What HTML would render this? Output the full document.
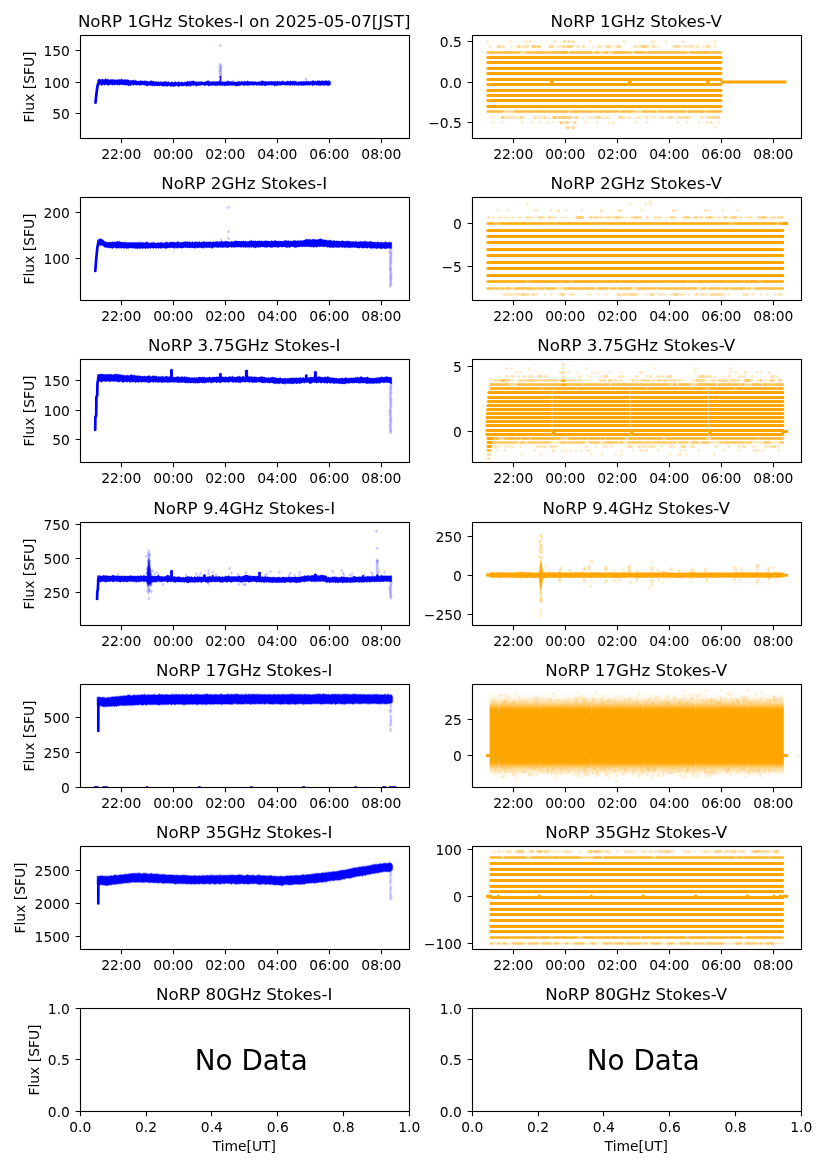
<!DOCTYPE html>
<html lang="en"><head><meta charset="utf-8"><title>NoRP daily plot 2025-05-07</title>
<style>html,body{margin:0;padding:0;background:#fff}svg{display:block}</style></head>
<body>
<svg width="827" height="1169" viewBox="0 0 827 1169" font-family="'DejaVu Sans', 'Liberation Sans', sans-serif" fill="#000">
<rect width="827" height="1169" fill="#fff"/>
<g id="ax00">
<clipPath id="cp00"><rect x="80.5" y="35.5" width="329.0" height="103"/></clipPath>
<g clip-path="url(#cp00)"><path d="M95.5 102.6 96.1 97 96.9 90 97.6 85.5 98.5 82.6" fill="none" stroke="#0000ff" stroke-width="2.7" stroke-linejoin="round" stroke-linecap="round"/><path d="M97.6 79.8 98.6 79.2 99.6 78.9 100.6 79.6 101.6 79.4 102.6 78.8 103.6 79.9 104.6 79.5 105.6 78.6 106.6 79.6 107.6 79 108.6 79.4 109.6 79.8 110.6 79.7 111.6 79.3 112.6 79.6 113.6 79.5 114.6 79.8 115.6 79.9 116.6 79.4 117.6 79.7 118.6 79.7 119.6 79.3 120.6 79.8 121.6 78.6 122.6 80 123.6 79.4 124.6 79.8 125.6 79.6 126.6 79.7 127.6 79.6 128.6 79.9 129.6 80.3 130.6 80.4 131.6 80.6 132.6 80.3 133.6 79.9 134.6 80.7 135.6 79.9 136.6 80.9 137.6 80.9 138.6 81 139.6 81.2 140.6 80.2 141.6 80.9 142.6 80.9 143.6 81.1 144.6 80.8 145.6 80.8 146.6 81.3 147.6 80.9 148.6 81.7 149.6 81.2 150.6 81 151.6 80.4 152.6 81.2 153.6 81.2 154.6 81.8 155.6 81.5 156.6 81.7 157.6 81.7 158.6 81.7 159.6 82 160.6 81.5 161.6 82.1 162.6 81.7 163.6 82 164.6 81.4 165.6 81.2 166.6 81.8 167.6 82 168.6 81.4 169.6 82.3 170.6 82.4 171.6 81.7 172.6 81.9 173.6 82.5 174.6 82.1 175.6 81.6 176.6 82.3 177.6 82.5 178.6 81.6 179.6 81.9 180.6 82.4 181.6 81.7 182.6 82.3 183.6 82.4 184.6 82 185.6 82.1 186.6 81.8 187.6 81 188.6 81.6 189.6 81.7 190.6 81 191.6 81.2 192.6 80.9 193.6 80.8 194.6 81.4 195.6 81.7 196.6 81.8 197.6 82.1 198.6 81.4 199.6 81.9 200.6 81.8 201.6 81.3 202.6 82 203.6 81.9 204.6 81.9 205.6 81.3 206.6 81.5 207.6 80.8 208.6 80.7 209.6 81.3 210.6 81.9 211.6 81.6 212.6 81.4 213.6 81.5 214.6 81.4 215.6 81.9 216.6 81.5 217.6 81.5 218.6 81.4 219.6 80.8 220.6 81.7 221.6 81.9 222.6 81.6 223.6 82 224.6 81.7 225.6 81.7 226.6 81.7 227.6 80.6 228.6 81.4 229.6 81.6 230.6 81.4 231.6 81.4 232.6 81.9 233.6 81.4 234.6 81.9 235.6 82 236.6 82 237.6 81.7 238.6 81.3 239.6 81.4 240.6 81.9 241.6 81 242.6 81.5 243.6 81.7 244.6 81 245.6 81.5 246.6 81.7 247.6 80.6 248.6 81.6 249.6 81.6 250.6 81.6 251.6 81.4 252.6 81.5 253.6 81.9 254.6 81.5 255.6 81.6 256.6 81.9 257.6 81.8 258.6 81.9 259.6 81.3 260.6 81.7 261.6 80.8 262.6 80.7 263.6 81.2 264.6 81.6 265.6 81.3 266.6 81.4 267.6 81.8 268.6 81.3 269.6 81.8 270.6 81.2 271.6 81.2 272.6 81.6 273.6 81.6 274.6 81.3 275.6 81.3 276.6 81.7 277.6 81.1 278.6 81.6 279.6 81.3 280.6 81.5 281.6 81.7 282.6 80.6 283.6 81.6 284.6 81.8 285.6 81.7 286.6 81.6 287.6 81 288.6 81.3 289.6 81.5 290.6 80.7 291.6 81.5 292.6 81.3 293.6 80.9 294.6 81.2 295.6 81.1 296.6 81.8 297.6 82 298.6 81.8 299.6 81.7 300.6 81.3 301.6 81.6 302.6 81.6 303.6 81.3 304.6 81.5 305.6 81.2 306.6 81.1 307.6 81.8 308.6 81.1 309.6 81.7 310.6 81.2 311.6 81.2 312.6 81.7 313.6 80.6 314.6 81.7 315.6 80.7 316.6 81.4 317.6 81.3 318.6 81.5 319.6 80.4 320.6 81.3 321.6 81.1 322.6 81.3 323.6 81 324.6 80.9 325.6 81.1 326.6 81.1 327.6 81.1 328.6 81 329.6 81.5 330.6 81.9 L330.6 84.9 329.6 85 328.6 85.8 327.6 85.4 326.6 85.6 325.6 84.9 324.6 85.4 323.6 85.5 322.6 85.1 321.6 85.4 320.6 85.4 319.6 85.4 318.6 85.5 317.6 85.1 316.6 85.5 315.6 85.1 314.6 85.1 313.6 85.2 312.6 85.9 311.6 85 310.6 84.8 309.6 85.4 308.6 85.1 307.6 85.2 306.6 85.3 305.6 85 304.6 85.4 303.6 85.6 302.6 85.5 301.6 85.4 300.6 85.3 299.6 85.1 298.6 85.8 297.6 84.9 296.6 85.5 295.6 84.9 294.6 85.5 293.6 84.9 292.6 85.5 291.6 84.9 290.6 85.6 289.6 85.4 288.6 85.1 287.6 85 286.6 85.2 285.6 85.3 284.6 85.1 283.6 85 282.6 84.9 281.6 84.9 280.6 85.5 279.6 85.3 278.6 85.3 277.6 85.4 276.6 85.8 275.6 85.2 274.6 86.1 273.6 85.5 272.6 85 271.6 85.3 270.6 85.1 269.6 84.9 268.6 85.3 267.6 85.2 266.6 85.3 265.6 85.7 264.6 86.1 263.6 85 262.6 85.5 261.6 85.4 260.6 85.4 259.6 85.3 258.6 85.2 257.6 85.3 256.6 85.6 255.6 85 254.6 84.9 253.6 85.4 252.6 85.2 251.6 84.9 250.6 85.3 249.6 85.1 248.6 85.8 247.6 85.4 246.6 85.2 245.6 85.3 244.6 85.3 243.6 86 242.6 85 241.6 84.9 240.6 85.5 239.6 85.7 238.6 85.7 237.6 86 236.6 85.7 235.6 86.4 234.6 85.2 233.6 85.3 232.6 85.6 231.6 85.6 230.6 85.2 229.6 85.4 228.6 85.7 227.6 85.7 226.6 85.6 225.6 85.6 224.6 86 223.6 85.2 222.6 85.7 221.6 85.8 220.6 85.1 219.6 86.1 218.6 85.1 217.6 85.4 216.6 85.7 215.6 85.7 214.6 85.5 213.6 85.3 212.6 85.7 211.6 85.2 210.6 85.8 209.6 85.5 208.6 86.2 207.6 85.2 206.6 85.1 205.6 85.6 204.6 85.8 203.6 85.3 202.6 85.1 201.6 85.1 200.6 85.5 199.6 85.5 198.6 85.5 197.6 85.7 196.6 86.3 195.6 85.7 194.6 85.3 193.6 85.5 192.6 85.5 191.6 85.5 190.6 86.5 189.6 85.8 188.6 85.9 187.6 86.1 186.6 86.5 185.6 85.6 184.6 85.7 183.6 86 182.6 85.9 181.6 86.1 180.6 85.8 179.6 86.1 178.6 86.9 177.6 85.9 176.6 85.8 175.6 86.2 174.6 86 173.6 87.1 172.6 86 171.6 86.4 170.6 86.5 169.6 85.8 168.6 85.8 167.6 86.2 166.6 86.4 165.6 86 164.6 86 163.6 86.3 162.6 86.2 161.6 85.9 160.6 85.6 159.6 86.1 158.6 85.7 157.6 85.9 156.6 85.9 155.6 85.5 154.6 86.3 153.6 85.3 152.6 86.2 151.6 85.5 150.6 85.7 149.6 85.1 148.6 85.3 147.6 86.3 146.6 85.7 145.6 85.5 144.6 85.2 143.6 85.1 142.6 84.8 141.6 85.1 140.6 85.2 139.6 85.4 138.6 85.1 137.6 84.9 136.6 85.3 135.6 85.1 134.6 84.7 133.6 85.6 132.6 84.8 131.6 84.7 130.6 85.9 129.6 85.3 128.6 85.9 127.6 85.2 126.6 85.3 125.6 85 124.6 85.2 123.6 84.8 122.6 84.7 121.6 85 120.6 84.6 119.6 85.3 118.6 84.5 117.6 85.2 116.6 85 115.6 84.4 114.6 85 113.6 84.7 112.6 85.4 111.6 84.6 110.6 84.7 109.6 84.8 108.6 85.6 107.6 85.2 106.6 84.7 105.6 84.5 104.6 85.2 103.6 84.5 102.6 85 101.6 85.7 100.6 84.4 99.6 84.9 98.6 85 97.6 84.7z" fill="#0000ff" stroke="#0000ff" stroke-width="0.3" stroke-linejoin="round"/><path d="M311.4 82.5L312.1 81Q313 79.6 313.9 81L314.6 82.5z" fill="#0000ff"/><path d="M316.4 82.5L317.1 81Q318 79.6 318.9 81L319.6 82.5z" fill="#0000ff"/><path d="M320.4 82.5L321.1 81Q322 79.6 322.9 81L323.6 82.5z" fill="#0000ff"/><path d="M324.4 82.5L325.1 81Q326 79.6 326.9 81L327.6 82.5z" fill="#0000ff"/><path d="M327.4 82.5L328.1 81Q329 79.6 329.9 81L330.6 82.5z" fill="#0000ff"/><rect x="219.6" y="76" width="1.8" height="7" fill="#0000ff" fill-opacity="0.9"/><path d="M220.3 63l1.4 1.9l-1.4 1.9l-1.4-1.9zM220.8 64.8l1.4 1.9l-1.4 1.9l-1.4-1.9zM220.3 65.7l1.4 1.9l-1.4 1.9l-1.4-1.9zM220.4 67.6l1.4 1.9l-1.4 1.9l-1.4-1.9zM220.5 68.2l1.4 1.9l-1.4 1.9l-1.4-1.9zM220.1 69.7l1.4 1.9l-1.4 1.9l-1.4-1.9zM220.5 71.5l1.4 1.9l-1.4 1.9l-1.4-1.9zM220.6 73l1.4 1.9l-1.4 1.9l-1.4-1.9zM220.1 74.1l1.4 1.9l-1.4 1.9l-1.4-1.9z" fill="#0000ff" fill-opacity="0.18" stroke="#0000ff" stroke-opacity="0.30" stroke-width="0.5"/><path d="M220.4 43.9l1.1 1.4l-1.1 1.4l-1.1-1.4z" fill="#0000ff" fill-opacity="0.18" stroke="#0000ff" stroke-opacity="0.30" stroke-width="0.5"/><path d="M306 77.8l1.1 1.4l-1.1 1.4l-1.1-1.4zM233 79.6l1.1 1.4l-1.1 1.4l-1.1-1.4z" fill="#0000ff" fill-opacity="0.18" stroke="#0000ff" stroke-opacity="0.30" stroke-width="0.5"/></g>
<path d="M121.5 138.5v4.86M173.5 138.5v4.86M225.5 138.5v4.86M277.5 138.5v4.86M329.5 138.5v4.86M381.5 138.5v4.86M80.5 50.5h-4.86M80.5 82.5h-4.86M80.5 113.5h-4.86" stroke="#000" stroke-width="1.11" fill="none"/>
<rect x="80.5" y="35.5" width="329.0" height="103" fill="none" stroke="#000" stroke-width="1.11"/>
<g font-size="13.889">
<text x="121.26" y="158.78" text-anchor="middle">22:00</text>
<text x="173.28" y="158.78" text-anchor="middle">00:00</text>
<text x="225.29" y="158.78" text-anchor="middle">02:00</text>
<text x="277.31" y="158.78" text-anchor="middle">04:00</text>
<text x="329.33" y="158.78" text-anchor="middle">06:00</text>
<text x="381.34" y="158.78" text-anchor="middle">08:00</text>
<text x="69.90" y="55.78" text-anchor="end">150</text>
<text x="69.90" y="87.78" text-anchor="end">100</text>
<text x="69.90" y="118.78" text-anchor="end">50</text>
<text x="33.8" y="87.0" text-anchor="middle" transform="rotate(-90 33.8 87.0)">Flux [SFU]</text>
</g>
<text x="244.20" y="27.17" font-size="16.667" text-anchor="middle">NoRP 1GHz Stokes-I on 2025-05-07[JST]</text>
</g>
<g id="ax01">
<clipPath id="cp01"><rect x="472.5" y="35.5" width="329.0" height="103"/></clipPath>
<g clip-path="url(#cp01)"><path d="M487.8 57.5H720.9M487.8 62.5H720.9M487.8 68.5H720.9M487.8 73.5H720.9M487.8 79.5H720.9M487.8 84.5H720.9M487.8 90.5H720.9M487.8 95.5H720.9M487.8 100.5H720.9M487.8 106.5H720.9" stroke="#ffa500" stroke-width="3.2" stroke-linecap="round" fill="none"/><path d="M487.8 40.1l1.1 1.4l-1.1 1.4l-1.1-1.4zM564.5 40.1l1.1 1.4l-1.1 1.4l-1.1-1.4zM527 40.1l1.1 1.4l-1.1 1.4l-1.1-1.4zM510.7 40.1l1.1 1.4l-1.1 1.4l-1.1-1.4zM683.4 40.1l1.1 1.4l-1.1 1.4l-1.1-1.4zM569.5 40.1l1.1 1.4l-1.1 1.4l-1.1-1.4zM651.9 40.1l1.1 1.4l-1.1 1.4l-1.1-1.4zM654.1 40.1l1.1 1.4l-1.1 1.4l-1.1-1.4zM590.3 40.1l1.1 1.4l-1.1 1.4l-1.1-1.4zM666.5 40.1l1.1 1.4l-1.1 1.4l-1.1-1.4zM624 40.1l1.1 1.4l-1.1 1.4l-1.1-1.4z" fill="#ffa500" fill-opacity="0.16" stroke="#ffa500" stroke-opacity="0.34" stroke-width="0.5"/><path d="M644.3 45.1l1.1 1.4l-1.1 1.4l-1.1-1.4zM578.8 45.1l1.1 1.4l-1.1 1.4l-1.1-1.4zM539.6 45.1l1.1 1.4l-1.1 1.4l-1.1-1.4zM608.5 45.1l1.1 1.4l-1.1 1.4l-1.1-1.4zM610.6 45.1l1.1 1.4l-1.1 1.4l-1.1-1.4zM619.3 45.1l1.1 1.4l-1.1 1.4l-1.1-1.4zM538.4 45.1l1.1 1.4l-1.1 1.4l-1.1-1.4zM540.4 45.1l1.1 1.4l-1.1 1.4l-1.1-1.4zM584.4 45.1l1.1 1.4l-1.1 1.4l-1.1-1.4zM582.9 45.1l1.1 1.4l-1.1 1.4l-1.1-1.4zM609.2 45.1l1.1 1.4l-1.1 1.4l-1.1-1.4zM497.7 45.1l1.1 1.4l-1.1 1.4l-1.1-1.4zM500.1 45.1l1.1 1.4l-1.1 1.4l-1.1-1.4zM689.4 45.1l1.1 1.4l-1.1 1.4l-1.1-1.4zM649.3 45.1l1.1 1.4l-1.1 1.4l-1.1-1.4zM675.6 45.1l1.1 1.4l-1.1 1.4l-1.1-1.4zM535.1 45.1l1.1 1.4l-1.1 1.4l-1.1-1.4zM537.2 45.1l1.1 1.4l-1.1 1.4l-1.1-1.4zM642.5 45.1l1.1 1.4l-1.1 1.4l-1.1-1.4zM644.3 45.1l1.1 1.4l-1.1 1.4l-1.1-1.4zM647.1 45.1l1.1 1.4l-1.1 1.4l-1.1-1.4zM708.2 45.1l1.1 1.4l-1.1 1.4l-1.1-1.4zM634.5 45.1l1.1 1.4l-1.1 1.4l-1.1-1.4zM613.8 45.1l1.1 1.4l-1.1 1.4l-1.1-1.4zM675.6 45.1l1.1 1.4l-1.1 1.4l-1.1-1.4zM677.7 45.1l1.1 1.4l-1.1 1.4l-1.1-1.4zM598.4 45.1l1.1 1.4l-1.1 1.4l-1.1-1.4zM600 45.1l1.1 1.4l-1.1 1.4l-1.1-1.4zM532.6 45.1l1.1 1.4l-1.1 1.4l-1.1-1.4zM534.5 45.1l1.1 1.4l-1.1 1.4l-1.1-1.4zM607.9 45.1l1.1 1.4l-1.1 1.4l-1.1-1.4zM653.1 45.1l1.1 1.4l-1.1 1.4l-1.1-1.4zM498.9 45.1l1.1 1.4l-1.1 1.4l-1.1-1.4zM549.9 45.1l1.1 1.4l-1.1 1.4l-1.1-1.4zM551.7 45.1l1.1 1.4l-1.1 1.4l-1.1-1.4zM517.4 45.1l1.1 1.4l-1.1 1.4l-1.1-1.4zM519.4 45.1l1.1 1.4l-1.1 1.4l-1.1-1.4zM549.6 45.1l1.1 1.4l-1.1 1.4l-1.1-1.4zM652.7 45.1l1.1 1.4l-1.1 1.4l-1.1-1.4zM710.4 45.1l1.1 1.4l-1.1 1.4l-1.1-1.4zM538.4 45.1l1.1 1.4l-1.1 1.4l-1.1-1.4zM687.5 45.1l1.1 1.4l-1.1 1.4l-1.1-1.4zM641.6 45.1l1.1 1.4l-1.1 1.4l-1.1-1.4zM526.9 45.1l1.1 1.4l-1.1 1.4l-1.1-1.4zM683.5 45.1l1.1 1.4l-1.1 1.4l-1.1-1.4zM685.5 45.1l1.1 1.4l-1.1 1.4l-1.1-1.4zM558.1 45.1l1.1 1.4l-1.1 1.4l-1.1-1.4zM560 45.1l1.1 1.4l-1.1 1.4l-1.1-1.4zM637.8 45.1l1.1 1.4l-1.1 1.4l-1.1-1.4zM640 45.1l1.1 1.4l-1.1 1.4l-1.1-1.4zM518.2 45.1l1.1 1.4l-1.1 1.4l-1.1-1.4zM519.8 45.1l1.1 1.4l-1.1 1.4l-1.1-1.4zM522.2 45.1l1.1 1.4l-1.1 1.4l-1.1-1.4zM524.2 45.1l1.1 1.4l-1.1 1.4l-1.1-1.4zM526.5 45.1l1.1 1.4l-1.1 1.4l-1.1-1.4zM528.4 45.1l1.1 1.4l-1.1 1.4l-1.1-1.4zM679.6 45.1l1.1 1.4l-1.1 1.4l-1.1-1.4zM499.9 45.1l1.1 1.4l-1.1 1.4l-1.1-1.4zM502.3 45.1l1.1 1.4l-1.1 1.4l-1.1-1.4zM504 45.1l1.1 1.4l-1.1 1.4l-1.1-1.4zM643 45.1l1.1 1.4l-1.1 1.4l-1.1-1.4zM645 45.1l1.1 1.4l-1.1 1.4l-1.1-1.4zM553.3 45.1l1.1 1.4l-1.1 1.4l-1.1-1.4zM567.5 45.1l1.1 1.4l-1.1 1.4l-1.1-1.4zM635.5 45.1l1.1 1.4l-1.1 1.4l-1.1-1.4zM675.8 45.1l1.1 1.4l-1.1 1.4l-1.1-1.4zM677.5 45.1l1.1 1.4l-1.1 1.4l-1.1-1.4zM679.5 45.1l1.1 1.4l-1.1 1.4l-1.1-1.4zM511.5 45.1l1.1 1.4l-1.1 1.4l-1.1-1.4zM617.1 45.1l1.1 1.4l-1.1 1.4l-1.1-1.4zM593.5 45.1l1.1 1.4l-1.1 1.4l-1.1-1.4zM533 45.1l1.1 1.4l-1.1 1.4l-1.1-1.4zM550.6 45.1l1.1 1.4l-1.1 1.4l-1.1-1.4zM600.9 45.1l1.1 1.4l-1.1 1.4l-1.1-1.4zM539.4 45.1l1.1 1.4l-1.1 1.4l-1.1-1.4zM490 45.1l1.1 1.4l-1.1 1.4l-1.1-1.4zM643 45.1l1.1 1.4l-1.1 1.4l-1.1-1.4zM645.1 45.1l1.1 1.4l-1.1 1.4l-1.1-1.4zM647.1 45.1l1.1 1.4l-1.1 1.4l-1.1-1.4zM653.5 45.1l1.1 1.4l-1.1 1.4l-1.1-1.4zM655.3 45.1l1.1 1.4l-1.1 1.4l-1.1-1.4zM658.2 45.1l1.1 1.4l-1.1 1.4l-1.1-1.4zM617 45.1l1.1 1.4l-1.1 1.4l-1.1-1.4zM618.7 45.1l1.1 1.4l-1.1 1.4l-1.1-1.4zM620.3 45.1l1.1 1.4l-1.1 1.4l-1.1-1.4zM605.2 45.1l1.1 1.4l-1.1 1.4l-1.1-1.4zM607.2 45.1l1.1 1.4l-1.1 1.4l-1.1-1.4zM696.6 45.1l1.1 1.4l-1.1 1.4l-1.1-1.4zM698.3 45.1l1.1 1.4l-1.1 1.4l-1.1-1.4zM691.5 45.1l1.1 1.4l-1.1 1.4l-1.1-1.4zM693.1 45.1l1.1 1.4l-1.1 1.4l-1.1-1.4zM672.9 45.1l1.1 1.4l-1.1 1.4l-1.1-1.4zM553.5 45.1l1.1 1.4l-1.1 1.4l-1.1-1.4z" fill="#ffa500" fill-opacity="0.16" stroke="#ffa500" stroke-opacity="0.34" stroke-width="0.5"/><path d="M487.8 52.5H720.9" stroke="#ffa500" stroke-width="2.5" stroke-linecap="round" stroke-opacity="0.41" fill="none"/><path d="M487.8 52.5H494M497.6 52.5H506.8M508.3 52.5H514.2M516.1 52.5H518.5M527.4 52.5H531.8M535.3 52.5H544.7M547.9 52.5H552.6M554.2 52.5H559.2M561 52.5H567.4M572.4 52.5H577.1M578.9 52.5H585.8M586.8 52.5H589.2M590.1 52.5H591.3M596.1 52.5H597.9M605.5 52.5H606.8M614.1 52.5H630.6M635.6 52.5H644.1M648 52.5H652M653 52.5H676.5M678.3 52.5H686.1M691 52.5H701.7M702.7 52.5H706.1M708.2 52.5H710.5M711.6 52.5H720.9" stroke="#ffa500" stroke-width="2.7" stroke-linecap="round" stroke-opacity="0.54" fill="none"/><path d="M487.8 111.5H720.9" stroke="#ffa500" stroke-width="2.5" stroke-linecap="round" stroke-opacity="0.41" fill="none"/><path d="M487.8 111.5H502.1M515.6 111.5H529.3M531 111.5H534.4M537.5 111.5H551.1M553.4 111.5H563.8M572.2 111.5H576.6M578.1 111.5H583.5M586.6 111.5H591.3M594.6 111.5H595.9M598.8 111.5H603M605.9 111.5H617.7M622.1 111.5H624.6M626.1 111.5H632.1M643.5 111.5H648.2M651.4 111.5H654.6M659.3 111.5H661.9M664.2 111.5H677.1M678.4 111.5H682.3M683.6 111.5H685.2M689.2 111.5H703.7M707.3 111.5H716.7M718.9 111.5H720.9" stroke="#ffa500" stroke-width="2.7" stroke-linecap="round" stroke-opacity="0.54" fill="none"/><path d="M540 116.1l1.1 1.4l-1.1 1.4l-1.1-1.4zM542.3 116.1l1.1 1.4l-1.1 1.4l-1.1-1.4zM670.1 116.1l1.1 1.4l-1.1 1.4l-1.1-1.4zM604.5 116.1l1.1 1.4l-1.1 1.4l-1.1-1.4zM606.6 116.1l1.1 1.4l-1.1 1.4l-1.1-1.4zM608.4 116.1l1.1 1.4l-1.1 1.4l-1.1-1.4zM576 116.1l1.1 1.4l-1.1 1.4l-1.1-1.4zM715.1 116.1l1.1 1.4l-1.1 1.4l-1.1-1.4zM513.5 116.1l1.1 1.4l-1.1 1.4l-1.1-1.4zM515.7 116.1l1.1 1.4l-1.1 1.4l-1.1-1.4zM517.9 116.1l1.1 1.4l-1.1 1.4l-1.1-1.4zM520.5 116.1l1.1 1.4l-1.1 1.4l-1.1-1.4zM522.8 116.1l1.1 1.4l-1.1 1.4l-1.1-1.4zM715.3 116.1l1.1 1.4l-1.1 1.4l-1.1-1.4zM552.5 116.1l1.1 1.4l-1.1 1.4l-1.1-1.4zM636.3 116.1l1.1 1.4l-1.1 1.4l-1.1-1.4zM638.3 116.1l1.1 1.4l-1.1 1.4l-1.1-1.4zM640.2 116.1l1.1 1.4l-1.1 1.4l-1.1-1.4zM717.6 116.1l1.1 1.4l-1.1 1.4l-1.1-1.4zM719.3 116.1l1.1 1.4l-1.1 1.4l-1.1-1.4zM663.2 116.1l1.1 1.4l-1.1 1.4l-1.1-1.4zM678.4 116.1l1.1 1.4l-1.1 1.4l-1.1-1.4zM622.7 116.1l1.1 1.4l-1.1 1.4l-1.1-1.4zM596.7 116.1l1.1 1.4l-1.1 1.4l-1.1-1.4zM598.5 116.1l1.1 1.4l-1.1 1.4l-1.1-1.4zM707.2 116.1l1.1 1.4l-1.1 1.4l-1.1-1.4zM709.5 116.1l1.1 1.4l-1.1 1.4l-1.1-1.4zM682.8 116.1l1.1 1.4l-1.1 1.4l-1.1-1.4zM684.8 116.1l1.1 1.4l-1.1 1.4l-1.1-1.4zM686.5 116.1l1.1 1.4l-1.1 1.4l-1.1-1.4zM502.8 116.1l1.1 1.4l-1.1 1.4l-1.1-1.4zM644.8 116.1l1.1 1.4l-1.1 1.4l-1.1-1.4zM647.1 116.1l1.1 1.4l-1.1 1.4l-1.1-1.4zM492.8 116.1l1.1 1.4l-1.1 1.4l-1.1-1.4zM502 116.1l1.1 1.4l-1.1 1.4l-1.1-1.4zM504.3 116.1l1.1 1.4l-1.1 1.4l-1.1-1.4zM678.8 116.1l1.1 1.4l-1.1 1.4l-1.1-1.4zM619.9 116.1l1.1 1.4l-1.1 1.4l-1.1-1.4zM569.1 116.1l1.1 1.4l-1.1 1.4l-1.1-1.4zM619.1 116.1l1.1 1.4l-1.1 1.4l-1.1-1.4zM620.9 116.1l1.1 1.4l-1.1 1.4l-1.1-1.4zM623.9 116.1l1.1 1.4l-1.1 1.4l-1.1-1.4zM659.9 116.1l1.1 1.4l-1.1 1.4l-1.1-1.4zM521.2 116.1l1.1 1.4l-1.1 1.4l-1.1-1.4zM655.1 116.1l1.1 1.4l-1.1 1.4l-1.1-1.4zM589 116.1l1.1 1.4l-1.1 1.4l-1.1-1.4zM593.7 116.1l1.1 1.4l-1.1 1.4l-1.1-1.4zM582.6 116.1l1.1 1.4l-1.1 1.4l-1.1-1.4zM544.5 116.1l1.1 1.4l-1.1 1.4l-1.1-1.4zM502.7 116.1l1.1 1.4l-1.1 1.4l-1.1-1.4zM681.8 116.1l1.1 1.4l-1.1 1.4l-1.1-1.4zM596.6 116.1l1.1 1.4l-1.1 1.4l-1.1-1.4zM598.8 116.1l1.1 1.4l-1.1 1.4l-1.1-1.4zM600.4 116.1l1.1 1.4l-1.1 1.4l-1.1-1.4zM508.5 116.1l1.1 1.4l-1.1 1.4l-1.1-1.4zM510.2 116.1l1.1 1.4l-1.1 1.4l-1.1-1.4zM512.5 116.1l1.1 1.4l-1.1 1.4l-1.1-1.4zM554.5 116.1l1.1 1.4l-1.1 1.4l-1.1-1.4zM556.3 116.1l1.1 1.4l-1.1 1.4l-1.1-1.4zM558.8 116.1l1.1 1.4l-1.1 1.4l-1.1-1.4zM599.3 116.1l1.1 1.4l-1.1 1.4l-1.1-1.4zM671.6 116.1l1.1 1.4l-1.1 1.4l-1.1-1.4zM673.4 116.1l1.1 1.4l-1.1 1.4l-1.1-1.4zM667.4 116.1l1.1 1.4l-1.1 1.4l-1.1-1.4zM669.3 116.1l1.1 1.4l-1.1 1.4l-1.1-1.4zM663 116.1l1.1 1.4l-1.1 1.4l-1.1-1.4zM629.3 116.1l1.1 1.4l-1.1 1.4l-1.1-1.4zM563.5 116.1l1.1 1.4l-1.1 1.4l-1.1-1.4zM573.9 116.1l1.1 1.4l-1.1 1.4l-1.1-1.4zM576.2 116.1l1.1 1.4l-1.1 1.4l-1.1-1.4zM578.4 116.1l1.1 1.4l-1.1 1.4l-1.1-1.4zM555.9 116.1l1.1 1.4l-1.1 1.4l-1.1-1.4zM557.8 116.1l1.1 1.4l-1.1 1.4l-1.1-1.4zM560 116.1l1.1 1.4l-1.1 1.4l-1.1-1.4zM521.2 116.1l1.1 1.4l-1.1 1.4l-1.1-1.4zM523 116.1l1.1 1.4l-1.1 1.4l-1.1-1.4zM501.9 116.1l1.1 1.4l-1.1 1.4l-1.1-1.4zM503.7 116.1l1.1 1.4l-1.1 1.4l-1.1-1.4zM506.5 116.1l1.1 1.4l-1.1 1.4l-1.1-1.4zM710.5 116.1l1.1 1.4l-1.1 1.4l-1.1-1.4zM712.2 116.1l1.1 1.4l-1.1 1.4l-1.1-1.4zM714.6 116.1l1.1 1.4l-1.1 1.4l-1.1-1.4zM553.2 116.1l1.1 1.4l-1.1 1.4l-1.1-1.4zM534.9 116.1l1.1 1.4l-1.1 1.4l-1.1-1.4zM536.6 116.1l1.1 1.4l-1.1 1.4l-1.1-1.4zM626 116.1l1.1 1.4l-1.1 1.4l-1.1-1.4zM718.2 116.1l1.1 1.4l-1.1 1.4l-1.1-1.4zM555.3 116.1l1.1 1.4l-1.1 1.4l-1.1-1.4zM685.6 116.1l1.1 1.4l-1.1 1.4l-1.1-1.4zM687.9 116.1l1.1 1.4l-1.1 1.4l-1.1-1.4zM690.1 116.1l1.1 1.4l-1.1 1.4l-1.1-1.4zM680.7 116.1l1.1 1.4l-1.1 1.4l-1.1-1.4zM718.4 116.1l1.1 1.4l-1.1 1.4l-1.1-1.4zM647.7 116.1l1.1 1.4l-1.1 1.4l-1.1-1.4zM629.5 116.1l1.1 1.4l-1.1 1.4l-1.1-1.4zM554.1 116.1l1.1 1.4l-1.1 1.4l-1.1-1.4zM671.2 116.1l1.1 1.4l-1.1 1.4l-1.1-1.4zM619.7 116.1l1.1 1.4l-1.1 1.4l-1.1-1.4zM591 116.1l1.1 1.4l-1.1 1.4l-1.1-1.4zM652.5 116.1l1.1 1.4l-1.1 1.4l-1.1-1.4zM687.7 116.1l1.1 1.4l-1.1 1.4l-1.1-1.4z" fill="#ffa500" fill-opacity="0.16" stroke="#ffa500" stroke-opacity="0.34" stroke-width="0.5"/><path d="M699 121.1l1.1 1.4l-1.1 1.4l-1.1-1.4zM539.8 121.1l1.1 1.4l-1.1 1.4l-1.1-1.4zM493.2 121.1l1.1 1.4l-1.1 1.4l-1.1-1.4zM585.9 121.1l1.1 1.4l-1.1 1.4l-1.1-1.4zM613.8 121.1l1.1 1.4l-1.1 1.4l-1.1-1.4zM647 121.1l1.1 1.4l-1.1 1.4l-1.1-1.4zM567.3 121.1l1.1 1.4l-1.1 1.4l-1.1-1.4zM719.1 121.1l1.1 1.4l-1.1 1.4l-1.1-1.4zM635.4 121.1l1.1 1.4l-1.1 1.4l-1.1-1.4zM502 121.1l1.1 1.4l-1.1 1.4l-1.1-1.4zM597 121.1l1.1 1.4l-1.1 1.4l-1.1-1.4zM687.3 121.1l1.1 1.4l-1.1 1.4l-1.1-1.4zM553.3 121.1l1.1 1.4l-1.1 1.4l-1.1-1.4zM522.3 121.1l1.1 1.4l-1.1 1.4l-1.1-1.4zM677.6 121.1l1.1 1.4l-1.1 1.4l-1.1-1.4zM608.2 121.1l1.1 1.4l-1.1 1.4l-1.1-1.4z" fill="#ffa500" fill-opacity="0.16" stroke="#ffa500" stroke-opacity="0.34" stroke-width="0.5"/><rect x="720.5" y="80.5" width="66" height="3" fill="#ffa500"/><rect x="550.1" y="80.5" width="3.2" height="3" fill="#ffa500"/><rect x="628.1" y="80.5" width="3.2" height="3" fill="#ffa500"/><rect x="706.4" y="80.5" width="3.2" height="3" fill="#ffa500"/><path d="M568 116.1l1.1 1.4l-1.1 1.4l-1.1-1.4zM563 116.1l1.1 1.4l-1.1 1.4l-1.1-1.4zM569.4 121.1l1.1 1.4l-1.1 1.4l-1.1-1.4zM561.4 121.1l1.1 1.4l-1.1 1.4l-1.1-1.4zM573.5 45.1l1.1 1.4l-1.1 1.4l-1.1-1.4zM569.4 45.1l1.1 1.4l-1.1 1.4l-1.1-1.4zM571.7 51.1l1.1 1.4l-1.1 1.4l-1.1-1.4zM560.1 116.1l1.1 1.4l-1.1 1.4l-1.1-1.4zM565.1 110.1l1.1 1.4l-1.1 1.4l-1.1-1.4zM571.4 51.1l1.1 1.4l-1.1 1.4l-1.1-1.4zM568.6 45.1l1.1 1.4l-1.1 1.4l-1.1-1.4zM555 116.1l1.1 1.4l-1.1 1.4l-1.1-1.4zM554.3 40.1l1.1 1.4l-1.1 1.4l-1.1-1.4zM571 116.1l1.1 1.4l-1.1 1.4l-1.1-1.4zM567.8 126.1l1.1 1.4l-1.1 1.4l-1.1-1.4zM560.9 116.1l1.1 1.4l-1.1 1.4l-1.1-1.4zM572.6 126.1l1.1 1.4l-1.1 1.4l-1.1-1.4zM564.8 116.1l1.1 1.4l-1.1 1.4l-1.1-1.4zM571.5 45.1l1.1 1.4l-1.1 1.4l-1.1-1.4zM577.2 45.1l1.1 1.4l-1.1 1.4l-1.1-1.4zM571 45.1l1.1 1.4l-1.1 1.4l-1.1-1.4zM565.4 116.1l1.1 1.4l-1.1 1.4l-1.1-1.4zM562.5 116.1l1.1 1.4l-1.1 1.4l-1.1-1.4zM567.1 45.1l1.1 1.4l-1.1 1.4l-1.1-1.4zM560.3 121.1l1.1 1.4l-1.1 1.4l-1.1-1.4zM576.6 116.1l1.1 1.4l-1.1 1.4l-1.1-1.4zM575.6 121.1l1.1 1.4l-1.1 1.4l-1.1-1.4zM560.8 121.1l1.1 1.4l-1.1 1.4l-1.1-1.4zM568.7 40.1l1.1 1.4l-1.1 1.4l-1.1-1.4zM567.9 126.1l1.1 1.4l-1.1 1.4l-1.1-1.4zM567.3 110.1l1.1 1.4l-1.1 1.4l-1.1-1.4zM572.5 126.1l1.1 1.4l-1.1 1.4l-1.1-1.4zM573.9 126.1l1.1 1.4l-1.1 1.4l-1.1-1.4zM573.6 121.1l1.1 1.4l-1.1 1.4l-1.1-1.4zM562.8 45.1l1.1 1.4l-1.1 1.4l-1.1-1.4zM566.3 116.1l1.1 1.4l-1.1 1.4l-1.1-1.4zM575.1 121.1l1.1 1.4l-1.1 1.4l-1.1-1.4zM566.6 121.1l1.1 1.4l-1.1 1.4l-1.1-1.4zM574 40.1l1.1 1.4l-1.1 1.4l-1.1-1.4zM571.8 40.1l1.1 1.4l-1.1 1.4l-1.1-1.4zM564 121.1l1.1 1.4l-1.1 1.4l-1.1-1.4zM566.4 116.1l1.1 1.4l-1.1 1.4l-1.1-1.4zM564.6 51.1l1.1 1.4l-1.1 1.4l-1.1-1.4zM562.5 121.1l1.1 1.4l-1.1 1.4l-1.1-1.4zM564.8 45.1l1.1 1.4l-1.1 1.4l-1.1-1.4zM570.6 110.1l1.1 1.4l-1.1 1.4l-1.1-1.4zM563.5 45.1l1.1 1.4l-1.1 1.4l-1.1-1.4zM569.2 126.1l1.1 1.4l-1.1 1.4l-1.1-1.4zM562.5 51.1l1.1 1.4l-1.1 1.4l-1.1-1.4zM569.6 116.1l1.1 1.4l-1.1 1.4l-1.1-1.4zM564.3 40.1l1.1 1.4l-1.1 1.4l-1.1-1.4zM570.8 116.1l1.1 1.4l-1.1 1.4l-1.1-1.4zM566.3 121.1l1.1 1.4l-1.1 1.4l-1.1-1.4zM566.3 110.1l1.1 1.4l-1.1 1.4l-1.1-1.4zM570.6 45.1l1.1 1.4l-1.1 1.4l-1.1-1.4zM566.8 126.1l1.1 1.4l-1.1 1.4l-1.1-1.4zM707 121.1l1.1 1.4l-1.1 1.4l-1.1-1.4zM702.1 116.1l1.1 1.4l-1.1 1.4l-1.1-1.4zM715.5 126.1l1.1 1.4l-1.1 1.4l-1.1-1.4zM700.6 110.1l1.1 1.4l-1.1 1.4l-1.1-1.4zM704.3 51.1l1.1 1.4l-1.1 1.4l-1.1-1.4zM711.3 121.1l1.1 1.4l-1.1 1.4l-1.1-1.4zM701.8 116.1l1.1 1.4l-1.1 1.4l-1.1-1.4zM714.1 110.1l1.1 1.4l-1.1 1.4l-1.1-1.4zM703.7 45.1l1.1 1.4l-1.1 1.4l-1.1-1.4zM715.6 45.1l1.1 1.4l-1.1 1.4l-1.1-1.4zM714.8 110.1l1.1 1.4l-1.1 1.4l-1.1-1.4zM707 45.1l1.1 1.4l-1.1 1.4l-1.1-1.4zM706.3 51.1l1.1 1.4l-1.1 1.4l-1.1-1.4zM717.3 110.1l1.1 1.4l-1.1 1.4l-1.1-1.4zM707.5 116.1l1.1 1.4l-1.1 1.4l-1.1-1.4zM707.7 45.1l1.1 1.4l-1.1 1.4l-1.1-1.4zM714.6 40.1l1.1 1.4l-1.1 1.4l-1.1-1.4zM712.1 116.1l1.1 1.4l-1.1 1.4l-1.1-1.4zM711.5 121.1l1.1 1.4l-1.1 1.4l-1.1-1.4zM533.2 45.1l1.1 1.4l-1.1 1.4l-1.1-1.4zM548.3 116.1l1.1 1.4l-1.1 1.4l-1.1-1.4zM548.1 121.1l1.1 1.4l-1.1 1.4l-1.1-1.4zM530.1 40.1l1.1 1.4l-1.1 1.4l-1.1-1.4zM544.8 116.1l1.1 1.4l-1.1 1.4l-1.1-1.4zM534.2 116.1l1.1 1.4l-1.1 1.4l-1.1-1.4zM540.5 51.1l1.1 1.4l-1.1 1.4l-1.1-1.4zM536.9 110.1l1.1 1.4l-1.1 1.4l-1.1-1.4zM535.8 45.1l1.1 1.4l-1.1 1.4l-1.1-1.4zM532.6 121.1l1.1 1.4l-1.1 1.4l-1.1-1.4z" fill="#ffa500" fill-opacity="0.20" stroke="#ffa500" stroke-opacity="0.40" stroke-width="0.5"/></g>
<path d="M513.5 138.5v4.86M565.5 138.5v4.86M617.5 138.5v4.86M669.5 138.5v4.86M721.5 138.5v4.86M773.5 138.5v4.86M472.5 41.5h-4.86M472.5 82.5h-4.86M472.5 122.5h-4.86" stroke="#000" stroke-width="1.11" fill="none"/>
<rect x="472.5" y="35.5" width="329.0" height="103" fill="none" stroke="#000" stroke-width="1.11"/>
<g font-size="13.889">
<text x="513.26" y="158.78" text-anchor="middle">22:00</text>
<text x="565.28" y="158.78" text-anchor="middle">00:00</text>
<text x="617.29" y="158.78" text-anchor="middle">02:00</text>
<text x="669.31" y="158.78" text-anchor="middle">04:00</text>
<text x="721.33" y="158.78" text-anchor="middle">06:00</text>
<text x="773.34" y="158.78" text-anchor="middle">08:00</text>
<text x="461.90" y="46.78" text-anchor="end">0.5</text>
<text x="461.90" y="87.78" text-anchor="end">0.0</text>
<text x="461.90" y="127.78" text-anchor="end">−0.5</text>
</g>
<text x="636.20" y="27.17" font-size="16.667" text-anchor="middle">NoRP 1GHz Stokes-V</text>
</g>
<g id="ax10">
<clipPath id="cp10"><rect x="80.5" y="197.5" width="329.0" height="103"/></clipPath>
<g clip-path="url(#cp10)"><path d="M95.3 270.8 95.9 263 96.6 255 97.4 247 98.4 242.6" fill="none" stroke="#0000ff" stroke-width="2.7" stroke-linejoin="round" stroke-linecap="round"/><path d="M97.4 239.9 98.4 239.8 99.4 238.8 100.4 238.7 101.4 239 102.4 239.4 103.4 240.1 104.4 241.3 105.4 241.4 106.4 242.2 107.4 242.3 108.4 242.2 109.4 242 110.4 242.2 111.4 242.2 112.4 241.8 113.4 242.1 114.4 242.1 115.4 242.1 116.4 241.7 117.4 240.9 118.4 241.9 119.4 241 120.4 242 121.4 241.9 122.4 242.2 123.4 242.4 124.4 241.8 125.4 242.7 126.4 242.3 127.4 242.6 128.4 242.6 129.4 242.3 130.4 242.4 131.4 242.5 132.4 242.6 133.4 242.6 134.4 242.2 135.4 242.5 136.4 242.7 137.4 242.1 138.4 242.4 139.4 242.4 140.4 241.9 141.4 242.7 142.4 242.2 143.4 242.6 144.4 242.9 145.4 242.3 146.4 241.7 147.4 242.3 148.4 242.4 149.4 242.9 150.4 243 151.4 242.6 152.4 242.5 153.4 242.7 154.4 242.3 155.4 243.1 156.4 243 157.4 242.9 158.4 242.4 159.4 242.9 160.4 242.6 161.4 242.3 162.4 242.8 163.4 242.9 164.4 242.8 165.4 242.4 166.4 241.7 167.4 242.3 168.4 242.9 169.4 242 170.4 242.3 171.4 242 172.4 242.1 173.4 242.3 174.4 242.1 175.4 242.6 176.4 242.4 177.4 241.6 178.4 241.6 179.4 242.7 180.4 242.4 181.4 241.9 182.4 242.3 183.4 242 184.4 241.8 185.4 241.4 186.4 242 187.4 241.6 188.4 242.2 189.4 241.5 190.4 242 191.4 242.5 192.4 241.4 193.4 242.3 194.4 242 195.4 241.8 196.4 242 197.4 241.8 198.4 242.3 199.4 241.3 200.4 242.4 201.4 241.7 202.4 242.3 203.4 241.2 204.4 241.7 205.4 241.7 206.4 242.2 207.4 241.7 208.4 241.9 209.4 241.5 210.4 241.9 211.4 242 212.4 242.1 213.4 241.5 214.4 242.2 215.4 241.6 216.4 241.5 217.4 241.3 218.4 241.9 219.4 241.4 220.4 241.9 221.4 241.1 222.4 241.6 223.4 241.7 224.4 241.6 225.4 241.1 226.4 241.3 227.4 241.5 228.4 241.5 229.4 241.8 230.4 241.9 231.4 241.2 232.4 241.7 233.4 241.6 234.4 241.2 235.4 240.7 236.4 241.1 237.4 241.1 238.4 241.1 239.4 241.1 240.4 241.5 241.4 241.1 242.4 241.2 243.4 241.1 244.4 241.2 245.4 241 246.4 241.6 247.4 241.4 248.4 241.5 249.4 241.1 250.4 240.8 251.4 240.3 252.4 240.9 253.4 240.9 254.4 241 255.4 240.8 256.4 241.3 257.4 241.1 258.4 240.8 259.4 240.9 260.4 241.1 261.4 240.8 262.4 241.2 263.4 241.2 264.4 240.8 265.4 241 266.4 240.8 267.4 240.9 268.4 241.1 269.4 241.1 270.4 241.4 271.4 240.6 272.4 241.1 273.4 241.3 274.4 240.6 275.4 240.6 276.4 241 277.4 240.9 278.4 241.3 279.4 240.9 280.4 241.1 281.4 241.1 282.4 241.3 283.4 241.2 284.4 240.5 285.4 240.4 286.4 240.5 287.4 241.1 288.4 240.5 289.4 241.1 290.4 241.2 291.4 240.7 292.4 241.3 293.4 240.6 294.4 240.6 295.4 240.6 296.4 240.9 297.4 240.6 298.4 240.9 299.4 240.6 300.4 240.8 301.4 240.4 302.4 240.6 303.4 240.4 304.4 240 305.4 239.7 306.4 239.3 307.4 239.1 308.4 239.7 309.4 239.3 310.4 239.3 311.4 239.9 312.4 239.2 313.4 239.3 314.4 239.3 315.4 239.7 316.4 239.6 317.4 240 318.4 239 319.4 239.3 320.4 238.6 321.4 239.2 322.4 239.5 323.4 239.5 324.4 240 325.4 239.9 326.4 239.7 327.4 240.7 328.4 240.3 329.4 240.4 330.4 240 331.4 240.6 332.4 241.2 333.4 240.6 334.4 240.4 335.4 241.3 336.4 240.7 337.4 241.1 338.4 241 339.4 240.9 340.4 241.5 341.4 241.1 342.4 240.8 343.4 241 344.4 241.2 345.4 241.4 346.4 241 347.4 241 348.4 241.1 349.4 241.3 350.4 241.6 351.4 241.4 352.4 241.5 353.4 241.4 354.4 241.9 355.4 241.1 356.4 241.7 357.4 242.1 358.4 241.4 359.4 241.8 360.4 241.3 361.4 241.4 362.4 241.7 363.4 241.5 364.4 241.2 365.4 241 366.4 241.7 367.4 241.8 368.4 242 369.4 241.6 370.4 241.3 371.4 241.6 372.4 242 373.4 242.1 374.4 242.3 375.4 242 376.4 242.4 377.4 241.8 378.4 242.1 379.4 242.4 380.4 241.9 381.4 242.6 382.4 242.2 383.4 242.6 384.4 242.4 385.4 241.3 386.4 242.4 387.4 242.5 388.4 242.4 389.4 242 390.4 242.4 391.4 242.2 391.8 242.3 L391.8 249 391.4 247.9 390.4 248.2 389.4 248.6 388.4 248.2 387.4 248 386.4 248.8 385.4 248.7 384.4 248.7 383.4 248.3 382.4 248.2 381.4 249.2 380.4 248.3 379.4 248.4 378.4 248.1 377.4 248.2 376.4 249 375.4 248.2 374.4 248.1 373.4 248 372.4 248.8 371.4 248.1 370.4 248.4 369.4 247.7 368.4 247.6 367.4 248.2 366.4 248.2 365.4 247.8 364.4 247.7 363.4 248.1 362.4 248.2 361.4 247.8 360.4 247.5 359.4 248.2 358.4 247.9 357.4 247.9 356.4 247.4 355.4 247.4 354.4 247.6 353.4 247.3 352.4 247.5 351.4 247.6 350.4 247.7 349.4 247.4 348.4 247.9 347.4 247.2 346.4 247.5 345.4 247.2 344.4 248 343.4 247.2 342.4 247.6 341.4 247.3 340.4 247.1 339.4 247.5 338.4 247.5 337.4 247.5 336.4 247.4 335.4 247.3 334.4 247.3 333.4 247.8 332.4 247.6 331.4 247.5 330.4 247.6 329.4 247.4 328.4 247.1 327.4 247.4 326.4 246.6 325.4 247 324.4 246.6 323.4 247.1 322.4 246.5 321.4 246.4 320.4 246.7 319.4 246.8 318.4 246.4 317.4 246.8 316.4 247.5 315.4 246.7 314.4 247.1 313.4 247.4 312.4 246.7 311.4 247.1 310.4 246.8 309.4 246.9 308.4 246.8 307.4 246.5 306.4 246.4 305.4 247.1 304.4 246.5 303.4 246.6 302.4 247 301.4 246.8 300.4 246.6 299.4 247.1 298.4 247 297.4 246.7 296.4 247.5 295.4 247.4 294.4 247.6 293.4 246.8 292.4 246.7 291.4 246.7 290.4 246.9 289.4 248 288.4 247.1 287.4 247.4 286.4 247.8 285.4 247 284.4 247 283.4 246.8 282.4 247.2 281.4 247.1 280.4 246.7 279.4 246.9 278.4 247.4 277.4 247.4 276.4 247 275.4 247.2 274.4 247 273.4 247 272.4 247.4 271.4 247.5 270.4 247.4 269.4 247 268.4 246.9 267.4 247.3 266.4 247.5 265.4 247.2 264.4 247.2 263.4 246.9 262.4 247 261.4 246.8 260.4 247.4 259.4 246.9 258.4 247.5 257.4 247.1 256.4 247.6 255.4 248 254.4 247.6 253.4 247.4 252.4 247 251.4 247.5 250.4 247 249.4 247.9 248.4 247 247.4 247.2 246.4 247.4 245.4 247.6 244.4 247.1 243.4 247.4 242.4 246.9 241.4 247.4 240.4 247.3 239.4 246.9 238.4 247.3 237.4 247 236.4 247.2 235.4 247.2 234.4 247.3 233.4 247.4 232.4 247.1 231.4 247.4 230.4 247 229.4 247.1 228.4 247.5 227.4 247.8 226.4 247.5 225.4 247.2 224.4 247.2 223.4 247.4 222.4 247.8 221.4 247.3 220.4 247.5 219.4 247.2 218.4 247.5 217.4 247.7 216.4 247.2 215.4 247.2 214.4 247.3 213.4 247.4 212.4 248.2 211.4 248.3 210.4 247.3 209.4 247.9 208.4 247.6 207.4 247.4 206.4 248.1 205.4 247.6 204.4 247.6 203.4 248.5 202.4 247.6 201.4 248.2 200.4 247.6 199.4 247.5 198.4 248.1 197.4 248 196.4 247.3 195.4 248.6 194.4 248.1 193.4 247.7 192.4 248 191.4 247.6 190.4 248.1 189.4 248 188.4 247.7 187.4 247.9 186.4 247.5 185.4 247.8 184.4 247.5 183.4 247.9 182.4 248.1 181.4 248.3 180.4 248.1 179.4 247.7 178.4 247.7 177.4 248.4 176.4 247.8 175.4 247.6 174.4 248.7 173.4 247.7 172.4 247.8 171.4 247.7 170.4 247.8 169.4 247.7 168.4 248 167.4 248.2 166.4 248 165.4 248.9 164.4 248.1 163.4 247.8 162.4 248 161.4 248.4 160.4 248.3 159.4 247.9 158.4 248.5 157.4 247.9 156.4 248.4 155.4 248 154.4 247.9 153.4 248.4 152.4 248 151.4 247.7 150.4 248.5 149.4 248.2 148.4 248.2 147.4 248.5 146.4 248 145.4 248.9 144.4 247.9 143.4 248.5 142.4 248.5 141.4 248 140.4 248.7 139.4 248.4 138.4 248.2 137.4 249.1 136.4 248.3 135.4 248.4 134.4 248.5 133.4 248.1 132.4 248.2 131.4 247.9 130.4 248 129.4 247.8 128.4 248.5 127.4 248.6 126.4 248.4 125.4 247.8 124.4 248.7 123.4 248 122.4 247.8 121.4 248.4 120.4 248 119.4 248.3 118.4 247.9 117.4 248.3 116.4 248.3 115.4 248.1 114.4 247.6 113.4 247.8 112.4 248.7 111.4 248.1 110.4 248.1 109.4 248.1 108.4 247.8 107.4 247.5 106.4 247.7 105.4 247.3 104.4 247.2 103.4 246.3 102.4 245.5 101.4 245.2 100.4 245.8 99.4 245.3 98.4 245.6 97.4 245.4z" fill="#0000ff" stroke="#0000ff" stroke-width="0.3" stroke-linejoin="round"/><path d="M390.6 247.1l1.4 1.9l-1.4 1.9l-1.4-1.9zM390.5 249.8l1.4 1.9l-1.4 1.9l-1.4-1.9zM390.2 251.1l1.4 1.9l-1.4 1.9l-1.4-1.9zM391 252.6l1.4 1.9l-1.4 1.9l-1.4-1.9zM390.7 254.3l1.4 1.9l-1.4 1.9l-1.4-1.9zM390.4 256.2l1.4 1.9l-1.4 1.9l-1.4-1.9zM390.7 257.6l1.4 1.9l-1.4 1.9l-1.4-1.9zM390.6 259.6l1.4 1.9l-1.4 1.9l-1.4-1.9zM390.8 260.8l1.4 1.9l-1.4 1.9l-1.4-1.9zM390.3 262.7l1.4 1.9l-1.4 1.9l-1.4-1.9zM390.4 265l1.4 1.9l-1.4 1.9l-1.4-1.9zM390.5 266.7l1.4 1.9l-1.4 1.9l-1.4-1.9zM390.5 267.8l1.4 1.9l-1.4 1.9l-1.4-1.9zM390.7 269.3l1.4 1.9l-1.4 1.9l-1.4-1.9zM391 271.8l1.4 1.9l-1.4 1.9l-1.4-1.9zM390.5 273l1.4 1.9l-1.4 1.9l-1.4-1.9zM390.9 275.2l1.4 1.9l-1.4 1.9l-1.4-1.9zM390.7 276.1l1.4 1.9l-1.4 1.9l-1.4-1.9zM390.8 277.8l1.4 1.9l-1.4 1.9l-1.4-1.9zM390.7 280.1l1.4 1.9l-1.4 1.9l-1.4-1.9zM390.9 281.8l1.4 1.9l-1.4 1.9l-1.4-1.9zM390.2 283.9l1.4 1.9l-1.4 1.9l-1.4-1.9z" fill="#0000ff" fill-opacity="0.18" stroke="#0000ff" stroke-opacity="0.30" stroke-width="0.5"/><path d="M228.4 205.9l1.1 1.4l-1.1 1.4l-1.1-1.4zM228.4 230.1l1.1 1.4l-1.1 1.4l-1.1-1.4zM228.4 237.1l1.1 1.4l-1.1 1.4l-1.1-1.4zM221 238.6l1.1 1.4l-1.1 1.4l-1.1-1.4z" fill="#0000ff" fill-opacity="0.18" stroke="#0000ff" stroke-opacity="0.30" stroke-width="0.5"/></g>
<path d="M121.5 300.5v4.86M173.5 300.5v4.86M225.5 300.5v4.86M277.5 300.5v4.86M329.5 300.5v4.86M381.5 300.5v4.86M80.5 212.5h-4.86M80.5 258.5h-4.86" stroke="#000" stroke-width="1.11" fill="none"/>
<rect x="80.5" y="197.5" width="329.0" height="103" fill="none" stroke="#000" stroke-width="1.11"/>
<g font-size="13.889">
<text x="121.26" y="320.78" text-anchor="middle">22:00</text>
<text x="173.28" y="320.78" text-anchor="middle">00:00</text>
<text x="225.29" y="320.78" text-anchor="middle">02:00</text>
<text x="277.31" y="320.78" text-anchor="middle">04:00</text>
<text x="329.33" y="320.78" text-anchor="middle">06:00</text>
<text x="381.34" y="320.78" text-anchor="middle">08:00</text>
<text x="69.90" y="217.78" text-anchor="end">200</text>
<text x="69.90" y="263.78" text-anchor="end">100</text>
<text x="33.8" y="249.0" text-anchor="middle" transform="rotate(-90 33.8 249.0)">Flux [SFU]</text>
</g>
<text x="244.20" y="189.17" font-size="16.667" text-anchor="middle">NoRP 2GHz Stokes-I</text>
</g>
<g id="ax11">
<clipPath id="cp11"><rect x="472.5" y="197.5" width="329.0" height="103"/></clipPath>
<g clip-path="url(#cp11)"><path d="M487.8 230.5H782.7M487.8 236.5H782.7M487.8 242.5H782.7M487.8 249.5H782.7M487.8 255.5H782.7M487.8 262.5H782.7M487.8 268.5H782.7M487.8 275.5H782.7" stroke="#ffa500" stroke-width="3.2" stroke-linecap="round" fill="none"/><path d="M645.9 203.1l1.1 1.4l-1.1 1.4l-1.1-1.4zM527.5 203.1l1.1 1.4l-1.1 1.4l-1.1-1.4zM650.6 203.1l1.1 1.4l-1.1 1.4l-1.1-1.4zM630.4 203.1l1.1 1.4l-1.1 1.4l-1.1-1.4z" fill="#ffa500" fill-opacity="0.16" stroke="#ffa500" stroke-opacity="0.34" stroke-width="0.5"/><path d="M673.9 209.1l1.1 1.4l-1.1 1.4l-1.1-1.4zM534.8 209.1l1.1 1.4l-1.1 1.4l-1.1-1.4zM601.7 209.1l1.1 1.4l-1.1 1.4l-1.1-1.4zM704.7 209.1l1.1 1.4l-1.1 1.4l-1.1-1.4zM558.8 209.1l1.1 1.4l-1.1 1.4l-1.1-1.4zM537.3 209.1l1.1 1.4l-1.1 1.4l-1.1-1.4zM642.1 209.1l1.1 1.4l-1.1 1.4l-1.1-1.4zM620.2 209.1l1.1 1.4l-1.1 1.4l-1.1-1.4zM557.8 209.1l1.1 1.4l-1.1 1.4l-1.1-1.4zM581.9 209.1l1.1 1.4l-1.1 1.4l-1.1-1.4zM600.8 209.1l1.1 1.4l-1.1 1.4l-1.1-1.4zM672.9 209.1l1.1 1.4l-1.1 1.4l-1.1-1.4zM619.1 209.1l1.1 1.4l-1.1 1.4l-1.1-1.4zM737.5 209.1l1.1 1.4l-1.1 1.4l-1.1-1.4zM722.7 209.1l1.1 1.4l-1.1 1.4l-1.1-1.4zM551.3 209.1l1.1 1.4l-1.1 1.4l-1.1-1.4zM709.4 209.1l1.1 1.4l-1.1 1.4l-1.1-1.4zM676.6 209.1l1.1 1.4l-1.1 1.4l-1.1-1.4zM498.3 209.1l1.1 1.4l-1.1 1.4l-1.1-1.4zM566.3 209.1l1.1 1.4l-1.1 1.4l-1.1-1.4zM620.3 209.1l1.1 1.4l-1.1 1.4l-1.1-1.4zM507.9 209.1l1.1 1.4l-1.1 1.4l-1.1-1.4zM706.6 209.1l1.1 1.4l-1.1 1.4l-1.1-1.4z" fill="#ffa500" fill-opacity="0.16" stroke="#ffa500" stroke-opacity="0.34" stroke-width="0.5"/><path d="M675.5 216.1l1.1 1.4l-1.1 1.4l-1.1-1.4zM706.8 216.1l1.1 1.4l-1.1 1.4l-1.1-1.4zM709 216.1l1.1 1.4l-1.1 1.4l-1.1-1.4zM710.2 216.1l1.1 1.4l-1.1 1.4l-1.1-1.4zM635.6 216.1l1.1 1.4l-1.1 1.4l-1.1-1.4zM637.6 216.1l1.1 1.4l-1.1 1.4l-1.1-1.4zM488.7 216.1l1.1 1.4l-1.1 1.4l-1.1-1.4zM602.2 216.1l1.1 1.4l-1.1 1.4l-1.1-1.4zM583.1 216.1l1.1 1.4l-1.1 1.4l-1.1-1.4zM735.4 216.1l1.1 1.4l-1.1 1.4l-1.1-1.4zM647.2 216.1l1.1 1.4l-1.1 1.4l-1.1-1.4zM488.6 216.1l1.1 1.4l-1.1 1.4l-1.1-1.4zM685.2 216.1l1.1 1.4l-1.1 1.4l-1.1-1.4zM687.6 216.1l1.1 1.4l-1.1 1.4l-1.1-1.4zM689.9 216.1l1.1 1.4l-1.1 1.4l-1.1-1.4zM505.3 216.1l1.1 1.4l-1.1 1.4l-1.1-1.4zM498.9 216.1l1.1 1.4l-1.1 1.4l-1.1-1.4zM660.1 216.1l1.1 1.4l-1.1 1.4l-1.1-1.4zM725.1 216.1l1.1 1.4l-1.1 1.4l-1.1-1.4zM526.8 216.1l1.1 1.4l-1.1 1.4l-1.1-1.4zM723.7 216.1l1.1 1.4l-1.1 1.4l-1.1-1.4zM725.9 216.1l1.1 1.4l-1.1 1.4l-1.1-1.4zM727.2 216.1l1.1 1.4l-1.1 1.4l-1.1-1.4zM604.8 216.1l1.1 1.4l-1.1 1.4l-1.1-1.4zM607 216.1l1.1 1.4l-1.1 1.4l-1.1-1.4zM608.2 216.1l1.1 1.4l-1.1 1.4l-1.1-1.4zM566.2 216.1l1.1 1.4l-1.1 1.4l-1.1-1.4zM775.2 216.1l1.1 1.4l-1.1 1.4l-1.1-1.4zM615.7 216.1l1.1 1.4l-1.1 1.4l-1.1-1.4zM617.7 216.1l1.1 1.4l-1.1 1.4l-1.1-1.4zM619 216.1l1.1 1.4l-1.1 1.4l-1.1-1.4zM712.7 216.1l1.1 1.4l-1.1 1.4l-1.1-1.4zM714.7 216.1l1.1 1.4l-1.1 1.4l-1.1-1.4zM717.4 216.1l1.1 1.4l-1.1 1.4l-1.1-1.4zM577.5 216.1l1.1 1.4l-1.1 1.4l-1.1-1.4zM579.4 216.1l1.1 1.4l-1.1 1.4l-1.1-1.4zM581.9 216.1l1.1 1.4l-1.1 1.4l-1.1-1.4zM561.7 216.1l1.1 1.4l-1.1 1.4l-1.1-1.4zM778.6 216.1l1.1 1.4l-1.1 1.4l-1.1-1.4zM780.8 216.1l1.1 1.4l-1.1 1.4l-1.1-1.4zM782.3 216.1l1.1 1.4l-1.1 1.4l-1.1-1.4zM694.8 216.1l1.1 1.4l-1.1 1.4l-1.1-1.4zM581.6 216.1l1.1 1.4l-1.1 1.4l-1.1-1.4zM550.5 216.1l1.1 1.4l-1.1 1.4l-1.1-1.4zM552.4 216.1l1.1 1.4l-1.1 1.4l-1.1-1.4zM590 216.1l1.1 1.4l-1.1 1.4l-1.1-1.4zM591.7 216.1l1.1 1.4l-1.1 1.4l-1.1-1.4zM640.7 216.1l1.1 1.4l-1.1 1.4l-1.1-1.4zM730.9 216.1l1.1 1.4l-1.1 1.4l-1.1-1.4zM732.9 216.1l1.1 1.4l-1.1 1.4l-1.1-1.4zM658.3 216.1l1.1 1.4l-1.1 1.4l-1.1-1.4zM501.4 216.1l1.1 1.4l-1.1 1.4l-1.1-1.4zM533.6 216.1l1.1 1.4l-1.1 1.4l-1.1-1.4zM739.9 216.1l1.1 1.4l-1.1 1.4l-1.1-1.4zM741.5 216.1l1.1 1.4l-1.1 1.4l-1.1-1.4zM636.9 216.1l1.1 1.4l-1.1 1.4l-1.1-1.4zM778 216.1l1.1 1.4l-1.1 1.4l-1.1-1.4zM780.4 216.1l1.1 1.4l-1.1 1.4l-1.1-1.4zM782.1 216.1l1.1 1.4l-1.1 1.4l-1.1-1.4zM594.2 216.1l1.1 1.4l-1.1 1.4l-1.1-1.4zM596.4 216.1l1.1 1.4l-1.1 1.4l-1.1-1.4zM590.1 216.1l1.1 1.4l-1.1 1.4l-1.1-1.4zM576.3 216.1l1.1 1.4l-1.1 1.4l-1.1-1.4zM578.1 216.1l1.1 1.4l-1.1 1.4l-1.1-1.4zM580.8 216.1l1.1 1.4l-1.1 1.4l-1.1-1.4zM577 216.1l1.1 1.4l-1.1 1.4l-1.1-1.4zM578.7 216.1l1.1 1.4l-1.1 1.4l-1.1-1.4zM580.2 216.1l1.1 1.4l-1.1 1.4l-1.1-1.4zM626.2 216.1l1.1 1.4l-1.1 1.4l-1.1-1.4zM761.1 216.1l1.1 1.4l-1.1 1.4l-1.1-1.4zM530.7 216.1l1.1 1.4l-1.1 1.4l-1.1-1.4zM600.9 216.1l1.1 1.4l-1.1 1.4l-1.1-1.4zM594.9 216.1l1.1 1.4l-1.1 1.4l-1.1-1.4zM597.3 216.1l1.1 1.4l-1.1 1.4l-1.1-1.4zM599.3 216.1l1.1 1.4l-1.1 1.4l-1.1-1.4zM730.9 216.1l1.1 1.4l-1.1 1.4l-1.1-1.4zM733.3 216.1l1.1 1.4l-1.1 1.4l-1.1-1.4zM734.5 216.1l1.1 1.4l-1.1 1.4l-1.1-1.4zM695.5 216.1l1.1 1.4l-1.1 1.4l-1.1-1.4zM710.8 216.1l1.1 1.4l-1.1 1.4l-1.1-1.4zM758.1 216.1l1.1 1.4l-1.1 1.4l-1.1-1.4zM594.3 216.1l1.1 1.4l-1.1 1.4l-1.1-1.4zM746.1 216.1l1.1 1.4l-1.1 1.4l-1.1-1.4zM748.1 216.1l1.1 1.4l-1.1 1.4l-1.1-1.4zM655.9 216.1l1.1 1.4l-1.1 1.4l-1.1-1.4zM699.7 216.1l1.1 1.4l-1.1 1.4l-1.1-1.4zM774.5 216.1l1.1 1.4l-1.1 1.4l-1.1-1.4zM540.3 216.1l1.1 1.4l-1.1 1.4l-1.1-1.4zM542.7 216.1l1.1 1.4l-1.1 1.4l-1.1-1.4zM544.1 216.1l1.1 1.4l-1.1 1.4l-1.1-1.4zM578.7 216.1l1.1 1.4l-1.1 1.4l-1.1-1.4zM580.6 216.1l1.1 1.4l-1.1 1.4l-1.1-1.4zM582.8 216.1l1.1 1.4l-1.1 1.4l-1.1-1.4zM719.8 216.1l1.1 1.4l-1.1 1.4l-1.1-1.4zM682.2 216.1l1.1 1.4l-1.1 1.4l-1.1-1.4zM684.4 216.1l1.1 1.4l-1.1 1.4l-1.1-1.4zM685.8 216.1l1.1 1.4l-1.1 1.4l-1.1-1.4zM637 216.1l1.1 1.4l-1.1 1.4l-1.1-1.4zM639.2 216.1l1.1 1.4l-1.1 1.4l-1.1-1.4zM640.5 216.1l1.1 1.4l-1.1 1.4l-1.1-1.4zM672.4 216.1l1.1 1.4l-1.1 1.4l-1.1-1.4zM669.6 216.1l1.1 1.4l-1.1 1.4l-1.1-1.4zM671.2 216.1l1.1 1.4l-1.1 1.4l-1.1-1.4zM674 216.1l1.1 1.4l-1.1 1.4l-1.1-1.4zM697.3 216.1l1.1 1.4l-1.1 1.4l-1.1-1.4zM591.2 216.1l1.1 1.4l-1.1 1.4l-1.1-1.4zM538 216.1l1.1 1.4l-1.1 1.4l-1.1-1.4zM540.1 216.1l1.1 1.4l-1.1 1.4l-1.1-1.4zM539.5 216.1l1.1 1.4l-1.1 1.4l-1.1-1.4zM517.9 216.1l1.1 1.4l-1.1 1.4l-1.1-1.4zM519.8 216.1l1.1 1.4l-1.1 1.4l-1.1-1.4zM633.5 216.1l1.1 1.4l-1.1 1.4l-1.1-1.4zM508.7 216.1l1.1 1.4l-1.1 1.4l-1.1-1.4zM612.6 216.1l1.1 1.4l-1.1 1.4l-1.1-1.4zM526.5 216.1l1.1 1.4l-1.1 1.4l-1.1-1.4zM528.7 216.1l1.1 1.4l-1.1 1.4l-1.1-1.4zM513 216.1l1.1 1.4l-1.1 1.4l-1.1-1.4zM493.4 216.1l1.1 1.4l-1.1 1.4l-1.1-1.4zM688.5 216.1l1.1 1.4l-1.1 1.4l-1.1-1.4zM611 216.1l1.1 1.4l-1.1 1.4l-1.1-1.4zM762.6 216.1l1.1 1.4l-1.1 1.4l-1.1-1.4zM764.7 216.1l1.1 1.4l-1.1 1.4l-1.1-1.4zM770.4 216.1l1.1 1.4l-1.1 1.4l-1.1-1.4zM772.4 216.1l1.1 1.4l-1.1 1.4l-1.1-1.4zM616.1 216.1l1.1 1.4l-1.1 1.4l-1.1-1.4zM614.4 216.1l1.1 1.4l-1.1 1.4l-1.1-1.4zM616.1 216.1l1.1 1.4l-1.1 1.4l-1.1-1.4zM618.9 216.1l1.1 1.4l-1.1 1.4l-1.1-1.4zM686.6 216.1l1.1 1.4l-1.1 1.4l-1.1-1.4zM555.1 216.1l1.1 1.4l-1.1 1.4l-1.1-1.4zM707.7 216.1l1.1 1.4l-1.1 1.4l-1.1-1.4zM709.8 216.1l1.1 1.4l-1.1 1.4l-1.1-1.4zM619.2 216.1l1.1 1.4l-1.1 1.4l-1.1-1.4zM621 216.1l1.1 1.4l-1.1 1.4l-1.1-1.4zM623.2 216.1l1.1 1.4l-1.1 1.4l-1.1-1.4zM541.2 216.1l1.1 1.4l-1.1 1.4l-1.1-1.4zM666.2 216.1l1.1 1.4l-1.1 1.4l-1.1-1.4zM733.4 216.1l1.1 1.4l-1.1 1.4l-1.1-1.4zM735.3 216.1l1.1 1.4l-1.1 1.4l-1.1-1.4zM737.1 216.1l1.1 1.4l-1.1 1.4l-1.1-1.4zM750.1 216.1l1.1 1.4l-1.1 1.4l-1.1-1.4zM751.7 216.1l1.1 1.4l-1.1 1.4l-1.1-1.4zM694.7 216.1l1.1 1.4l-1.1 1.4l-1.1-1.4zM697 216.1l1.1 1.4l-1.1 1.4l-1.1-1.4zM549.7 216.1l1.1 1.4l-1.1 1.4l-1.1-1.4zM764.8 216.1l1.1 1.4l-1.1 1.4l-1.1-1.4zM766.7 216.1l1.1 1.4l-1.1 1.4l-1.1-1.4zM762.1 216.1l1.1 1.4l-1.1 1.4l-1.1-1.4zM764.2 216.1l1.1 1.4l-1.1 1.4l-1.1-1.4zM765.5 216.1l1.1 1.4l-1.1 1.4l-1.1-1.4zM654.9 216.1l1.1 1.4l-1.1 1.4l-1.1-1.4zM757.7 216.1l1.1 1.4l-1.1 1.4l-1.1-1.4zM759.9 216.1l1.1 1.4l-1.1 1.4l-1.1-1.4zM762 216.1l1.1 1.4l-1.1 1.4l-1.1-1.4zM548.9 216.1l1.1 1.4l-1.1 1.4l-1.1-1.4zM647.4 216.1l1.1 1.4l-1.1 1.4l-1.1-1.4zM672.4 216.1l1.1 1.4l-1.1 1.4l-1.1-1.4zM701 216.1l1.1 1.4l-1.1 1.4l-1.1-1.4zM703 216.1l1.1 1.4l-1.1 1.4l-1.1-1.4zM705.8 216.1l1.1 1.4l-1.1 1.4l-1.1-1.4zM709.3 216.1l1.1 1.4l-1.1 1.4l-1.1-1.4zM725.4 216.1l1.1 1.4l-1.1 1.4l-1.1-1.4zM608.9 216.1l1.1 1.4l-1.1 1.4l-1.1-1.4zM630.2 216.1l1.1 1.4l-1.1 1.4l-1.1-1.4zM632 216.1l1.1 1.4l-1.1 1.4l-1.1-1.4zM634.6 216.1l1.1 1.4l-1.1 1.4l-1.1-1.4z" fill="#ffa500" fill-opacity="0.16" stroke="#ffa500" stroke-opacity="0.34" stroke-width="0.5"/><path d="M487.8 223.5H782.7" stroke="#ffa500" stroke-width="2.5" stroke-linecap="round" stroke-opacity="0.71" fill="none"/><path d="M487.8 223.5H492.2M500.9 223.5H510.3M511.1 223.5H529.1M530.8 223.5H534.6M537.6 223.5H544.3M547.8 223.5H552.9M557.3 223.5H582.5M584 223.5H588.6M589.6 223.5H591M591.9 223.5H596.7M599.5 223.5H601.3M603.9 223.5H605.9M609.3 223.5H615.6M616.4 223.5H651.6M653.8 223.5H655.6M656.4 223.5H661.5M663.9 223.5H678.4M679.3 223.5H698.2M699.6 223.5H705.1M706.7 223.5H717.4M719.6 223.5H727.7M734.6 223.5H742.2M743.6 223.5H749.2M750.5 223.5H756.6M757.7 223.5H766.1M769 223.5H774.9M780.7 223.5H782.7" stroke="#ffa500" stroke-width="2.7" stroke-linecap="round" stroke-opacity="0.64" fill="none"/><path d="M487.8 281.5H782.7" stroke="#ffa500" stroke-width="2.5" stroke-linecap="round" stroke-opacity="0.79" fill="none"/><path d="M487.8 281.5H489.9M491.6 281.5H494.8M495.8 281.5H500.9M502 281.5H509.4M510.3 281.5H512.2M513.7 281.5H519.9M521.8 281.5H524.1M530.3 281.5H534.2M536.3 281.5H545.5M547.1 281.5H556M557.1 281.5H560.3M563.8 281.5H568M574.4 281.5H580M581.9 281.5H588.6M591.4 281.5H598.2M599.1 281.5H604.3M607.4 281.5H616M616.9 281.5H618.4M621.4 281.5H624.9M627.3 281.5H639.6M640.7 281.5H642.3M643.6 281.5H670.2M671.8 281.5H675M676 281.5H685.6M689.9 281.5H691.1M693.3 281.5H694.6M697.9 281.5H699.9M701.8 281.5H704.3M706 281.5H714.1M715.3 281.5H725.3M727.3 281.5H729.3M731.4 281.5H741.9M746.1 281.5H747.6M750.4 281.5H756.5M762 281.5H769.4M772 281.5H780.6M782 281.5H782.7" stroke="#ffa500" stroke-width="2.7" stroke-linecap="round" stroke-opacity="0.66" fill="none"/><path d="M487.8 288.5H782.7" stroke="#ffa500" stroke-width="2.5" stroke-linecap="round" stroke-opacity="0.36" fill="none"/><path d="M487.8 288.5H489M491 288.5H492.4M495.7 288.5H497.7M501.4 288.5H503.5M507.2 288.5H509.6M515.5 288.5H522.2M523.9 288.5H526.3M527.1 288.5H531.9M533.8 288.5H536.3M539.6 288.5H542.9M546 288.5H554.5M565 288.5H593.1M598.1 288.5H602.2M603.4 288.5H607.2M611.5 288.5H615.1M619.3 288.5H630.6M638.1 288.5H639.5M642 288.5H652.9M653.7 288.5H654.8M658.1 288.5H662.2M663.9 288.5H668M669.9 288.5H677M678.8 288.5H687.6M689.1 288.5H690.7M693.2 288.5H695.3M702.4 288.5H704.9M709.8 288.5H713.7M715.1 288.5H720.2M724.3 288.5H728M731.8 288.5H737.6M739.7 288.5H744.7M747.9 288.5H749.2M756 288.5H759.1M759.9 288.5H762.9M765.4 288.5H771.2M772.4 288.5H774.6M776.1 288.5H782.7" stroke="#ffa500" stroke-width="2.7" stroke-linecap="round" stroke-opacity="0.52" fill="none"/><path d="M697.3 293.1l1.1 1.4l-1.1 1.4l-1.1-1.4zM688.2 293.1l1.1 1.4l-1.1 1.4l-1.1-1.4zM673.9 293.1l1.1 1.4l-1.1 1.4l-1.1-1.4zM676 293.1l1.1 1.4l-1.1 1.4l-1.1-1.4zM744.8 293.1l1.1 1.4l-1.1 1.4l-1.1-1.4zM746.7 293.1l1.1 1.4l-1.1 1.4l-1.1-1.4zM651.7 293.1l1.1 1.4l-1.1 1.4l-1.1-1.4zM531.3 293.1l1.1 1.4l-1.1 1.4l-1.1-1.4zM618.9 293.1l1.1 1.4l-1.1 1.4l-1.1-1.4zM620.5 293.1l1.1 1.4l-1.1 1.4l-1.1-1.4zM618.5 293.1l1.1 1.4l-1.1 1.4l-1.1-1.4zM551.3 293.1l1.1 1.4l-1.1 1.4l-1.1-1.4zM670.9 293.1l1.1 1.4l-1.1 1.4l-1.1-1.4zM523.2 293.1l1.1 1.4l-1.1 1.4l-1.1-1.4zM524.9 293.1l1.1 1.4l-1.1 1.4l-1.1-1.4zM506.3 293.1l1.1 1.4l-1.1 1.4l-1.1-1.4zM665.6 293.1l1.1 1.4l-1.1 1.4l-1.1-1.4zM598.9 293.1l1.1 1.4l-1.1 1.4l-1.1-1.4zM624.2 293.1l1.1 1.4l-1.1 1.4l-1.1-1.4zM626.2 293.1l1.1 1.4l-1.1 1.4l-1.1-1.4zM627.8 293.1l1.1 1.4l-1.1 1.4l-1.1-1.4zM605.9 293.1l1.1 1.4l-1.1 1.4l-1.1-1.4zM767 293.1l1.1 1.4l-1.1 1.4l-1.1-1.4zM508.7 293.1l1.1 1.4l-1.1 1.4l-1.1-1.4zM510.4 293.1l1.1 1.4l-1.1 1.4l-1.1-1.4zM512.2 293.1l1.1 1.4l-1.1 1.4l-1.1-1.4zM587.5 293.1l1.1 1.4l-1.1 1.4l-1.1-1.4zM721.1 293.1l1.1 1.4l-1.1 1.4l-1.1-1.4zM723 293.1l1.1 1.4l-1.1 1.4l-1.1-1.4zM590.6 293.1l1.1 1.4l-1.1 1.4l-1.1-1.4zM630.1 293.1l1.1 1.4l-1.1 1.4l-1.1-1.4zM632.2 293.1l1.1 1.4l-1.1 1.4l-1.1-1.4zM781 293.1l1.1 1.4l-1.1 1.4l-1.1-1.4zM653.1 293.1l1.1 1.4l-1.1 1.4l-1.1-1.4zM655.5 293.1l1.1 1.4l-1.1 1.4l-1.1-1.4zM724.2 293.1l1.1 1.4l-1.1 1.4l-1.1-1.4zM679.8 293.1l1.1 1.4l-1.1 1.4l-1.1-1.4zM681.5 293.1l1.1 1.4l-1.1 1.4l-1.1-1.4zM683.9 293.1l1.1 1.4l-1.1 1.4l-1.1-1.4zM520 293.1l1.1 1.4l-1.1 1.4l-1.1-1.4zM522 293.1l1.1 1.4l-1.1 1.4l-1.1-1.4zM523.9 293.1l1.1 1.4l-1.1 1.4l-1.1-1.4zM526.2 293.1l1.1 1.4l-1.1 1.4l-1.1-1.4zM528.4 293.1l1.1 1.4l-1.1 1.4l-1.1-1.4zM628.9 293.1l1.1 1.4l-1.1 1.4l-1.1-1.4zM630.9 293.1l1.1 1.4l-1.1 1.4l-1.1-1.4zM632.1 293.1l1.1 1.4l-1.1 1.4l-1.1-1.4zM718.4 293.1l1.1 1.4l-1.1 1.4l-1.1-1.4zM624.2 293.1l1.1 1.4l-1.1 1.4l-1.1-1.4zM743.9 293.1l1.1 1.4l-1.1 1.4l-1.1-1.4zM622.9 293.1l1.1 1.4l-1.1 1.4l-1.1-1.4zM778.9 293.1l1.1 1.4l-1.1 1.4l-1.1-1.4zM780.6 293.1l1.1 1.4l-1.1 1.4l-1.1-1.4zM645.5 293.1l1.1 1.4l-1.1 1.4l-1.1-1.4zM514.6 293.1l1.1 1.4l-1.1 1.4l-1.1-1.4zM517 293.1l1.1 1.4l-1.1 1.4l-1.1-1.4zM518.5 293.1l1.1 1.4l-1.1 1.4l-1.1-1.4zM711.9 293.1l1.1 1.4l-1.1 1.4l-1.1-1.4zM714.2 293.1l1.1 1.4l-1.1 1.4l-1.1-1.4zM716.6 293.1l1.1 1.4l-1.1 1.4l-1.1-1.4zM709.5 293.1l1.1 1.4l-1.1 1.4l-1.1-1.4zM711.3 293.1l1.1 1.4l-1.1 1.4l-1.1-1.4zM651.3 293.1l1.1 1.4l-1.1 1.4l-1.1-1.4zM701.7 293.1l1.1 1.4l-1.1 1.4l-1.1-1.4zM703.9 293.1l1.1 1.4l-1.1 1.4l-1.1-1.4zM705.6 293.1l1.1 1.4l-1.1 1.4l-1.1-1.4zM676.5 293.1l1.1 1.4l-1.1 1.4l-1.1-1.4zM677.3 293.1l1.1 1.4l-1.1 1.4l-1.1-1.4zM634.5 293.1l1.1 1.4l-1.1 1.4l-1.1-1.4zM636.3 293.1l1.1 1.4l-1.1 1.4l-1.1-1.4zM534.7 293.1l1.1 1.4l-1.1 1.4l-1.1-1.4zM536.8 293.1l1.1 1.4l-1.1 1.4l-1.1-1.4zM701.8 293.1l1.1 1.4l-1.1 1.4l-1.1-1.4zM717.9 293.1l1.1 1.4l-1.1 1.4l-1.1-1.4zM720.2 293.1l1.1 1.4l-1.1 1.4l-1.1-1.4zM681.5 293.1l1.1 1.4l-1.1 1.4l-1.1-1.4zM570.6 293.1l1.1 1.4l-1.1 1.4l-1.1-1.4zM572.3 293.1l1.1 1.4l-1.1 1.4l-1.1-1.4zM574 293.1l1.1 1.4l-1.1 1.4l-1.1-1.4zM522.3 293.1l1.1 1.4l-1.1 1.4l-1.1-1.4zM747.7 293.1l1.1 1.4l-1.1 1.4l-1.1-1.4zM633.4 293.1l1.1 1.4l-1.1 1.4l-1.1-1.4zM635.6 293.1l1.1 1.4l-1.1 1.4l-1.1-1.4zM637.9 293.1l1.1 1.4l-1.1 1.4l-1.1-1.4zM752.8 293.1l1.1 1.4l-1.1 1.4l-1.1-1.4zM503.9 293.1l1.1 1.4l-1.1 1.4l-1.1-1.4zM505.8 293.1l1.1 1.4l-1.1 1.4l-1.1-1.4zM533.5 293.1l1.1 1.4l-1.1 1.4l-1.1-1.4zM617.5 293.1l1.1 1.4l-1.1 1.4l-1.1-1.4zM761.1 293.1l1.1 1.4l-1.1 1.4l-1.1-1.4zM659.3 293.1l1.1 1.4l-1.1 1.4l-1.1-1.4zM661.3 293.1l1.1 1.4l-1.1 1.4l-1.1-1.4zM663.2 293.1l1.1 1.4l-1.1 1.4l-1.1-1.4zM533.4 293.1l1.1 1.4l-1.1 1.4l-1.1-1.4zM713 293.1l1.1 1.4l-1.1 1.4l-1.1-1.4zM715.1 293.1l1.1 1.4l-1.1 1.4l-1.1-1.4zM559.9 293.1l1.1 1.4l-1.1 1.4l-1.1-1.4zM561.9 293.1l1.1 1.4l-1.1 1.4l-1.1-1.4zM563.7 293.1l1.1 1.4l-1.1 1.4l-1.1-1.4zM775.5 293.1l1.1 1.4l-1.1 1.4l-1.1-1.4zM728.6 293.1l1.1 1.4l-1.1 1.4l-1.1-1.4zM561 293.1l1.1 1.4l-1.1 1.4l-1.1-1.4zM563.1 293.1l1.1 1.4l-1.1 1.4l-1.1-1.4zM564.3 293.1l1.1 1.4l-1.1 1.4l-1.1-1.4zM673.2 293.1l1.1 1.4l-1.1 1.4l-1.1-1.4zM675.6 293.1l1.1 1.4l-1.1 1.4l-1.1-1.4zM677 293.1l1.1 1.4l-1.1 1.4l-1.1-1.4zM717.4 293.1l1.1 1.4l-1.1 1.4l-1.1-1.4zM544.8 293.1l1.1 1.4l-1.1 1.4l-1.1-1.4zM649.6 293.1l1.1 1.4l-1.1 1.4l-1.1-1.4zM651.8 293.1l1.1 1.4l-1.1 1.4l-1.1-1.4zM652.9 293.1l1.1 1.4l-1.1 1.4l-1.1-1.4zM695.2 293.1l1.1 1.4l-1.1 1.4l-1.1-1.4zM697 293.1l1.1 1.4l-1.1 1.4l-1.1-1.4zM527.7 293.1l1.1 1.4l-1.1 1.4l-1.1-1.4z" fill="#ffa500" fill-opacity="0.16" stroke="#ffa500" stroke-opacity="0.34" stroke-width="0.5"/><rect x="781.5" y="221.9" width="6.5" height="3" fill="#ffa500"/><path d="M650 200.1l1.1 1.4l-1.1 1.4l-1.1-1.4zM728 198.1l1.1 1.4l-1.1 1.4l-1.1-1.4z" fill="#ffa500" fill-opacity="0.18" stroke="#ffa500" stroke-opacity="0.30" stroke-width="0.5"/></g>
<path d="M513.5 300.5v4.86M565.5 300.5v4.86M617.5 300.5v4.86M669.5 300.5v4.86M721.5 300.5v4.86M773.5 300.5v4.86M472.5 223.5h-4.86M472.5 266.5h-4.86" stroke="#000" stroke-width="1.11" fill="none"/>
<rect x="472.5" y="197.5" width="329.0" height="103" fill="none" stroke="#000" stroke-width="1.11"/>
<g font-size="13.889">
<text x="513.26" y="320.78" text-anchor="middle">22:00</text>
<text x="565.28" y="320.78" text-anchor="middle">00:00</text>
<text x="617.29" y="320.78" text-anchor="middle">02:00</text>
<text x="669.31" y="320.78" text-anchor="middle">04:00</text>
<text x="721.33" y="320.78" text-anchor="middle">06:00</text>
<text x="773.34" y="320.78" text-anchor="middle">08:00</text>
<text x="461.90" y="228.78" text-anchor="end">0</text>
<text x="461.90" y="271.78" text-anchor="end">−5</text>
</g>
<text x="636.20" y="189.17" font-size="16.667" text-anchor="middle">NoRP 2GHz Stokes-V</text>
</g>
<g id="ax20">
<clipPath id="cp20"><rect x="80.5" y="359.5" width="329.0" height="103"/></clipPath>
<g clip-path="url(#cp20)"><path d="M95.2 430 95.4 417 96.2 415.5 96.4 397 97.2 395.5 97.5 383 98.4 378" fill="none" stroke="#0000ff" stroke-width="2.7" stroke-linejoin="round" stroke-linecap="round"/><path d="M97.3 374.4 98.3 374.4 99.3 374.3 100.3 374.1 101.3 374 102.3 374.1 103.3 374.6 104.3 374.3 105.3 374.4 106.3 374.6 107.3 374.4 108.3 374.2 109.3 374.2 110.3 374.4 111.3 374 112.3 374.7 113.3 374.7 114.3 374.3 115.3 374.1 116.3 373.7 117.3 375 118.3 374 119.3 374.4 120.3 374.8 121.3 374.6 122.3 375.2 123.3 375.1 124.3 375.3 125.3 375.4 126.3 375.5 127.3 374.9 128.3 375.5 129.3 375.5 130.3 375.1 131.3 374.5 132.3 374.8 133.3 375.7 134.3 374.8 135.3 375.5 136.3 375.9 137.3 375.4 138.3 376 139.3 375.5 140.3 376 141.3 376.2 142.3 376 143.3 376.4 144.3 375.8 145.3 376.4 146.3 376.5 147.3 376 148.3 375.9 149.3 375.2 150.3 376.4 151.3 376.6 152.3 376 153.3 375.5 154.3 376.2 155.3 376.1 156.3 376.5 157.3 376.9 158.3 376.6 159.3 376.6 160.3 376.8 161.3 376.6 162.3 376.2 163.3 376.4 164.3 376.9 165.3 376.6 166.3 376 167.3 376.5 168.3 376.7 169.3 376.5 170.3 377 171.3 376.9 172.3 377.3 173.3 377.1 174.3 377.3 175.3 377.2 176.3 376.7 177.3 376.8 178.3 376.8 179.3 376.8 180.3 377.4 181.3 376.6 182.3 376.4 183.3 377.6 184.3 376.3 185.3 377.3 186.3 376.8 187.3 377.5 188.3 377.1 189.3 377.6 190.3 377.8 191.3 377.8 192.3 377.6 193.3 377.7 194.3 377.5 195.3 377.8 196.3 377.4 197.3 377.7 198.3 377.2 199.3 377.1 200.3 377 201.3 377.6 202.3 376.9 203.3 377.3 204.3 376.9 205.3 377.4 206.3 377.7 207.3 377.3 208.3 377.5 209.3 376.8 210.3 377.2 211.3 377.5 212.3 377.2 213.3 376.9 214.3 376.9 215.3 377.3 216.3 376.7 217.3 376.9 218.3 376.7 219.3 376.7 220.3 376.8 221.3 376.9 222.3 376.8 223.3 376.9 224.3 377.3 225.3 376.5 226.3 376.9 227.3 377.3 228.3 377.1 229.3 376.2 230.3 376.7 231.3 376.9 232.3 375.9 233.3 377.1 234.3 377.1 235.3 377.2 236.3 376.9 237.3 376.5 238.3 376.8 239.3 375.9 240.3 376.7 241.3 377.1 242.3 376.7 243.3 375.9 244.3 376.9 245.3 377.1 246.3 376.4 247.3 376.3 248.3 376.3 249.3 376.8 250.3 376.8 251.3 376.3 252.3 376.9 253.3 377.2 254.3 376.5 255.3 377.1 256.3 377 257.3 377.3 258.3 377.4 259.3 376.7 260.3 377.2 261.3 376.6 262.3 376.6 263.3 377.1 264.3 377.1 265.3 377.6 266.3 377.6 267.3 378 268.3 377.3 269.3 377.9 270.3 377.5 271.3 377.6 272.3 377.1 273.3 377.2 274.3 377.6 275.3 377.6 276.3 377.9 277.3 378.3 278.3 377.9 279.3 378.2 280.3 377.3 281.3 378.5 282.3 378.3 283.3 378.4 284.3 378.3 285.3 378.2 286.3 378.5 287.3 378.2 288.3 378.6 289.3 378.1 290.3 378.1 291.3 377.9 292.3 377.9 293.3 377.8 294.3 378 295.3 377.9 296.3 377.7 297.3 377.9 298.3 377.7 299.3 378.2 300.3 377.1 301.3 378.3 302.3 377.8 303.3 377.2 304.3 378.1 305.3 378.1 306.3 377.8 307.3 377.8 308.3 377.6 309.3 377.8 310.3 377 311.3 377.1 312.3 377.5 313.3 376.7 314.3 377.4 315.3 377 316.3 377.1 317.3 376.9 318.3 376.7 319.3 376.5 320.3 376.9 321.3 377 322.3 377.2 323.3 377.5 324.3 377.3 325.3 376.6 326.3 377.4 327.3 376.5 328.3 376.6 329.3 377.5 330.3 377.5 331.3 377.8 332.3 377.7 333.3 377.7 334.3 377.9 335.3 378.3 336.3 377.9 337.3 378.4 338.3 378.6 339.3 378.2 340.3 378.4 341.3 378 342.3 377.7 343.3 378.4 344.3 378.3 345.3 377.4 346.3 377.8 347.3 378.3 348.3 378.3 349.3 377.9 350.3 378 351.3 377.8 352.3 378.1 353.3 377.7 354.3 377.9 355.3 377.3 356.3 377.4 357.3 376.9 358.3 377.6 359.3 377.8 360.3 376.6 361.3 377.5 362.3 377.2 363.3 377.8 364.3 377.5 365.3 377.5 366.3 377.5 367.3 376.8 368.3 377.4 369.3 378.1 370.3 378.1 371.3 378.1 372.3 378.2 373.3 378.1 374.3 378.2 375.3 377.9 376.3 377.8 377.3 377.7 378.3 377.5 379.3 377.3 380.3 377.6 381.3 376.8 382.3 377 383.3 377.3 384.3 377.1 385.3 377.2 386.3 376.2 387.3 376.7 388.3 377.2 389.3 376.9 390.3 377.6 391.3 377.2 391.8 377.3 L391.8 383.9 391.3 383.9 390.3 383.2 389.3 382.9 388.3 382.4 387.3 382.8 386.3 382.6 385.3 382.3 384.3 383.1 383.3 382.8 382.3 382.5 381.3 382.6 380.3 383.1 379.3 383.4 378.3 383.2 377.3 383 376.3 383.7 375.3 382.9 374.3 383.6 373.3 383.8 372.3 383.3 371.3 383.5 370.3 383.7 369.3 383.1 368.3 383.8 367.3 383.4 366.3 383.7 365.3 383.1 364.3 383.1 363.3 382.8 362.3 383.3 361.3 382.7 360.3 383.2 359.3 383.3 358.3 383.3 357.3 382.7 356.3 383 355.3 382.8 354.3 383.1 353.3 383.2 352.3 382.9 351.3 383 350.3 382.9 349.3 383.5 348.3 383.3 347.3 383 346.3 383.5 345.3 383.8 344.3 384 343.3 383.7 342.3 384 341.3 383.5 340.3 383.9 339.3 383.4 338.3 383.4 337.3 383.4 336.3 383.3 335.3 383.4 334.3 383.5 333.3 383.4 332.3 383 331.3 382.9 330.3 383.4 329.3 383 328.3 382.5 327.3 383.7 326.3 382.9 325.3 382.8 324.3 383.3 323.3 382.8 322.3 382.5 321.3 383.3 320.3 383 319.3 382 318.3 383.1 317.3 382.6 316.3 383.4 315.3 382.6 314.3 382.4 313.3 382.7 312.3 382.5 311.3 383.5 310.3 383.7 309.3 383.4 308.3 382.6 307.3 382.5 306.3 382.5 305.3 382.7 304.3 383.2 303.3 382.8 302.3 382.7 301.3 383.2 300.3 383.5 299.3 383.5 298.3 383.2 297.3 383.5 296.3 383.9 295.3 383 294.3 383.4 293.3 384 292.3 383.8 291.3 383.7 290.3 383.6 289.3 383.7 288.3 383.6 287.3 383.7 286.3 383.1 285.3 384.4 284.3 383.6 283.3 383.9 282.3 383.7 281.3 383.3 280.3 383.2 279.3 384.1 278.3 383.6 277.3 383.5 276.3 383.4 275.3 383.6 274.3 384.1 273.3 383.1 272.3 383.1 271.3 382.7 270.3 382.7 269.3 383.2 268.3 382.8 267.3 382.7 266.3 382.8 265.3 382.5 264.3 383 263.3 382.8 262.3 383 261.3 382.5 260.3 382.4 259.3 382 258.3 382.1 257.3 382.5 256.3 382.5 255.3 382.6 254.3 382.5 253.3 382.4 252.3 382.9 251.3 382 250.3 382.1 249.3 382.7 248.3 382 247.3 381.9 246.3 382 245.3 382.3 244.3 382.1 243.3 382.1 242.3 382 241.3 382.2 240.3 383 239.3 382.3 238.3 382.9 237.3 381.7 236.3 382.4 235.3 382.5 234.3 382 233.3 382.4 232.3 382.4 231.3 381.7 230.3 381.8 229.3 382.2 228.3 382.4 227.3 382.3 226.3 382.1 225.3 382.4 224.3 382.2 223.3 381.9 222.3 382.2 221.3 382.1 220.3 383.2 219.3 382.7 218.3 381.9 217.3 382.6 216.3 382.9 215.3 381.9 214.3 382 213.3 382.5 212.3 382.5 211.3 383.3 210.3 382.4 209.3 382.1 208.3 382.7 207.3 382.1 206.3 382.9 205.3 382.4 204.3 383.5 203.3 382.7 202.3 382.9 201.3 382.7 200.3 382.6 199.3 382.9 198.3 383.3 197.3 383.1 196.3 382.8 195.3 383.7 194.3 382.6 193.3 383.3 192.3 382.7 191.3 382.9 190.3 383.1 189.3 382.5 188.3 383.3 187.3 382.4 186.3 383.1 185.3 383.1 184.3 382.4 183.3 382.2 182.3 382.4 181.3 382.8 180.3 382.6 179.3 382.6 178.3 382.8 177.3 382.4 176.3 382.2 175.3 382.1 174.3 382.8 173.3 382.1 172.3 382.3 171.3 382.3 170.3 382.2 169.3 382.5 168.3 382.6 167.3 382.7 166.3 382.1 165.3 382.3 164.3 382.4 163.3 382.1 162.3 382.9 161.3 382.6 160.3 382 159.3 382.5 158.3 382.2 157.3 382.6 156.3 381.9 155.3 382.5 154.3 381.7 153.3 382.8 152.3 382 151.3 381.8 150.3 382.4 149.3 382.8 148.3 382.8 147.3 382.4 146.3 381.9 145.3 382.3 144.3 382 143.3 382.1 142.3 382 141.3 382.7 140.3 381.6 139.3 382.3 138.3 382.3 137.3 382 136.3 382.2 135.3 382.7 134.3 381.6 133.3 382.2 132.3 382 131.3 381.5 130.3 382.7 129.3 382.1 128.3 381.4 127.3 382.2 126.3 382 125.3 381.8 124.3 381.8 123.3 382.5 122.3 382.6 121.3 381.4 120.3 381.3 119.3 382.3 118.3 381.9 117.3 381.8 116.3 381.5 115.3 381.2 114.3 381.4 113.3 381.6 112.3 381.3 111.3 381.2 110.3 381.6 109.3 382 108.3 381.2 107.3 381.2 106.3 381.5 105.3 381.8 104.3 381.2 103.3 381.1 102.3 382 101.3 382.2 100.3 381.4 99.3 381.3 98.3 381 97.3 380.4z" fill="#0000ff" stroke="#0000ff" stroke-width="0.3" stroke-linejoin="round"/><rect x="170" y="369.5" width="3" height="11.3" fill="#0000ff"/><path d="M170 370.7L170.7 369.5Q171.5 368.1 172.3 369.5L173 370.7z" fill="#0000ff"/><rect x="219.1" y="373.4" width="2.6" height="7.4" fill="#0000ff"/><path d="M219.1 374.6L219.7 373.4Q220.4 372 221.1 373.4L221.7 374.6z" fill="#0000ff"/><rect x="244.9" y="370.1" width="3.2" height="10.7" fill="#0000ff"/><path d="M244.9 371.3L245.6 370.1Q246.5 368.7 247.4 370.1L248.1 371.3z" fill="#0000ff"/><rect x="304.9" y="374.8" width="2.6" height="6" fill="#0000ff"/><path d="M304.9 376L305.5 374.8Q306.2 373.4 306.9 374.8L307.5 376z" fill="#0000ff"/><rect x="313.9" y="371.5" width="3" height="9.3" fill="#0000ff"/><path d="M313.9 372.7L314.6 371.5Q315.4 370.1 316.2 371.5L316.9 372.7z" fill="#0000ff"/><rect x="154.8" y="376.3" width="2.4" height="4.5" fill="#0000ff"/><path d="M154.8 377.5L155.3 376.3Q156 374.9 156.7 376.3L157.2 377.5z" fill="#0000ff"/><rect x="359.7" y="377.1" width="3.2" height="3.7" fill="#0000ff"/><path d="M359.7 378.3L360.4 377.1Q361.3 375.7 362.2 377.1L362.9 378.3z" fill="#0000ff"/><path d="M391 382.4l1.4 1.9l-1.4 1.9l-1.4-1.9zM390.8 384.8l1.4 1.9l-1.4 1.9l-1.4-1.9zM390.6 386l1.4 1.9l-1.4 1.9l-1.4-1.9zM390.6 388.2l1.4 1.9l-1.4 1.9l-1.4-1.9zM390.7 390.4l1.4 1.9l-1.4 1.9l-1.4-1.9zM390.6 391.8l1.4 1.9l-1.4 1.9l-1.4-1.9zM390.3 394.3l1.4 1.9l-1.4 1.9l-1.4-1.9zM390.7 396.7l1.4 1.9l-1.4 1.9l-1.4-1.9zM390.8 397.8l1.4 1.9l-1.4 1.9l-1.4-1.9zM390.6 400l1.4 1.9l-1.4 1.9l-1.4-1.9zM390.8 401.8l1.4 1.9l-1.4 1.9l-1.4-1.9zM390.9 403.8l1.4 1.9l-1.4 1.9l-1.4-1.9zM390.5 405.7l1.4 1.9l-1.4 1.9l-1.4-1.9zM390.5 408.3l1.4 1.9l-1.4 1.9l-1.4-1.9zM390.2 409.5l1.4 1.9l-1.4 1.9l-1.4-1.9zM390.3 411.7l1.4 1.9l-1.4 1.9l-1.4-1.9zM390.3 413l1.4 1.9l-1.4 1.9l-1.4-1.9zM390.5 415.5l1.4 1.9l-1.4 1.9l-1.4-1.9zM390.8 417.2l1.4 1.9l-1.4 1.9l-1.4-1.9zM390.4 419.1l1.4 1.9l-1.4 1.9l-1.4-1.9zM390.9 420.8l1.4 1.9l-1.4 1.9l-1.4-1.9zM390.2 423.5l1.4 1.9l-1.4 1.9l-1.4-1.9zM390.6 424.6l1.4 1.9l-1.4 1.9l-1.4-1.9zM390.3 427.4l1.4 1.9l-1.4 1.9l-1.4-1.9zM390.8 428.3l1.4 1.9l-1.4 1.9l-1.4-1.9zM390.7 430.4l1.4 1.9l-1.4 1.9l-1.4-1.9z" fill="#0000ff" fill-opacity="0.18" stroke="#0000ff" stroke-opacity="0.30" stroke-width="0.5"/></g>
<path d="M121.5 462.5v4.86M173.5 462.5v4.86M225.5 462.5v4.86M277.5 462.5v4.86M329.5 462.5v4.86M381.5 462.5v4.86M80.5 380.5h-4.86M80.5 410.5h-4.86M80.5 439.5h-4.86" stroke="#000" stroke-width="1.11" fill="none"/>
<rect x="80.5" y="359.5" width="329.0" height="103" fill="none" stroke="#000" stroke-width="1.11"/>
<g font-size="13.889">
<text x="121.26" y="482.78" text-anchor="middle">22:00</text>
<text x="173.28" y="482.78" text-anchor="middle">00:00</text>
<text x="225.29" y="482.78" text-anchor="middle">02:00</text>
<text x="277.31" y="482.78" text-anchor="middle">04:00</text>
<text x="329.33" y="482.78" text-anchor="middle">06:00</text>
<text x="381.34" y="482.78" text-anchor="middle">08:00</text>
<text x="69.90" y="385.78" text-anchor="end">150</text>
<text x="69.90" y="415.78" text-anchor="end">100</text>
<text x="69.90" y="444.78" text-anchor="end">50</text>
<text x="33.8" y="411.0" text-anchor="middle" transform="rotate(-90 33.8 411.0)">Flux [SFU]</text>
</g>
<text x="244.20" y="351.17" font-size="16.667" text-anchor="middle">NoRP 3.75GHz Stokes-I</text>
</g>
<g id="ax21">
<clipPath id="cp21"><rect x="472.5" y="359.5" width="329.0" height="103"/></clipPath>
<g clip-path="url(#cp21)"><path d="M490.5 392.5H782.9M490.5 397.5H782.9M490.5 401.5H782.9M490.5 405.5H782.9M490.5 409.5H782.9M490.5 413.5H782.9M490.5 417.5H782.9M490.5 421.5H782.9M490.5 425.5H782.9M490.5 430.5H782.9M490.5 434.5H782.9" stroke="#ffa500" stroke-width="3.0" stroke-linecap="round" fill="none"/><path d="M529.2 367.1l1.1 1.4l-1.1 1.4l-1.1-1.4zM511.9 367.1l1.1 1.4l-1.1 1.4l-1.1-1.4zM586.3 367.1l1.1 1.4l-1.1 1.4l-1.1-1.4zM506.7 367.1l1.1 1.4l-1.1 1.4l-1.1-1.4zM654.5 367.1l1.1 1.4l-1.1 1.4l-1.1-1.4zM695.3 367.1l1.1 1.4l-1.1 1.4l-1.1-1.4zM730.5 367.1l1.1 1.4l-1.1 1.4l-1.1-1.4z" fill="#ffa500" fill-opacity="0.16" stroke="#ffa500" stroke-opacity="0.34" stroke-width="0.5"/><path d="M745.2 371.1l1.1 1.4l-1.1 1.4l-1.1-1.4zM592 371.1l1.1 1.4l-1.1 1.4l-1.1-1.4zM609.6 371.1l1.1 1.4l-1.1 1.4l-1.1-1.4zM562.7 371.1l1.1 1.4l-1.1 1.4l-1.1-1.4zM520.5 371.1l1.1 1.4l-1.1 1.4l-1.1-1.4zM757.2 371.1l1.1 1.4l-1.1 1.4l-1.1-1.4zM568.4 371.1l1.1 1.4l-1.1 1.4l-1.1-1.4zM515.7 371.1l1.1 1.4l-1.1 1.4l-1.1-1.4zM730.5 371.1l1.1 1.4l-1.1 1.4l-1.1-1.4zM598.2 371.1l1.1 1.4l-1.1 1.4l-1.1-1.4zM695.4 371.1l1.1 1.4l-1.1 1.4l-1.1-1.4zM769.3 371.1l1.1 1.4l-1.1 1.4l-1.1-1.4zM761.5 371.1l1.1 1.4l-1.1 1.4l-1.1-1.4zM620.2 371.1l1.1 1.4l-1.1 1.4l-1.1-1.4zM560 371.1l1.1 1.4l-1.1 1.4l-1.1-1.4zM642.2 371.1l1.1 1.4l-1.1 1.4l-1.1-1.4zM745.5 371.1l1.1 1.4l-1.1 1.4l-1.1-1.4zM735.7 371.1l1.1 1.4l-1.1 1.4l-1.1-1.4zM578 371.1l1.1 1.4l-1.1 1.4l-1.1-1.4zM640.2 371.1l1.1 1.4l-1.1 1.4l-1.1-1.4z" fill="#ffa500" fill-opacity="0.16" stroke="#ffa500" stroke-opacity="0.34" stroke-width="0.5"/><path d="M752.9 375.1l1.1 1.4l-1.1 1.4l-1.1-1.4zM650.5 375.1l1.1 1.4l-1.1 1.4l-1.1-1.4zM697.9 375.1l1.1 1.4l-1.1 1.4l-1.1-1.4zM699.6 375.1l1.1 1.4l-1.1 1.4l-1.1-1.4zM605.6 375.1l1.1 1.4l-1.1 1.4l-1.1-1.4zM607.2 375.1l1.1 1.4l-1.1 1.4l-1.1-1.4zM663.1 375.1l1.1 1.4l-1.1 1.4l-1.1-1.4zM745.2 375.1l1.1 1.4l-1.1 1.4l-1.1-1.4zM771 375.1l1.1 1.4l-1.1 1.4l-1.1-1.4zM773.4 375.1l1.1 1.4l-1.1 1.4l-1.1-1.4zM775.6 375.1l1.1 1.4l-1.1 1.4l-1.1-1.4zM601.5 375.1l1.1 1.4l-1.1 1.4l-1.1-1.4zM706.4 375.1l1.1 1.4l-1.1 1.4l-1.1-1.4zM539.3 375.1l1.1 1.4l-1.1 1.4l-1.1-1.4zM541.1 375.1l1.1 1.4l-1.1 1.4l-1.1-1.4zM543.7 375.1l1.1 1.4l-1.1 1.4l-1.1-1.4zM647.1 375.1l1.1 1.4l-1.1 1.4l-1.1-1.4zM506 375.1l1.1 1.4l-1.1 1.4l-1.1-1.4zM701.8 375.1l1.1 1.4l-1.1 1.4l-1.1-1.4zM704 375.1l1.1 1.4l-1.1 1.4l-1.1-1.4zM578.8 375.1l1.1 1.4l-1.1 1.4l-1.1-1.4zM581.1 375.1l1.1 1.4l-1.1 1.4l-1.1-1.4zM538.4 375.1l1.1 1.4l-1.1 1.4l-1.1-1.4zM700.7 375.1l1.1 1.4l-1.1 1.4l-1.1-1.4zM590.2 375.1l1.1 1.4l-1.1 1.4l-1.1-1.4zM499.7 375.1l1.1 1.4l-1.1 1.4l-1.1-1.4zM778.1 375.1l1.1 1.4l-1.1 1.4l-1.1-1.4zM702.2 375.1l1.1 1.4l-1.1 1.4l-1.1-1.4zM715.4 375.1l1.1 1.4l-1.1 1.4l-1.1-1.4zM730 375.1l1.1 1.4l-1.1 1.4l-1.1-1.4zM507.6 375.1l1.1 1.4l-1.1 1.4l-1.1-1.4zM619.4 375.1l1.1 1.4l-1.1 1.4l-1.1-1.4zM621.1 375.1l1.1 1.4l-1.1 1.4l-1.1-1.4zM623.6 375.1l1.1 1.4l-1.1 1.4l-1.1-1.4zM538.4 375.1l1.1 1.4l-1.1 1.4l-1.1-1.4zM540.6 375.1l1.1 1.4l-1.1 1.4l-1.1-1.4zM511.9 375.1l1.1 1.4l-1.1 1.4l-1.1-1.4zM513.8 375.1l1.1 1.4l-1.1 1.4l-1.1-1.4zM669.4 375.1l1.1 1.4l-1.1 1.4l-1.1-1.4zM671.6 375.1l1.1 1.4l-1.1 1.4l-1.1-1.4zM723.3 375.1l1.1 1.4l-1.1 1.4l-1.1-1.4zM728.3 375.1l1.1 1.4l-1.1 1.4l-1.1-1.4zM518.7 375.1l1.1 1.4l-1.1 1.4l-1.1-1.4zM529.2 375.1l1.1 1.4l-1.1 1.4l-1.1-1.4zM530.9 375.1l1.1 1.4l-1.1 1.4l-1.1-1.4zM532.6 375.1l1.1 1.4l-1.1 1.4l-1.1-1.4zM708.1 375.1l1.1 1.4l-1.1 1.4l-1.1-1.4zM709.9 375.1l1.1 1.4l-1.1 1.4l-1.1-1.4zM711.8 375.1l1.1 1.4l-1.1 1.4l-1.1-1.4zM651 375.1l1.1 1.4l-1.1 1.4l-1.1-1.4zM738.4 375.1l1.1 1.4l-1.1 1.4l-1.1-1.4zM740.6 375.1l1.1 1.4l-1.1 1.4l-1.1-1.4zM742.8 375.1l1.1 1.4l-1.1 1.4l-1.1-1.4zM635.6 375.1l1.1 1.4l-1.1 1.4l-1.1-1.4zM637.5 375.1l1.1 1.4l-1.1 1.4l-1.1-1.4zM772.5 375.1l1.1 1.4l-1.1 1.4l-1.1-1.4zM546.1 375.1l1.1 1.4l-1.1 1.4l-1.1-1.4zM657.6 375.1l1.1 1.4l-1.1 1.4l-1.1-1.4zM659.3 375.1l1.1 1.4l-1.1 1.4l-1.1-1.4zM662.3 375.1l1.1 1.4l-1.1 1.4l-1.1-1.4zM523.6 375.1l1.1 1.4l-1.1 1.4l-1.1-1.4zM525.6 375.1l1.1 1.4l-1.1 1.4l-1.1-1.4zM546.4 375.1l1.1 1.4l-1.1 1.4l-1.1-1.4zM604.6 375.1l1.1 1.4l-1.1 1.4l-1.1-1.4zM606.7 375.1l1.1 1.4l-1.1 1.4l-1.1-1.4zM702 375.1l1.1 1.4l-1.1 1.4l-1.1-1.4zM703.9 375.1l1.1 1.4l-1.1 1.4l-1.1-1.4zM706.5 375.1l1.1 1.4l-1.1 1.4l-1.1-1.4zM666.9 375.1l1.1 1.4l-1.1 1.4l-1.1-1.4zM668.7 375.1l1.1 1.4l-1.1 1.4l-1.1-1.4zM670.4 375.1l1.1 1.4l-1.1 1.4l-1.1-1.4z" fill="#ffa500" fill-opacity="0.16" stroke="#ffa500" stroke-opacity="0.34" stroke-width="0.5"/><path d="M530.5 379.1l1.1 1.4l-1.1 1.4l-1.1-1.4zM532.8 379.1l1.1 1.4l-1.1 1.4l-1.1-1.4zM692.6 379.1l1.1 1.4l-1.1 1.4l-1.1-1.4zM694.7 379.1l1.1 1.4l-1.1 1.4l-1.1-1.4zM697 379.1l1.1 1.4l-1.1 1.4l-1.1-1.4zM554.2 379.1l1.1 1.4l-1.1 1.4l-1.1-1.4zM730.8 379.1l1.1 1.4l-1.1 1.4l-1.1-1.4zM733 379.1l1.1 1.4l-1.1 1.4l-1.1-1.4zM734.9 379.1l1.1 1.4l-1.1 1.4l-1.1-1.4zM696.6 379.1l1.1 1.4l-1.1 1.4l-1.1-1.4zM569.2 379.1l1.1 1.4l-1.1 1.4l-1.1-1.4zM571.6 379.1l1.1 1.4l-1.1 1.4l-1.1-1.4zM573.5 379.1l1.1 1.4l-1.1 1.4l-1.1-1.4zM664.2 379.1l1.1 1.4l-1.1 1.4l-1.1-1.4zM778.4 379.1l1.1 1.4l-1.1 1.4l-1.1-1.4zM780.5 379.1l1.1 1.4l-1.1 1.4l-1.1-1.4zM766.5 379.1l1.1 1.4l-1.1 1.4l-1.1-1.4zM547.7 379.1l1.1 1.4l-1.1 1.4l-1.1-1.4zM549.9 379.1l1.1 1.4l-1.1 1.4l-1.1-1.4zM552.1 379.1l1.1 1.4l-1.1 1.4l-1.1-1.4zM723.1 379.1l1.1 1.4l-1.1 1.4l-1.1-1.4zM724.9 379.1l1.1 1.4l-1.1 1.4l-1.1-1.4zM726.9 379.1l1.1 1.4l-1.1 1.4l-1.1-1.4zM659 379.1l1.1 1.4l-1.1 1.4l-1.1-1.4zM661 379.1l1.1 1.4l-1.1 1.4l-1.1-1.4zM663.3 379.1l1.1 1.4l-1.1 1.4l-1.1-1.4zM546.2 379.1l1.1 1.4l-1.1 1.4l-1.1-1.4zM548.3 379.1l1.1 1.4l-1.1 1.4l-1.1-1.4zM549.6 379.1l1.1 1.4l-1.1 1.4l-1.1-1.4zM760.9 379.1l1.1 1.4l-1.1 1.4l-1.1-1.4zM747.7 379.1l1.1 1.4l-1.1 1.4l-1.1-1.4zM749.5 379.1l1.1 1.4l-1.1 1.4l-1.1-1.4zM553.8 379.1l1.1 1.4l-1.1 1.4l-1.1-1.4zM555.9 379.1l1.1 1.4l-1.1 1.4l-1.1-1.4zM678.7 379.1l1.1 1.4l-1.1 1.4l-1.1-1.4zM720 379.1l1.1 1.4l-1.1 1.4l-1.1-1.4zM682.5 379.1l1.1 1.4l-1.1 1.4l-1.1-1.4zM536.3 379.1l1.1 1.4l-1.1 1.4l-1.1-1.4zM637 379.1l1.1 1.4l-1.1 1.4l-1.1-1.4zM542.9 379.1l1.1 1.4l-1.1 1.4l-1.1-1.4zM545.2 379.1l1.1 1.4l-1.1 1.4l-1.1-1.4zM671.6 379.1l1.1 1.4l-1.1 1.4l-1.1-1.4zM555.7 379.1l1.1 1.4l-1.1 1.4l-1.1-1.4zM653.5 379.1l1.1 1.4l-1.1 1.4l-1.1-1.4zM697.5 379.1l1.1 1.4l-1.1 1.4l-1.1-1.4zM529.9 379.1l1.1 1.4l-1.1 1.4l-1.1-1.4zM531.7 379.1l1.1 1.4l-1.1 1.4l-1.1-1.4zM706.8 379.1l1.1 1.4l-1.1 1.4l-1.1-1.4zM608.9 379.1l1.1 1.4l-1.1 1.4l-1.1-1.4zM658.5 379.1l1.1 1.4l-1.1 1.4l-1.1-1.4zM648 379.1l1.1 1.4l-1.1 1.4l-1.1-1.4zM649.9 379.1l1.1 1.4l-1.1 1.4l-1.1-1.4zM652.7 379.1l1.1 1.4l-1.1 1.4l-1.1-1.4zM506.5 379.1l1.1 1.4l-1.1 1.4l-1.1-1.4zM508.7 379.1l1.1 1.4l-1.1 1.4l-1.1-1.4zM509.7 379.1l1.1 1.4l-1.1 1.4l-1.1-1.4zM575.5 379.1l1.1 1.4l-1.1 1.4l-1.1-1.4zM494.7 379.1l1.1 1.4l-1.1 1.4l-1.1-1.4zM551.6 379.1l1.1 1.4l-1.1 1.4l-1.1-1.4zM732.6 379.1l1.1 1.4l-1.1 1.4l-1.1-1.4zM734.3 379.1l1.1 1.4l-1.1 1.4l-1.1-1.4zM640.3 379.1l1.1 1.4l-1.1 1.4l-1.1-1.4zM600 379.1l1.1 1.4l-1.1 1.4l-1.1-1.4zM675 379.1l1.1 1.4l-1.1 1.4l-1.1-1.4zM659.7 379.1l1.1 1.4l-1.1 1.4l-1.1-1.4zM643.5 379.1l1.1 1.4l-1.1 1.4l-1.1-1.4zM645.8 379.1l1.1 1.4l-1.1 1.4l-1.1-1.4zM648.2 379.1l1.1 1.4l-1.1 1.4l-1.1-1.4zM747.8 379.1l1.1 1.4l-1.1 1.4l-1.1-1.4zM533.5 379.1l1.1 1.4l-1.1 1.4l-1.1-1.4zM535.6 379.1l1.1 1.4l-1.1 1.4l-1.1-1.4zM757.1 379.1l1.1 1.4l-1.1 1.4l-1.1-1.4zM759.1 379.1l1.1 1.4l-1.1 1.4l-1.1-1.4zM761.8 379.1l1.1 1.4l-1.1 1.4l-1.1-1.4zM720 379.1l1.1 1.4l-1.1 1.4l-1.1-1.4zM586.7 379.1l1.1 1.4l-1.1 1.4l-1.1-1.4zM642 379.1l1.1 1.4l-1.1 1.4l-1.1-1.4zM644.2 379.1l1.1 1.4l-1.1 1.4l-1.1-1.4zM646.2 379.1l1.1 1.4l-1.1 1.4l-1.1-1.4zM729.9 379.1l1.1 1.4l-1.1 1.4l-1.1-1.4zM600.6 379.1l1.1 1.4l-1.1 1.4l-1.1-1.4zM602.9 379.1l1.1 1.4l-1.1 1.4l-1.1-1.4zM604.2 379.1l1.1 1.4l-1.1 1.4l-1.1-1.4zM738.9 379.1l1.1 1.4l-1.1 1.4l-1.1-1.4zM518.3 379.1l1.1 1.4l-1.1 1.4l-1.1-1.4zM632.8 379.1l1.1 1.4l-1.1 1.4l-1.1-1.4zM771 379.1l1.1 1.4l-1.1 1.4l-1.1-1.4zM772.8 379.1l1.1 1.4l-1.1 1.4l-1.1-1.4zM718.2 379.1l1.1 1.4l-1.1 1.4l-1.1-1.4zM720.3 379.1l1.1 1.4l-1.1 1.4l-1.1-1.4zM722.4 379.1l1.1 1.4l-1.1 1.4l-1.1-1.4zM567.7 379.1l1.1 1.4l-1.1 1.4l-1.1-1.4zM570 379.1l1.1 1.4l-1.1 1.4l-1.1-1.4zM519.9 379.1l1.1 1.4l-1.1 1.4l-1.1-1.4zM521.8 379.1l1.1 1.4l-1.1 1.4l-1.1-1.4zM524.5 379.1l1.1 1.4l-1.1 1.4l-1.1-1.4zM527.3 379.1l1.1 1.4l-1.1 1.4l-1.1-1.4zM529.3 379.1l1.1 1.4l-1.1 1.4l-1.1-1.4zM698.2 379.1l1.1 1.4l-1.1 1.4l-1.1-1.4zM665.2 379.1l1.1 1.4l-1.1 1.4l-1.1-1.4zM667.5 379.1l1.1 1.4l-1.1 1.4l-1.1-1.4zM669.8 379.1l1.1 1.4l-1.1 1.4l-1.1-1.4zM745.9 379.1l1.1 1.4l-1.1 1.4l-1.1-1.4zM544.5 379.1l1.1 1.4l-1.1 1.4l-1.1-1.4zM610.1 379.1l1.1 1.4l-1.1 1.4l-1.1-1.4zM611.8 379.1l1.1 1.4l-1.1 1.4l-1.1-1.4zM494.3 379.1l1.1 1.4l-1.1 1.4l-1.1-1.4zM490.7 379.1l1.1 1.4l-1.1 1.4l-1.1-1.4zM616.8 379.1l1.1 1.4l-1.1 1.4l-1.1-1.4zM589.5 379.1l1.1 1.4l-1.1 1.4l-1.1-1.4zM727 379.1l1.1 1.4l-1.1 1.4l-1.1-1.4zM523.9 379.1l1.1 1.4l-1.1 1.4l-1.1-1.4zM525.7 379.1l1.1 1.4l-1.1 1.4l-1.1-1.4zM528.4 379.1l1.1 1.4l-1.1 1.4l-1.1-1.4zM738.5 379.1l1.1 1.4l-1.1 1.4l-1.1-1.4zM781.1 379.1l1.1 1.4l-1.1 1.4l-1.1-1.4zM761.3 379.1l1.1 1.4l-1.1 1.4l-1.1-1.4zM504.3 379.1l1.1 1.4l-1.1 1.4l-1.1-1.4zM540 379.1l1.1 1.4l-1.1 1.4l-1.1-1.4zM541.7 379.1l1.1 1.4l-1.1 1.4l-1.1-1.4zM671.5 379.1l1.1 1.4l-1.1 1.4l-1.1-1.4zM747.2 379.1l1.1 1.4l-1.1 1.4l-1.1-1.4zM773.9 379.1l1.1 1.4l-1.1 1.4l-1.1-1.4zM746.8 379.1l1.1 1.4l-1.1 1.4l-1.1-1.4zM714.6 379.1l1.1 1.4l-1.1 1.4l-1.1-1.4zM544.9 379.1l1.1 1.4l-1.1 1.4l-1.1-1.4zM615 379.1l1.1 1.4l-1.1 1.4l-1.1-1.4zM736.4 379.1l1.1 1.4l-1.1 1.4l-1.1-1.4zM556.3 379.1l1.1 1.4l-1.1 1.4l-1.1-1.4zM656 379.1l1.1 1.4l-1.1 1.4l-1.1-1.4zM502.8 379.1l1.1 1.4l-1.1 1.4l-1.1-1.4zM504.9 379.1l1.1 1.4l-1.1 1.4l-1.1-1.4zM507.1 379.1l1.1 1.4l-1.1 1.4l-1.1-1.4zM508.5 379.1l1.1 1.4l-1.1 1.4l-1.1-1.4zM533.5 379.1l1.1 1.4l-1.1 1.4l-1.1-1.4zM535.8 379.1l1.1 1.4l-1.1 1.4l-1.1-1.4zM710.9 379.1l1.1 1.4l-1.1 1.4l-1.1-1.4zM712.9 379.1l1.1 1.4l-1.1 1.4l-1.1-1.4zM714.5 379.1l1.1 1.4l-1.1 1.4l-1.1-1.4zM773.1 379.1l1.1 1.4l-1.1 1.4l-1.1-1.4zM772.9 379.1l1.1 1.4l-1.1 1.4l-1.1-1.4zM558.8 379.1l1.1 1.4l-1.1 1.4l-1.1-1.4zM561.1 379.1l1.1 1.4l-1.1 1.4l-1.1-1.4zM578.3 379.1l1.1 1.4l-1.1 1.4l-1.1-1.4zM580.6 379.1l1.1 1.4l-1.1 1.4l-1.1-1.4zM578.1 379.1l1.1 1.4l-1.1 1.4l-1.1-1.4zM605 379.1l1.1 1.4l-1.1 1.4l-1.1-1.4zM573.7 379.1l1.1 1.4l-1.1 1.4l-1.1-1.4zM748.4 379.1l1.1 1.4l-1.1 1.4l-1.1-1.4zM750.1 379.1l1.1 1.4l-1.1 1.4l-1.1-1.4zM752.4 379.1l1.1 1.4l-1.1 1.4l-1.1-1.4zM770.1 379.1l1.1 1.4l-1.1 1.4l-1.1-1.4zM772.3 379.1l1.1 1.4l-1.1 1.4l-1.1-1.4zM520.9 379.1l1.1 1.4l-1.1 1.4l-1.1-1.4zM637.6 379.1l1.1 1.4l-1.1 1.4l-1.1-1.4zM622 379.1l1.1 1.4l-1.1 1.4l-1.1-1.4zM745 379.1l1.1 1.4l-1.1 1.4l-1.1-1.4zM680.2 379.1l1.1 1.4l-1.1 1.4l-1.1-1.4zM749.1 379.1l1.1 1.4l-1.1 1.4l-1.1-1.4zM666 379.1l1.1 1.4l-1.1 1.4l-1.1-1.4zM532.2 379.1l1.1 1.4l-1.1 1.4l-1.1-1.4zM619.8 379.1l1.1 1.4l-1.1 1.4l-1.1-1.4zM608.7 379.1l1.1 1.4l-1.1 1.4l-1.1-1.4zM744.2 379.1l1.1 1.4l-1.1 1.4l-1.1-1.4zM745.8 379.1l1.1 1.4l-1.1 1.4l-1.1-1.4zM632.4 379.1l1.1 1.4l-1.1 1.4l-1.1-1.4zM634.4 379.1l1.1 1.4l-1.1 1.4l-1.1-1.4zM673.4 379.1l1.1 1.4l-1.1 1.4l-1.1-1.4zM675.3 379.1l1.1 1.4l-1.1 1.4l-1.1-1.4zM500.1 379.1l1.1 1.4l-1.1 1.4l-1.1-1.4zM502.1 379.1l1.1 1.4l-1.1 1.4l-1.1-1.4zM504.2 379.1l1.1 1.4l-1.1 1.4l-1.1-1.4zM500.3 379.1l1.1 1.4l-1.1 1.4l-1.1-1.4zM502.6 379.1l1.1 1.4l-1.1 1.4l-1.1-1.4zM504.3 379.1l1.1 1.4l-1.1 1.4l-1.1-1.4zM583.5 379.1l1.1 1.4l-1.1 1.4l-1.1-1.4zM538.4 379.1l1.1 1.4l-1.1 1.4l-1.1-1.4zM702 379.1l1.1 1.4l-1.1 1.4l-1.1-1.4zM704.3 379.1l1.1 1.4l-1.1 1.4l-1.1-1.4zM496.8 379.1l1.1 1.4l-1.1 1.4l-1.1-1.4zM498.7 379.1l1.1 1.4l-1.1 1.4l-1.1-1.4zM610.2 379.1l1.1 1.4l-1.1 1.4l-1.1-1.4zM501.8 379.1l1.1 1.4l-1.1 1.4l-1.1-1.4zM700.7 379.1l1.1 1.4l-1.1 1.4l-1.1-1.4zM702.7 379.1l1.1 1.4l-1.1 1.4l-1.1-1.4zM780.5 379.1l1.1 1.4l-1.1 1.4l-1.1-1.4zM725 379.1l1.1 1.4l-1.1 1.4l-1.1-1.4zM727.1 379.1l1.1 1.4l-1.1 1.4l-1.1-1.4zM512.8 379.1l1.1 1.4l-1.1 1.4l-1.1-1.4zM699.3 379.1l1.1 1.4l-1.1 1.4l-1.1-1.4zM701.2 379.1l1.1 1.4l-1.1 1.4l-1.1-1.4zM703.3 379.1l1.1 1.4l-1.1 1.4l-1.1-1.4z" fill="#ffa500" fill-opacity="0.16" stroke="#ffa500" stroke-opacity="0.34" stroke-width="0.5"/><path d="M490.5 384.5H782.9" stroke="#ffa500" stroke-width="2.3" stroke-linecap="round" stroke-opacity="0.43" fill="none"/><path d="M490.5 384.5H494.3M495.3 384.5H501.1M503.5 384.5H508.2M518.3 384.5H541.9M544 384.5H546.1M547.6 384.5H548.8M550.7 384.5H559.2M561.4 384.5H581.8M585.7 384.5H587.2M589.2 384.5H592.3M594.4 384.5H601.5M603.5 384.5H608.4M612.7 384.5H619.7M620.7 384.5H623.4M624.4 384.5H634.5M636.2 384.5H637.2M639.6 384.5H646.7M647.9 384.5H651.3M652.1 384.5H659.1M661 384.5H663.4M665.2 384.5H668.4M674.2 384.5H675.3M679.6 384.5H684.8M686.3 384.5H688.8M698.2 384.5H715M719.2 384.5H722.7M723.9 384.5H738.6M742.2 384.5H743.3M753.5 384.5H760.2M764.2 384.5H766.2M769.6 384.5H771.5M774.8 384.5H782.9" stroke="#ffa500" stroke-width="2.5" stroke-linecap="round" stroke-opacity="0.55" fill="none"/><path d="M490.5 388.5H782.9" stroke="#ffa500" stroke-width="2.3" stroke-linecap="round" stroke-opacity="0.76" fill="none"/><path d="M490.5 388.5H495.1M496.9 388.5H534.8M536.9 388.5H539.1M543.6 388.5H550.6M552.3 388.5H575.2M577.7 388.5H588.1M589.6 388.5H608.6M611.1 388.5H613.8M616.6 388.5H632.6M634.2 388.5H636.4M637.3 388.5H641.3M642.3 388.5H645M649.6 388.5H658.2M659.6 388.5H677.9M681.6 388.5H687.2M689.5 388.5H691M694.2 388.5H697.4M698.7 388.5H704.4M708.9 388.5H733M737.3 388.5H750.7M752.4 388.5H765.7M766.6 388.5H769.2M770.8 388.5H775M778.2 388.5H780M780.8 388.5H782.2" stroke="#ffa500" stroke-width="2.5" stroke-linecap="round" stroke-opacity="0.65" fill="none"/><path d="M490.5 438.5H782.9" stroke="#ffa500" stroke-width="2.3" stroke-linecap="round" stroke-opacity="0.52" fill="none"/><path d="M490.5 438.5H495.4M496.5 438.5H498.2M505.5 438.5H513.7M516.8 438.5H519.3M523.1 438.5H528.4M531.9 438.5H539.8M540.9 438.5H548.6M549.6 438.5H559.6M569.4 438.5H577.2M579.9 438.5H582.6M584.5 438.5H586.9M589.5 438.5H599.4M602 438.5H603.7M606.7 438.5H618M619 438.5H623.5M629.8 438.5H633.2M634.4 438.5H638.3M639.2 438.5H643.6M646.6 438.5H656.7M658.8 438.5H661.3M667.1 438.5H676.5M677.5 438.5H681.8M683.8 438.5H688.1M689.4 438.5H695.4M696.5 438.5H705.4M712.2 438.5H716.6M719 438.5H723.4M724.7 438.5H728.7M730 438.5H732.1M733.4 438.5H745.6M746.7 438.5H748.3M749.6 438.5H757.5M760.4 438.5H782.1" stroke="#ffa500" stroke-width="2.5" stroke-linecap="round" stroke-opacity="0.58" fill="none"/><path d="M490.5 442.5H782.9" stroke="#ffa500" stroke-width="2.3" stroke-linecap="round" stroke-opacity="0.24" fill="none"/><path d="M490.5 442.5H495.8M497.7 442.5H508.1M509 442.5H516.8M520.9 442.5H524.4M528.2 442.5H529.4M530.6 442.5H535.9M537.6 442.5H538.9M541.4 442.5H545.4M547.5 442.5H549.8M561 442.5H565.2M568.4 442.5H571.9M574.4 442.5H575.5M576.5 442.5H579.7M581.7 442.5H583.9M590.2 442.5H591.6M593.4 442.5H599M604.9 442.5H617.2M620.5 442.5H622.3M628.3 442.5H630.3M632.5 442.5H643.1M645.4 442.5H650.3M653.1 442.5H654.6M656.7 442.5H660.1M662.4 442.5H665.8M668.5 442.5H671M673.5 442.5H674.9M679.6 442.5H682.1M685.1 442.5H687.2M692.5 442.5H697.7M702 442.5H704.6M705.8 442.5H707.6M720.3 442.5H721.4M724.6 442.5H728.1M730 442.5H733.7M734.8 442.5H741.2M742.3 442.5H743.4M746.6 442.5H751.1M764.7 442.5H769.2M780.3 442.5H782.9" stroke="#ffa500" stroke-width="2.5" stroke-linecap="round" stroke-opacity="0.46" fill="none"/><path d="M549.8 445.1l1.1 1.4l-1.1 1.4l-1.1-1.4zM551.6 445.1l1.1 1.4l-1.1 1.4l-1.1-1.4zM603.7 445.1l1.1 1.4l-1.1 1.4l-1.1-1.4zM605.4 445.1l1.1 1.4l-1.1 1.4l-1.1-1.4zM773.9 445.1l1.1 1.4l-1.1 1.4l-1.1-1.4zM644.1 445.1l1.1 1.4l-1.1 1.4l-1.1-1.4zM646.1 445.1l1.1 1.4l-1.1 1.4l-1.1-1.4zM627.7 445.1l1.1 1.4l-1.1 1.4l-1.1-1.4zM629.7 445.1l1.1 1.4l-1.1 1.4l-1.1-1.4zM536.7 445.1l1.1 1.4l-1.1 1.4l-1.1-1.4zM682.4 445.1l1.1 1.4l-1.1 1.4l-1.1-1.4zM684.3 445.1l1.1 1.4l-1.1 1.4l-1.1-1.4zM779.3 445.1l1.1 1.4l-1.1 1.4l-1.1-1.4zM513.9 445.1l1.1 1.4l-1.1 1.4l-1.1-1.4zM661.8 445.1l1.1 1.4l-1.1 1.4l-1.1-1.4zM690.7 445.1l1.1 1.4l-1.1 1.4l-1.1-1.4zM692.6 445.1l1.1 1.4l-1.1 1.4l-1.1-1.4zM694.4 445.1l1.1 1.4l-1.1 1.4l-1.1-1.4zM629.1 445.1l1.1 1.4l-1.1 1.4l-1.1-1.4zM631.5 445.1l1.1 1.4l-1.1 1.4l-1.1-1.4zM545.9 445.1l1.1 1.4l-1.1 1.4l-1.1-1.4zM639.3 445.1l1.1 1.4l-1.1 1.4l-1.1-1.4zM641.4 445.1l1.1 1.4l-1.1 1.4l-1.1-1.4zM643.2 445.1l1.1 1.4l-1.1 1.4l-1.1-1.4zM681 445.1l1.1 1.4l-1.1 1.4l-1.1-1.4zM682.9 445.1l1.1 1.4l-1.1 1.4l-1.1-1.4zM685.2 445.1l1.1 1.4l-1.1 1.4l-1.1-1.4zM729.1 445.1l1.1 1.4l-1.1 1.4l-1.1-1.4zM755.7 445.1l1.1 1.4l-1.1 1.4l-1.1-1.4zM669.8 445.1l1.1 1.4l-1.1 1.4l-1.1-1.4zM671.5 445.1l1.1 1.4l-1.1 1.4l-1.1-1.4zM674.2 445.1l1.1 1.4l-1.1 1.4l-1.1-1.4zM729 445.1l1.1 1.4l-1.1 1.4l-1.1-1.4zM596 445.1l1.1 1.4l-1.1 1.4l-1.1-1.4zM555 445.1l1.1 1.4l-1.1 1.4l-1.1-1.4zM556.8 445.1l1.1 1.4l-1.1 1.4l-1.1-1.4zM771 445.1l1.1 1.4l-1.1 1.4l-1.1-1.4zM737.9 445.1l1.1 1.4l-1.1 1.4l-1.1-1.4zM739.7 445.1l1.1 1.4l-1.1 1.4l-1.1-1.4zM511 445.1l1.1 1.4l-1.1 1.4l-1.1-1.4zM772.8 445.1l1.1 1.4l-1.1 1.4l-1.1-1.4zM774.7 445.1l1.1 1.4l-1.1 1.4l-1.1-1.4zM765 445.1l1.1 1.4l-1.1 1.4l-1.1-1.4zM767 445.1l1.1 1.4l-1.1 1.4l-1.1-1.4zM769.2 445.1l1.1 1.4l-1.1 1.4l-1.1-1.4zM520.7 445.1l1.1 1.4l-1.1 1.4l-1.1-1.4zM684.4 445.1l1.1 1.4l-1.1 1.4l-1.1-1.4zM649 445.1l1.1 1.4l-1.1 1.4l-1.1-1.4zM650.8 445.1l1.1 1.4l-1.1 1.4l-1.1-1.4zM652.2 445.1l1.1 1.4l-1.1 1.4l-1.1-1.4zM653.3 445.1l1.1 1.4l-1.1 1.4l-1.1-1.4zM655.3 445.1l1.1 1.4l-1.1 1.4l-1.1-1.4zM552.6 445.1l1.1 1.4l-1.1 1.4l-1.1-1.4zM743.1 445.1l1.1 1.4l-1.1 1.4l-1.1-1.4zM744.9 445.1l1.1 1.4l-1.1 1.4l-1.1-1.4zM538.9 445.1l1.1 1.4l-1.1 1.4l-1.1-1.4zM540.8 445.1l1.1 1.4l-1.1 1.4l-1.1-1.4zM542.8 445.1l1.1 1.4l-1.1 1.4l-1.1-1.4zM495.3 445.1l1.1 1.4l-1.1 1.4l-1.1-1.4zM497 445.1l1.1 1.4l-1.1 1.4l-1.1-1.4zM500 445.1l1.1 1.4l-1.1 1.4l-1.1-1.4zM716.9 445.1l1.1 1.4l-1.1 1.4l-1.1-1.4zM607.8 445.1l1.1 1.4l-1.1 1.4l-1.1-1.4zM715.4 445.1l1.1 1.4l-1.1 1.4l-1.1-1.4zM505.7 445.1l1.1 1.4l-1.1 1.4l-1.1-1.4zM507.8 445.1l1.1 1.4l-1.1 1.4l-1.1-1.4zM493.9 445.1l1.1 1.4l-1.1 1.4l-1.1-1.4zM774.9 445.1l1.1 1.4l-1.1 1.4l-1.1-1.4zM631.9 445.1l1.1 1.4l-1.1 1.4l-1.1-1.4zM611.9 445.1l1.1 1.4l-1.1 1.4l-1.1-1.4zM752.8 445.1l1.1 1.4l-1.1 1.4l-1.1-1.4zM544.5 445.1l1.1 1.4l-1.1 1.4l-1.1-1.4zM585.5 445.1l1.1 1.4l-1.1 1.4l-1.1-1.4zM587.2 445.1l1.1 1.4l-1.1 1.4l-1.1-1.4zM743.8 445.1l1.1 1.4l-1.1 1.4l-1.1-1.4zM638.4 445.1l1.1 1.4l-1.1 1.4l-1.1-1.4z" fill="#ffa500" fill-opacity="0.16" stroke="#ffa500" stroke-opacity="0.34" stroke-width="0.5"/><path d="M621.4 449.1l1.1 1.4l-1.1 1.4l-1.1-1.4zM640.1 449.1l1.1 1.4l-1.1 1.4l-1.1-1.4zM754.2 449.1l1.1 1.4l-1.1 1.4l-1.1-1.4zM646.1 449.1l1.1 1.4l-1.1 1.4l-1.1-1.4zM553.9 449.1l1.1 1.4l-1.1 1.4l-1.1-1.4zM641.7 449.1l1.1 1.4l-1.1 1.4l-1.1-1.4zM587.1 449.1l1.1 1.4l-1.1 1.4l-1.1-1.4zM575.9 449.1l1.1 1.4l-1.1 1.4l-1.1-1.4zM778.7 449.1l1.1 1.4l-1.1 1.4l-1.1-1.4zM658.4 449.1l1.1 1.4l-1.1 1.4l-1.1-1.4zM566.6 449.1l1.1 1.4l-1.1 1.4l-1.1-1.4zM763.3 449.1l1.1 1.4l-1.1 1.4l-1.1-1.4zM698.7 449.1l1.1 1.4l-1.1 1.4l-1.1-1.4zM562.3 449.1l1.1 1.4l-1.1 1.4l-1.1-1.4zM758.8 449.1l1.1 1.4l-1.1 1.4l-1.1-1.4zM504.6 449.1l1.1 1.4l-1.1 1.4l-1.1-1.4zM534.5 449.1l1.1 1.4l-1.1 1.4l-1.1-1.4zM633 449.1l1.1 1.4l-1.1 1.4l-1.1-1.4zM571 449.1l1.1 1.4l-1.1 1.4l-1.1-1.4zM581.8 449.1l1.1 1.4l-1.1 1.4l-1.1-1.4zM646.9 449.1l1.1 1.4l-1.1 1.4l-1.1-1.4zM685.3 449.1l1.1 1.4l-1.1 1.4l-1.1-1.4zM738.7 449.1l1.1 1.4l-1.1 1.4l-1.1-1.4zM552.8 449.1l1.1 1.4l-1.1 1.4l-1.1-1.4zM497.1 449.1l1.1 1.4l-1.1 1.4l-1.1-1.4zM724.4 449.1l1.1 1.4l-1.1 1.4l-1.1-1.4zM681.9 449.1l1.1 1.4l-1.1 1.4l-1.1-1.4zM756.5 449.1l1.1 1.4l-1.1 1.4l-1.1-1.4zM589.4 449.1l1.1 1.4l-1.1 1.4l-1.1-1.4z" fill="#ffa500" fill-opacity="0.16" stroke="#ffa500" stroke-opacity="0.34" stroke-width="0.5"/><path d="M591.5 453.1l1.1 1.4l-1.1 1.4l-1.1-1.4zM602.5 453.1l1.1 1.4l-1.1 1.4l-1.1-1.4zM714.6 453.1l1.1 1.4l-1.1 1.4l-1.1-1.4zM670.3 453.1l1.1 1.4l-1.1 1.4l-1.1-1.4zM680.2 453.1l1.1 1.4l-1.1 1.4l-1.1-1.4zM541 453.1l1.1 1.4l-1.1 1.4l-1.1-1.4zM521.9 453.1l1.1 1.4l-1.1 1.4l-1.1-1.4zM686.2 453.1l1.1 1.4l-1.1 1.4l-1.1-1.4zM621.9 453.1l1.1 1.4l-1.1 1.4l-1.1-1.4zM678.1 453.1l1.1 1.4l-1.1 1.4l-1.1-1.4zM615.9 453.1l1.1 1.4l-1.1 1.4l-1.1-1.4z" fill="#ffa500" fill-opacity="0.16" stroke="#ffa500" stroke-opacity="0.34" stroke-width="0.5"/><path d="M489 392.5H491.5" stroke="#ffa500" stroke-width="3" stroke-linecap="round"/><path d="M488.6 397.5H491.5" stroke="#ffa500" stroke-width="3" stroke-linecap="round"/><path d="M488.3 401.5H491.5" stroke="#ffa500" stroke-width="3" stroke-linecap="round"/><path d="M487.9 405.5H491.5" stroke="#ffa500" stroke-width="3" stroke-linecap="round"/><path d="M487.6 409.5H491.5" stroke="#ffa500" stroke-width="3" stroke-linecap="round"/><path d="M487.2 413.5H491.5" stroke="#ffa500" stroke-width="3" stroke-linecap="round"/><path d="M486.9 417.5H491.5" stroke="#ffa500" stroke-width="3" stroke-linecap="round"/><path d="M486.9 421.5H491.5" stroke="#ffa500" stroke-width="3" stroke-linecap="round"/><path d="M486.9 425.5H491.5" stroke="#ffa500" stroke-width="3" stroke-linecap="round"/><path d="M486.9 430.5H491.5" stroke="#ffa500" stroke-width="3" stroke-linecap="round"/><path d="M486.9 434.5H491.5" stroke="#ffa500" stroke-width="3" stroke-linecap="round"/><path d="M487.9 438.5H491.7" stroke="#ffa500" stroke-opacity="1.0" stroke-width="2.8" stroke-linecap="round"/><path d="M487.9 442.5H491.2" stroke="#ffa500" stroke-opacity="1.0" stroke-width="2.8" stroke-linecap="round"/><path d="M487.9 446.5H490.7" stroke="#ffa500" stroke-opacity="1.0" stroke-width="2.8" stroke-linecap="round"/><path d="M487.9 450.5H490.2" stroke="#ffa500" stroke-opacity="0.7" stroke-width="2.8" stroke-linecap="round"/><path d="M487.9 454.5H489.7" stroke="#ffa500" stroke-opacity="0.35" stroke-width="2.8" stroke-linecap="round"/><path d="M487.9 458.5H489.2" stroke="#ffa500" stroke-opacity="0.35" stroke-width="2.8" stroke-linecap="round"/><rect x="551.7" y="388" width="1" height="50" fill="#fff" fill-opacity="0.45"/><rect x="552" y="430" width="3.2" height="3" fill="#ffa500"/><rect x="629.8" y="388" width="1" height="50" fill="#fff" fill-opacity="0.45"/><rect x="630.1" y="430" width="3.2" height="3" fill="#ffa500"/><rect x="708" y="388" width="1" height="50" fill="#fff" fill-opacity="0.45"/><rect x="708.3" y="430" width="3.2" height="3" fill="#ffa500"/><rect x="781.5" y="430" width="6.5" height="3" fill="#ffa500"/><path d="M563.5 362.8l1.1 1.4l-1.1 1.4l-1.1-1.4zM563.5 367l1.1 1.4l-1.1 1.4l-1.1-1.4zM563.5 371.1l1.1 1.4l-1.1 1.4l-1.1-1.4zM563.5 375.2l1.1 1.4l-1.1 1.4l-1.1-1.4z" fill="#ffa500" fill-opacity="0.30" stroke="#ffa500" stroke-opacity="0.50" stroke-width="0.5"/><path d="M563.5 379.2l1.1 1.4l-1.1 1.4l-1.1-1.4zM562.2 379.2l1.1 1.4l-1.1 1.4l-1.1-1.4zM564.8 379.2l1.1 1.4l-1.1 1.4l-1.1-1.4zM563.5 383.4l1.1 1.4l-1.1 1.4l-1.1-1.4zM562 383.4l1.1 1.4l-1.1 1.4l-1.1-1.4zM565 383.4l1.1 1.4l-1.1 1.4l-1.1-1.4z" fill="#ffa500" fill-opacity="0.90" stroke="#ffa500" stroke-opacity="0.90" stroke-width="0.5"/></g>
<path d="M513.5 462.5v4.86M565.5 462.5v4.86M617.5 462.5v4.86M669.5 462.5v4.86M721.5 462.5v4.86M773.5 462.5v4.86M472.5 366.5h-4.86M472.5 431.5h-4.86" stroke="#000" stroke-width="1.11" fill="none"/>
<rect x="472.5" y="359.5" width="329.0" height="103" fill="none" stroke="#000" stroke-width="1.11"/>
<g font-size="13.889">
<text x="513.26" y="482.78" text-anchor="middle">22:00</text>
<text x="565.28" y="482.78" text-anchor="middle">00:00</text>
<text x="617.29" y="482.78" text-anchor="middle">02:00</text>
<text x="669.31" y="482.78" text-anchor="middle">04:00</text>
<text x="721.33" y="482.78" text-anchor="middle">06:00</text>
<text x="773.34" y="482.78" text-anchor="middle">08:00</text>
<text x="461.90" y="371.78" text-anchor="end">5</text>
<text x="461.90" y="436.78" text-anchor="end">0</text>
</g>
<text x="636.20" y="351.17" font-size="16.667" text-anchor="middle">NoRP 3.75GHz Stokes-V</text>
</g>
<g id="ax30">
<clipPath id="cp30"><rect x="80.5" y="522.5" width="329.0" height="103"/></clipPath>
<g clip-path="url(#cp30)"><path d="M97.1 599 97.3 592 97.9 589 98.3 579" fill="none" stroke="#0000ff" stroke-width="2.7" stroke-linejoin="round" stroke-linecap="round"/><path d="M97.4 575.8 98.4 575.7 99.4 575.6 100.4 575.8 101.4 576 102.4 576 103.4 575 104.4 575.7 105.4 575.6 106.4 575.6 107.4 576 108.4 575.7 109.4 575.9 110.4 576.1 111.4 576 112.4 575 113.4 575.2 114.4 575.7 115.4 575.7 116.4 576.1 117.4 575.8 118.4 575.9 119.4 575.9 120.4 575.9 121.4 575.7 122.4 576.2 123.4 575.7 124.4 576.1 125.4 575.8 126.4 576.3 127.4 576 128.4 576 129.4 576 130.4 575.4 131.4 575.8 132.4 576 133.4 576.1 134.4 575.7 135.4 576.3 136.4 576 137.4 576 138.4 575.8 139.4 576.3 140.4 575.4 141.4 575.8 142.4 576.3 143.4 575.3 144.4 575.5 145.4 576 146.4 576.3 147.4 575.4 148.4 575.8 149.4 575.8 150.4 575.8 151.4 576.3 152.4 575.8 153.4 576.4 154.4 575.9 155.4 576.2 156.4 576 157.4 575.8 158.4 575.3 159.4 576.1 160.4 576.5 161.4 576.1 162.4 576.4 163.4 576.7 164.4 576.6 165.4 576.3 166.4 576.6 167.4 576.2 168.4 576.1 169.4 576.4 170.4 576.9 171.4 576.5 172.4 575.9 173.4 577 174.4 576 175.4 577.2 176.4 577 177.4 577.1 178.4 576.2 179.4 577.1 180.4 576.9 181.4 577.4 182.4 577.4 183.4 577.1 184.4 577.4 185.4 576.9 186.4 577 187.4 576.1 188.4 576.8 189.4 576.4 190.4 576.9 191.4 576.6 192.4 577.2 193.4 577.2 194.4 576.6 195.4 576.7 196.4 577.2 197.4 576.5 198.4 577.1 199.4 576.7 200.4 576.9 201.4 576.7 202.4 577 203.4 576.7 204.4 576.9 205.4 576.4 206.4 576.9 207.4 576.7 208.4 576.8 209.4 576 210.4 576.6 211.4 577 212.4 576.5 213.4 576.4 214.4 576.7 215.4 576.4 216.4 576.6 217.4 576.5 218.4 576.7 219.4 576 220.4 577 221.4 576.9 222.4 576.4 223.4 576.9 224.4 576.9 225.4 575.8 226.4 576.5 227.4 576.6 228.4 576 229.4 577 230.4 576.5 231.4 576.6 232.4 576.6 233.4 576.6 234.4 576.4 235.4 576.4 236.4 576.5 237.4 576.6 238.4 576.1 239.4 575.7 240.4 576.4 241.4 576.5 242.4 576.3 243.4 576 244.4 575.5 245.4 575.3 246.4 575.8 247.4 576.2 248.4 576 249.4 575.7 250.4 575.7 251.4 576.4 252.4 576.1 253.4 575.9 254.4 576 255.4 576.2 256.4 576.2 257.4 576.1 258.4 576.2 259.4 576.6 260.4 575.7 261.4 576.9 262.4 576.6 263.4 576.9 264.4 576.8 265.4 576.5 266.4 576.9 267.4 576.3 268.4 577.2 269.4 577.1 270.4 577.1 271.4 577.5 272.4 577 273.4 577.6 274.4 577.1 275.4 577.4 276.4 577.6 277.4 577.1 278.4 577.2 279.4 577 280.4 577.5 281.4 577.4 282.4 577 283.4 576.9 284.4 576.9 285.4 577.5 286.4 577 287.4 577.5 288.4 576.5 289.4 577.2 290.4 577.1 291.4 576.9 292.4 577.2 293.4 577.1 294.4 576.9 295.4 576.7 296.4 577.1 297.4 577.3 298.4 577 299.4 577 300.4 576.9 301.4 576.6 302.4 576.5 303.4 576.3 304.4 575.5 305.4 576 306.4 576 307.4 576 308.4 575 309.4 576 310.4 576 311.4 575.3 312.4 575.3 313.4 575.5 314.4 575.4 315.4 575.6 316.4 575.8 317.4 575.5 318.4 575.4 319.4 575.8 320.4 575.3 321.4 574.9 322.4 575.1 323.4 575.3 324.4 575.6 325.4 575.4 326.4 576 327.4 577.4 328.4 576.9 329.4 577.2 330.4 577.5 331.4 577.5 332.4 576.6 333.4 577.2 334.4 576.6 335.4 577.1 336.4 577 337.4 577 338.4 577.4 339.4 577.2 340.4 577.2 341.4 576.5 342.4 576.9 343.4 576.7 344.4 577.1 345.4 577 346.4 577.3 347.4 577 348.4 577.4 349.4 577.5 350.4 577.5 351.4 577.2 352.4 577 353.4 576.3 354.4 576.2 355.4 576.4 356.4 577 357.4 577.1 358.4 576.8 359.4 576.8 360.4 576.7 361.4 576.8 362.4 576.9 363.4 576.1 364.4 576.7 365.4 576.8 366.4 576.4 367.4 576.3 368.4 576.2 369.4 576.6 370.4 576.4 371.4 576.3 372.4 576.4 373.4 576.4 374.4 575.9 375.4 576.5 376.4 576.1 377.4 576.4 378.4 575.7 379.4 576.4 380.4 575.8 381.4 575.3 382.4 575.5 383.4 575.9 384.4 575.8 385.4 575.7 386.4 575.8 387.4 575.9 388.4 575.8 389.4 575.7 390.4 576.1 391.4 575.5 391.8 575.7 L391.8 582 391.4 581.7 390.4 581.8 389.4 581.7 388.4 581.4 387.4 581.4 386.4 581.4 385.4 581.6 384.4 581.3 383.4 581.8 382.4 581.8 381.4 581.7 380.4 581.4 379.4 582 378.4 581.8 377.4 581.6 376.4 582 375.4 581.7 374.4 582.1 373.4 581.6 372.4 581.8 371.4 581.9 370.4 582 369.4 582.5 368.4 581.6 367.4 582.2 366.4 582.3 365.4 581.7 364.4 582.2 363.4 582.4 362.4 582 361.4 582.8 360.4 582 359.4 582.5 358.4 582.2 357.4 582 356.4 582.2 355.4 581.9 354.4 582.4 353.4 582.3 352.4 582.6 351.4 582.6 350.4 582.7 349.4 582.7 348.4 582.1 347.4 582.7 346.4 582.7 345.4 582.4 344.4 582.4 343.4 582.8 342.4 583 341.4 582.2 340.4 582.6 339.4 582.5 338.4 582.7 337.4 583.1 336.4 582.3 335.4 583 334.4 582.2 333.4 582.3 332.4 582.6 331.4 582.2 330.4 582.5 329.4 582.9 328.4 582.1 327.4 582.5 326.4 582.8 325.4 581.7 324.4 581.6 323.4 581.4 322.4 581.2 321.4 581.4 320.4 581.4 319.4 581.6 318.4 581.6 317.4 581 316.4 582.1 315.4 581.6 314.4 581.7 313.4 581.5 312.4 581.4 311.4 581.7 310.4 581.3 309.4 581.1 308.4 581.2 307.4 581.4 306.4 581.5 305.4 581.2 304.4 582.3 303.4 581.8 302.4 581.7 301.4 581.8 300.4 582.4 299.4 582.4 298.4 582.4 297.4 582.6 296.4 582.9 295.4 582.5 294.4 582.5 293.4 582.2 292.4 582 291.4 582.6 290.4 582.5 289.4 582.4 288.4 582.1 287.4 582.1 286.4 582.1 285.4 582.9 284.4 582.8 283.4 582.2 282.4 582.7 281.4 582.5 280.4 582.5 279.4 582.5 278.4 582.7 277.4 582.5 276.4 582.8 275.4 582.6 274.4 582.4 273.4 582.4 272.4 582.8 271.4 582.6 270.4 582.6 269.4 582.7 268.4 582.2 267.4 582 266.4 582.2 265.4 582.1 264.4 582.7 263.4 582.4 262.4 581.9 261.4 582.2 260.4 582 259.4 582.3 258.4 581.8 257.4 581.9 256.4 582.6 255.4 581.7 254.4 581.4 253.4 581.4 252.4 581.4 251.4 582 250.4 581.8 249.4 581.9 248.4 582.4 247.4 581.4 246.4 581.9 245.4 582 244.4 581.6 243.4 581.9 242.4 582.4 241.4 581.9 240.4 582.6 239.4 581.6 238.4 582.2 237.4 581.7 236.4 581.8 235.4 581.6 234.4 581.9 233.4 581.5 232.4 582 231.4 582.5 230.4 582 229.4 581.9 228.4 581.7 227.4 582.4 226.4 582.1 225.4 582.1 224.4 581.7 223.4 581.9 222.4 582.5 221.4 582.6 220.4 582.2 219.4 582 218.4 581.6 217.4 582 216.4 581.8 215.4 582.1 214.4 582.1 213.4 581.6 212.4 582 211.4 582.2 210.4 581.7 209.4 582 208.4 582.7 207.4 582.8 206.4 582.2 205.4 582.1 204.4 581.7 203.4 582.1 202.4 581.8 201.4 582.9 200.4 582 199.4 581.8 198.4 582.3 197.4 582.3 196.4 582 195.4 582.6 194.4 582.4 193.4 582.3 192.4 582.3 191.4 581.9 190.4 582.5 189.4 582.3 188.4 582.9 187.4 582.9 186.4 582.2 185.4 582 184.4 582.6 183.4 582.1 182.4 582.2 181.4 581.9 180.4 581.9 179.4 582 178.4 581.9 177.4 582.1 176.4 582 175.4 582.5 174.4 582.2 173.4 582.1 172.4 581.6 171.4 581.7 170.4 582.1 169.4 581.6 168.4 582.1 167.4 582.6 166.4 581.5 165.4 581.4 164.4 581.6 163.4 581.5 162.4 581.4 161.4 582.3 160.4 581.5 159.4 581.8 158.4 581.3 157.4 581.5 156.4 581.9 155.4 582.4 154.4 581.9 153.4 582.3 152.4 581.8 151.4 581.9 150.4 581.7 149.4 581.4 148.4 581.7 147.4 581.6 146.4 582.2 145.4 581.3 144.4 581.7 143.4 581.8 142.4 581.3 141.4 581.6 140.4 581.5 139.4 582.1 138.4 581.9 137.4 581.3 136.4 582.4 135.4 581.7 134.4 581.7 133.4 581.7 132.4 581.5 131.4 581.4 130.4 581.3 129.4 581.9 128.4 581.3 127.4 582.1 126.4 581.9 125.4 581.6 124.4 581.8 123.4 581.9 122.4 581.5 121.4 581.6 120.4 582.3 119.4 581.9 118.4 581.4 117.4 581.8 116.4 581.6 115.4 581.3 114.4 581.5 113.4 582.2 112.4 581.4 111.4 581.3 110.4 581.6 109.4 581.6 108.4 581.7 107.4 581.7 106.4 581.9 105.4 582.2 104.4 581.8 103.4 581.4 102.4 581.5 101.4 581.5 100.4 582.4 99.4 581.6 98.4 581.6 97.4 581.4z" fill="#0000ff" stroke="#0000ff" stroke-width="0.3" stroke-linejoin="round"/><path d="M146.2 582L146.9 568L147.8 560L148.9 556.5L150 560L150.9 568L152 575L153 582L150.8 586L147.4 586z" fill="#0000ff" fill-opacity="0.45"/><path d="M147 582L147.7 569L148.4 562.5L148.9 561L149.5 563L150.2 569L151 576L151.8 582L150.4 584.5L147.8 584.5z" fill="#0000ff" fill-opacity="0.9"/><path d="M148.9 559.3l1.1 1.4l-1.1 1.4l-1.1-1.4zM147.9 578l1.1 1.4l-1.1 1.4l-1.1-1.4zM147.2 572.3l1.1 1.4l-1.1 1.4l-1.1-1.4zM149.9 559.5l1.1 1.4l-1.1 1.4l-1.1-1.4zM148.1 569.2l1.1 1.4l-1.1 1.4l-1.1-1.4zM148.9 575.7l1.1 1.4l-1.1 1.4l-1.1-1.4zM149.5 554.1l1.1 1.4l-1.1 1.4l-1.1-1.4zM151.3 590.1l1.1 1.4l-1.1 1.4l-1.1-1.4zM148.8 580.2l1.1 1.4l-1.1 1.4l-1.1-1.4zM148.7 581.6l1.1 1.4l-1.1 1.4l-1.1-1.4zM149.6 582.1l1.1 1.4l-1.1 1.4l-1.1-1.4zM149 570.5l1.1 1.4l-1.1 1.4l-1.1-1.4zM149.4 571.2l1.1 1.4l-1.1 1.4l-1.1-1.4zM149.1 556.7l1.1 1.4l-1.1 1.4l-1.1-1.4zM147.4 568.4l1.1 1.4l-1.1 1.4l-1.1-1.4zM148 576.4l1.1 1.4l-1.1 1.4l-1.1-1.4zM147.1 571.5l1.1 1.4l-1.1 1.4l-1.1-1.4zM151.2 584.2l1.1 1.4l-1.1 1.4l-1.1-1.4zM149.1 572.3l1.1 1.4l-1.1 1.4l-1.1-1.4zM148.9 577l1.1 1.4l-1.1 1.4l-1.1-1.4zM148.9 572.2l1.1 1.4l-1.1 1.4l-1.1-1.4zM148 558.9l1.1 1.4l-1.1 1.4l-1.1-1.4zM148.3 586.7l1.1 1.4l-1.1 1.4l-1.1-1.4zM148.5 567.9l1.1 1.4l-1.1 1.4l-1.1-1.4zM147.5 581.1l1.1 1.4l-1.1 1.4l-1.1-1.4zM149.1 579.8l1.1 1.4l-1.1 1.4l-1.1-1.4zM150.1 567.8l1.1 1.4l-1.1 1.4l-1.1-1.4zM148.3 584.3l1.1 1.4l-1.1 1.4l-1.1-1.4zM147.7 570.9l1.1 1.4l-1.1 1.4l-1.1-1.4zM148.8 560.6l1.1 1.4l-1.1 1.4l-1.1-1.4zM146.2 554.5l1.1 1.4l-1.1 1.4l-1.1-1.4zM151.3 582.6l1.1 1.4l-1.1 1.4l-1.1-1.4zM148.9 586.5l1.1 1.4l-1.1 1.4l-1.1-1.4zM149.7 589l1.1 1.4l-1.1 1.4l-1.1-1.4zM148 584.4l1.1 1.4l-1.1 1.4l-1.1-1.4zM149.5 552.7l1.1 1.4l-1.1 1.4l-1.1-1.4zM148 583.7l1.1 1.4l-1.1 1.4l-1.1-1.4zM148.5 554.7l1.1 1.4l-1.1 1.4l-1.1-1.4zM148.9 573.6l1.1 1.4l-1.1 1.4l-1.1-1.4zM147.4 566.6l1.1 1.4l-1.1 1.4l-1.1-1.4zM150.5 573l1.1 1.4l-1.1 1.4l-1.1-1.4zM149.4 561.2l1.1 1.4l-1.1 1.4l-1.1-1.4zM147.5 589.7l1.1 1.4l-1.1 1.4l-1.1-1.4zM148.8 589.2l1.1 1.4l-1.1 1.4l-1.1-1.4zM148.2 581.4l1.1 1.4l-1.1 1.4l-1.1-1.4zM147.4 572.3l1.1 1.4l-1.1 1.4l-1.1-1.4zM148.9 549.4l1.1 1.4l-1.1 1.4l-1.1-1.4zM148.3 551.6l1.1 1.4l-1.1 1.4l-1.1-1.4zM149.5 553.2l1.1 1.4l-1.1 1.4l-1.1-1.4zM148.9 597.1l1.1 1.4l-1.1 1.4l-1.1-1.4zM148.6 591.6l1.1 1.4l-1.1 1.4l-1.1-1.4zM149.2 588.6l1.1 1.4l-1.1 1.4l-1.1-1.4zM152.5 569.6l1.1 1.4l-1.1 1.4l-1.1-1.4zM154.5 572.6l1.1 1.4l-1.1 1.4l-1.1-1.4zM157 571.1l1.1 1.4l-1.1 1.4l-1.1-1.4zM158.6 573.6l1.1 1.4l-1.1 1.4l-1.1-1.4z" fill="#0000ff" fill-opacity="0.17" stroke="#0000ff" stroke-opacity="0.28" stroke-width="0.5"/><rect x="170.1" y="570.5" width="2.8" height="9.3" fill="#0000ff"/><path d="M170.1 571.7L170.7 570.5Q171.5 569.1 172.3 570.5L172.9 571.7z" fill="#0000ff"/><rect x="166.3" y="575.4" width="3" height="4.4" fill="#0000ff"/><path d="M166.3 576.6L167 575.4Q167.8 574 168.6 575.4L169.3 576.6z" fill="#0000ff"/><rect x="203.2" y="574.8" width="2.4" height="5" fill="#0000ff"/><path d="M203.2 576L203.7 574.8Q204.4 573.4 205.1 574.8L205.6 576z" fill="#0000ff"/><rect x="211.6" y="575.4" width="2" height="4.4" fill="#0000ff"/><path d="M211.6 576.6L212 575.4Q212.6 574 213.2 575.4L213.6 576.6z" fill="#0000ff"/><rect x="227.3" y="576" width="2.2" height="3.8" fill="#0000ff"/><path d="M227.3 577.2L227.8 576Q228.4 574.6 229 576L229.5 577.2z" fill="#0000ff"/><rect x="244.5" y="575.4" width="4" height="4.4" fill="#0000ff"/><path d="M244.5 576.6L245.4 575.4Q246.5 574 247.6 575.4L248.5 576.6z" fill="#0000ff"/><rect x="258.2" y="572.1" width="2.6" height="7.7" fill="#0000ff"/><path d="M258.2 573.3L258.8 572.1Q259.5 570.7 260.2 572.1L260.8 573.3z" fill="#0000ff"/><rect x="314" y="574" width="2.8" height="5.8" fill="#0000ff"/><path d="M314 575.2L314.6 574Q315.4 572.6 316.2 574L316.8 575.2z" fill="#0000ff"/><rect x="376.3" y="574.8" width="2" height="5" fill="#0000ff"/><path d="M376.3 576L376.8 574.8Q377.3 573.4 377.9 574.8L378.3 576z" fill="#0000ff"/><rect x="362" y="575.6" width="2" height="4.2" fill="#0000ff"/><path d="M362 576.8L362.4 575.6Q363 574.2 363.6 575.6L364 576.8z" fill="#0000ff"/><path d="M118 573.1l1.1 1.4l-1.1 1.4l-1.1-1.4zM186 573.6l1.1 1.4l-1.1 1.4l-1.1-1.4zM196 572.6l1.1 1.4l-1.1 1.4l-1.1-1.4zM198.5 574.6l1.1 1.4l-1.1 1.4l-1.1-1.4zM200.5 572.2l1.1 1.4l-1.1 1.4l-1.1-1.4zM208.5 569.1l1.1 1.4l-1.1 1.4l-1.1-1.4zM208.5 572.1l1.1 1.4l-1.1 1.4l-1.1-1.4zM208.5 582.1l1.1 1.4l-1.1 1.4l-1.1-1.4zM213 571.1l1.1 1.4l-1.1 1.4l-1.1-1.4zM216 573.6l1.1 1.4l-1.1 1.4l-1.1-1.4zM229.5 567.1l1.1 1.4l-1.1 1.4l-1.1-1.4zM231.5 571.6l1.1 1.4l-1.1 1.4l-1.1-1.4zM238 573.1l1.1 1.4l-1.1 1.4l-1.1-1.4zM239 583.1l1.1 1.4l-1.1 1.4l-1.1-1.4zM244 583.1l1.1 1.4l-1.1 1.4l-1.1-1.4zM246 571.2l1.1 1.4l-1.1 1.4l-1.1-1.4zM265 574.1l1.1 1.4l-1.1 1.4l-1.1-1.4zM267 572.6l1.1 1.4l-1.1 1.4l-1.1-1.4zM270.6 570.1l1.1 1.4l-1.1 1.4l-1.1-1.4zM279.5 571l1.1 1.4l-1.1 1.4l-1.1-1.4zM289 573.6l1.1 1.4l-1.1 1.4l-1.1-1.4zM290.5 571.6l1.1 1.4l-1.1 1.4l-1.1-1.4zM294.5 573.4l1.1 1.4l-1.1 1.4l-1.1-1.4zM299.5 570.8l1.1 1.4l-1.1 1.4l-1.1-1.4zM299.5 574.1l1.1 1.4l-1.1 1.4l-1.1-1.4zM306 574.6l1.1 1.4l-1.1 1.4l-1.1-1.4zM332.5 570l1.1 1.4l-1.1 1.4l-1.1-1.4zM341.5 569l1.1 1.4l-1.1 1.4l-1.1-1.4zM343 571.6l1.1 1.4l-1.1 1.4l-1.1-1.4zM344 573.6l1.1 1.4l-1.1 1.4l-1.1-1.4zM350 574l1.1 1.4l-1.1 1.4l-1.1-1.4zM352 572.6l1.1 1.4l-1.1 1.4l-1.1-1.4zM364.5 573.2l1.1 1.4l-1.1 1.4l-1.1-1.4zM371.6 571.2l1.1 1.4l-1.1 1.4l-1.1-1.4zM372.4 573.6l1.1 1.4l-1.1 1.4l-1.1-1.4zM384.5 571l1.1 1.4l-1.1 1.4l-1.1-1.4zM245.5 583.4l1.1 1.4l-1.1 1.4l-1.1-1.4zM163 583.1l1.1 1.4l-1.1 1.4l-1.1-1.4z" fill="#0000ff" fill-opacity="0.16" stroke="#0000ff" stroke-opacity="0.26" stroke-width="0.5"/><path d="M377.1 558.6l1.4 1.9l-1.4 1.9l-1.4-1.9zM377.3 560.3l1.4 1.9l-1.4 1.9l-1.4-1.9zM377.4 561.8l1.4 1.9l-1.4 1.9l-1.4-1.9zM377.1 563.6l1.4 1.9l-1.4 1.9l-1.4-1.9zM376.9 565.8l1.4 1.9l-1.4 1.9l-1.4-1.9zM377.5 567.4l1.4 1.9l-1.4 1.9l-1.4-1.9zM377.6 569.4l1.4 1.9l-1.4 1.9l-1.4-1.9zM377.4 570.8l1.4 1.9l-1.4 1.9l-1.4-1.9zM377.6 572.7l1.4 1.9l-1.4 1.9l-1.4-1.9z" fill="#0000ff" fill-opacity="0.15" stroke="#0000ff" stroke-opacity="0.25" stroke-width="0.5"/><path d="M376.4 529.8l1.1 1.4l-1.1 1.4l-1.1-1.4zM377.4 546.9l1.1 1.4l-1.1 1.4l-1.1-1.4zM377.4 559.6l1.1 1.4l-1.1 1.4l-1.1-1.4z" fill="#0000ff" fill-opacity="0.18" stroke="#0000ff" stroke-opacity="0.30" stroke-width="0.5"/><path d="M390.9 581.4l1.4 1.9l-1.4 1.9l-1.4-1.9zM391 583.6l1.4 1.9l-1.4 1.9l-1.4-1.9zM390.3 585.4l1.4 1.9l-1.4 1.9l-1.4-1.9zM390.3 586.8l1.4 1.9l-1.4 1.9l-1.4-1.9zM390.5 588.6l1.4 1.9l-1.4 1.9l-1.4-1.9zM390.5 590.2l1.4 1.9l-1.4 1.9l-1.4-1.9zM390.5 591.9l1.4 1.9l-1.4 1.9l-1.4-1.9zM390.8 593.9l1.4 1.9l-1.4 1.9l-1.4-1.9zM390.8 595.8l1.4 1.9l-1.4 1.9l-1.4-1.9z" fill="#0000ff" fill-opacity="0.18" stroke="#0000ff" stroke-opacity="0.30" stroke-width="0.5"/></g>
<path d="M121.5 625.5v4.86M173.5 625.5v4.86M225.5 625.5v4.86M277.5 625.5v4.86M329.5 625.5v4.86M381.5 625.5v4.86M80.5 524.5h-4.86M80.5 558.5h-4.86M80.5 592.5h-4.86" stroke="#000" stroke-width="1.11" fill="none"/>
<rect x="80.5" y="522.5" width="329.0" height="103" fill="none" stroke="#000" stroke-width="1.11"/>
<g font-size="13.889">
<text x="121.26" y="645.78" text-anchor="middle">22:00</text>
<text x="173.28" y="645.78" text-anchor="middle">00:00</text>
<text x="225.29" y="645.78" text-anchor="middle">02:00</text>
<text x="277.31" y="645.78" text-anchor="middle">04:00</text>
<text x="329.33" y="645.78" text-anchor="middle">06:00</text>
<text x="381.34" y="645.78" text-anchor="middle">08:00</text>
<text x="69.90" y="529.78" text-anchor="end">750</text>
<text x="69.90" y="563.78" text-anchor="end">500</text>
<text x="69.90" y="597.78" text-anchor="end">250</text>
<text x="33.8" y="574.0" text-anchor="middle" transform="rotate(-90 33.8 574.0)">Flux [SFU]</text>
</g>
<text x="244.20" y="514.17" font-size="16.667" text-anchor="middle">NoRP 9.4GHz Stokes-I</text>
</g>
<g id="ax31">
<clipPath id="cp31"><rect x="472.5" y="522.5" width="329.0" height="103"/></clipPath>
<g clip-path="url(#cp31)"><rect x="486" y="573.6" width="5" height="3" fill="#ffa500"/><path d="M489.6 572.8 490.6 572.6 491.6 572.4 492.6 572.6 493.6 572.3 494.6 572.8 495.6 572.7 496.6 572.4 497.6 572.4 498.6 572.4 499.6 572.2 500.6 572.5 501.6 572.6 502.6 572.3 503.6 572.5 504.6 572.6 505.6 572.8 506.6 572.5 507.6 572.5 508.6 572.7 509.6 572.7 510.6 572.7 511.6 572.7 512.6 572.4 513.6 572.6 514.6 572.7 515.6 572.3 516.6 572.6 517.6 572.7 518.6 572.5 519.6 572.5 520.6 572.1 521.6 572.3 522.6 572.5 523.6 572.6 524.6 572.1 525.6 572.5 526.6 572.4 527.6 572.7 528.6 572.6 529.6 572.4 530.6 572.4 531.6 572.2 532.6 572.6 533.6 572.7 534.6 572.7 535.6 572.7 536.6 572.7 537.6 572.5 538.6 572.6 539.6 572.6 540.6 572.6 541.6 572.6 542.6 572.4 543.6 572.6 544.6 572.5 545.6 572.2 546.6 572.5 547.6 572.4 548.6 572.5 549.6 572.5 550.6 572.7 551.6 572.5 552.6 572.2 553.6 572.5 554.6 572.6 555.6 572.5 556.6 572.5 557.6 572.6 558.6 572.5 559.6 572 560.6 572.4 561.6 572.5 562.6 572.7 563.6 572.6 564.6 572.5 565.6 572.4 566.6 572.6 567.6 572.5 568.6 572.7 569.6 572.7 570.6 572.4 571.6 572.4 572.6 572.7 573.6 572.4 574.6 572.6 575.6 572.2 576.6 572.6 577.6 572.6 578.6 572.3 579.6 572.4 580.6 572.3 581.6 572.6 582.6 572.4 583.6 572.6 584.6 572.7 585.6 572.4 586.6 572.7 587.6 572.7 588.6 572.4 589.6 572.7 590.6 572.7 591.6 572.5 592.6 572.6 593.6 572.6 594.6 572.3 595.6 572.5 596.6 572.6 597.6 572.4 598.6 572.6 599.6 572.5 600.6 572.7 601.6 572.1 602.6 572.8 603.6 572.6 604.6 572.4 605.6 572.4 606.6 572.8 607.6 572.8 608.6 572.6 609.6 572.5 610.6 572.6 611.6 572.5 612.6 572.5 613.6 572.5 614.6 572.7 615.6 572.5 616.6 572.6 617.6 572.7 618.6 572.4 619.6 572.7 620.6 572.6 621.6 572.8 622.6 572.3 623.6 572.8 624.6 572.5 625.6 572.3 626.6 572.8 627.6 572.7 628.6 572.6 629.6 572.8 630.6 572.8 631.6 572.5 632.6 572.8 633.6 572.6 634.6 572.8 635.6 572.8 636.6 572.5 637.6 572.7 638.6 572.8 639.6 572.6 640.6 572.6 641.6 572.7 642.6 572.6 643.6 572.8 644.6 572.8 645.6 572.4 646.6 572.8 647.6 572.6 648.6 572.6 649.6 572.6 650.6 572.8 651.6 572.5 652.6 572.4 653.6 572.8 654.6 572.6 655.6 572.6 656.6 572.7 657.6 572.5 658.6 572.8 659.6 572.5 660.6 572.5 661.6 572.5 662.6 572.7 663.6 572.2 664.6 572.2 665.6 572.6 666.6 572.3 667.6 572.7 668.6 572.5 669.6 572.5 670.6 572.5 671.6 572.8 672.6 572.8 673.6 572.8 674.6 572.9 675.6 572.9 676.6 572.7 677.6 572.7 678.6 572.8 679.6 572.5 680.6 572.8 681.6 572.9 682.6 572.8 683.6 572.8 684.6 572.8 685.6 572.8 686.6 572.6 687.6 572.9 688.6 572.6 689.6 572.4 690.6 572.3 691.6 572.5 692.6 572.6 693.6 572.2 694.6 572.3 695.6 572.7 696.6 572.4 697.6 572.8 698.6 572.9 699.6 572.8 700.6 572.5 701.6 572.5 702.6 572.7 703.6 572.7 704.6 572.5 705.6 572.8 706.6 572.6 707.6 572.9 708.6 572.8 709.6 572.7 710.6 572.2 711.6 572.5 712.6 572.7 713.6 572.6 714.6 572.8 715.6 572.5 716.6 572.5 717.6 572.8 718.6 572.5 719.6 572.6 720.6 572.6 721.6 572.7 722.6 572.7 723.6 572.6 724.6 572.8 725.6 572.8 726.6 572.7 727.6 572.8 728.6 572.4 729.6 572.6 730.6 572.8 731.6 572.7 732.6 572.7 733.6 572.5 734.6 572.6 735.6 572.8 736.6 572.5 737.6 572.5 738.6 572.5 739.6 572.6 740.6 572.5 741.6 572.6 742.6 572.5 743.6 572.2 744.6 572.8 745.6 572.7 746.6 572.6 747.6 572.7 748.6 572.2 749.6 572.6 750.6 572.6 751.6 572.8 752.6 572.4 753.6 572.7 754.6 572.4 755.6 572.6 756.6 572.3 757.6 572.5 758.6 572.6 759.6 572.7 760.6 572.8 761.6 572.6 762.6 572.6 763.6 572.7 764.6 572.7 765.6 572.6 766.6 572.6 767.6 572.6 768.6 572.5 769.6 572.7 770.6 572.7 771.6 572.8 772.6 572.4 773.6 572.4 774.6 572.2 775.6 572.7 776.6 572.8 777.6 572.6 778.6 572.6 779.6 572.7 780.6 572.5 781.6 572.7 782.6 572.9 783.6 572.8 L783.6 576.8 782.6 577.2 781.6 577.6 780.6 577.6 779.6 577.5 778.6 577.5 777.6 577.5 776.6 577.8 775.6 577.8 774.6 577.5 773.6 577.5 772.6 577.6 771.6 577.8 770.6 577.7 769.6 577.8 768.6 577.8 767.6 577.4 766.6 577.7 765.6 577.7 764.6 577.7 763.6 577.5 762.6 577.8 761.6 577.7 760.6 577.5 759.6 577.6 758.6 577.4 757.6 577.6 756.6 577.6 755.6 577.9 754.6 577.5 753.6 577.7 752.6 577.7 751.6 577.5 750.6 577.6 749.6 577.5 748.6 577.7 747.6 577.7 746.6 577.7 745.6 577.7 744.6 577.5 743.6 577.6 742.6 577.7 741.6 577.5 740.6 577.4 739.6 577.5 738.6 577.6 737.6 577.7 736.6 577.5 735.6 577.7 734.6 577.4 733.6 577.5 732.6 578 731.6 577.5 730.6 577.4 729.6 577.9 728.6 577.5 727.6 577.8 726.6 577.6 725.6 577.7 724.6 577.4 723.6 577.5 722.6 577.6 721.6 577.4 720.6 577.5 719.6 577.7 718.6 577.6 717.6 577.4 716.6 577.7 715.6 577.5 714.6 577.7 713.6 577.6 712.6 577.7 711.6 577.6 710.6 577.7 709.6 577.5 708.6 577.7 707.6 577.4 706.6 577.4 705.6 577.5 704.6 577.4 703.6 577.5 702.6 577.7 701.6 577.6 700.6 577.7 699.6 577.5 698.6 577.7 697.6 577.4 696.6 577.5 695.6 577.7 694.6 577.6 693.6 577.6 692.6 577.7 691.6 578 690.6 577.6 689.6 577.9 688.6 577.4 687.6 577.7 686.6 577.4 685.6 577.5 684.6 577.7 683.6 577.8 682.6 577.4 681.6 577.4 680.6 577.7 679.6 577.5 678.6 578 677.6 577.4 676.6 577.5 675.6 578 674.6 577.6 673.6 577.4 672.6 577.4 671.6 577.9 670.6 577.4 669.6 577.7 668.6 577.7 667.6 577.3 666.6 577.6 665.6 577.4 664.6 577.6 663.6 577.5 662.6 578 661.6 577.6 660.6 577.6 659.6 577.5 658.6 577.5 657.6 577.5 656.6 577.5 655.6 577.3 654.6 577.4 653.6 577.9 652.6 577.7 651.6 577.4 650.6 577.4 649.6 577.7 648.6 577.5 647.6 577.6 646.6 577.7 645.6 577.5 644.6 577.4 643.6 577.7 642.6 577.4 641.6 577.7 640.6 577.6 639.6 578.1 638.6 577.5 637.6 578 636.6 577.6 635.6 577.7 634.6 577.7 633.6 577.6 632.6 577.5 631.6 577.6 630.6 577.5 629.6 577.4 628.6 577.6 627.6 577.6 626.6 577.4 625.6 577.8 624.6 577.4 623.6 577.5 622.6 577.9 621.6 577.7 620.6 577.4 619.6 577.9 618.6 577.7 617.6 577.6 616.6 577.9 615.6 577.7 614.6 577.7 613.6 577.6 612.6 577.5 611.6 577.6 610.6 577.8 609.6 577.6 608.6 577.6 607.6 577.6 606.6 577.5 605.6 577.5 604.6 577.8 603.6 578 602.6 577.6 601.6 577.4 600.6 577.8 599.6 577.5 598.6 577.5 597.6 578.1 596.6 577.5 595.6 577.6 594.6 577.7 593.6 577.7 592.6 577.6 591.6 577.7 590.6 577.7 589.6 577.6 588.6 577.9 587.6 577.6 586.6 577.8 585.6 577.7 584.6 577.7 583.6 577.5 582.6 577.8 581.6 577.7 580.6 577.5 579.6 577.8 578.6 577.9 577.6 577.6 576.6 577.5 575.6 577.6 574.6 578 573.6 577.8 572.6 577.7 571.6 577.8 570.6 577.5 569.6 577.6 568.6 577.7 567.6 577.5 566.6 577.9 565.6 577.5 564.6 577.6 563.6 577.7 562.6 577.5 561.6 577.6 560.6 577.9 559.6 577.6 558.6 578 557.6 577.6 556.6 577.8 555.6 577.6 554.6 577.7 553.6 577.7 552.6 577.8 551.6 577.6 550.6 577.8 549.6 577.6 548.6 577.5 547.6 577.9 546.6 577.6 545.6 577.9 544.6 578.1 543.6 577.7 542.6 577.6 541.6 577.5 540.6 577.8 539.6 578.1 538.6 577.7 537.6 577.7 536.6 577.6 535.6 578.2 534.6 577.9 533.6 577.7 532.6 577.8 531.6 577.6 530.6 577.8 529.6 577.8 528.6 577.8 527.6 577.7 526.6 578.1 525.6 578 524.6 577.5 523.6 577.8 522.6 578 521.6 577.6 520.6 577.8 519.6 577.8 518.6 577.8 517.6 578 516.6 577.6 515.6 577.5 514.6 577.9 513.6 577.8 512.6 577.5 511.6 577.8 510.6 577.5 509.6 577.6 508.6 577.6 507.6 577.5 506.6 577.7 505.6 577.6 504.6 577.7 503.6 577.6 502.6 577.7 501.6 577.5 500.6 577.8 499.6 577.9 498.6 577.5 497.6 577.5 496.6 577.5 495.6 577.6 494.6 577.8 493.6 577.4 492.6 577.5 491.6 577.5 490.6 577.2 489.6 577z" fill="#ffa500" stroke="#ffa500" stroke-width="0.3" stroke-linejoin="round"/><rect x="782" y="573.7" width="6" height="3" fill="#ffa500"/><path d="M538.6 576L539.6 566L540.4 561L540.9 559.5L541.4 561L542.2 566L543.4 574L543.4 577L542.2 585L541.4 590L540.9 592L540.4 590L539.6 585z" fill="#ffa500" fill-opacity="0.93"/><path d="M540.7 549.5l1.1 1.4l-1.1 1.4l-1.1-1.4zM539.8 539.4l1.1 1.4l-1.1 1.4l-1.1-1.4zM540 540.1l1.1 1.4l-1.1 1.4l-1.1-1.4zM540.5 546l1.1 1.4l-1.1 1.4l-1.1-1.4zM542.9 547.6l1.1 1.4l-1.1 1.4l-1.1-1.4zM540.6 540l1.1 1.4l-1.1 1.4l-1.1-1.4zM541.5 535.3l1.1 1.4l-1.1 1.4l-1.1-1.4zM542 550.6l1.1 1.4l-1.1 1.4l-1.1-1.4zM541.6 535.9l1.1 1.4l-1.1 1.4l-1.1-1.4zM541 544.9l1.1 1.4l-1.1 1.4l-1.1-1.4zM541.1 556.9l1.1 1.4l-1.1 1.4l-1.1-1.4zM541.5 544.5l1.1 1.4l-1.1 1.4l-1.1-1.4zM540.8 555.8l1.1 1.4l-1.1 1.4l-1.1-1.4zM540.1 542.6l1.1 1.4l-1.1 1.4l-1.1-1.4zM540.2 550.8l1.1 1.4l-1.1 1.4l-1.1-1.4zM540 548.8l1.1 1.4l-1.1 1.4l-1.1-1.4zM541.5 556.9l1.1 1.4l-1.1 1.4l-1.1-1.4zM540.2 534l1.1 1.4l-1.1 1.4l-1.1-1.4zM539.1 554.8l1.1 1.4l-1.1 1.4l-1.1-1.4zM539.7 547l1.1 1.4l-1.1 1.4l-1.1-1.4zM541.6 552.1l1.1 1.4l-1.1 1.4l-1.1-1.4zM541 543.9l1.1 1.4l-1.1 1.4l-1.1-1.4zM540.1 591.7l1.1 1.4l-1.1 1.4l-1.1-1.4zM540.8 597l1.1 1.4l-1.1 1.4l-1.1-1.4zM541.4 600l1.1 1.4l-1.1 1.4l-1.1-1.4zM541.8 598.4l1.1 1.4l-1.1 1.4l-1.1-1.4zM540.8 595.7l1.1 1.4l-1.1 1.4l-1.1-1.4zM541.4 597l1.1 1.4l-1.1 1.4l-1.1-1.4zM540.5 591.9l1.1 1.4l-1.1 1.4l-1.1-1.4zM540.9 600.7l1.1 1.4l-1.1 1.4l-1.1-1.4zM541.2 598.6l1.1 1.4l-1.1 1.4l-1.1-1.4zM541.2 593.5l1.1 1.4l-1.1 1.4l-1.1-1.4zM541.3 591.6l1.1 1.4l-1.1 1.4l-1.1-1.4zM539.9 598.8l1.1 1.4l-1.1 1.4l-1.1-1.4zM540.6 608.6l1.1 1.4l-1.1 1.4l-1.1-1.4zM540.2 611.6l1.1 1.4l-1.1 1.4l-1.1-1.4zM540.9 615.1l1.1 1.4l-1.1 1.4l-1.1-1.4zM540.9 533l1.1 1.4l-1.1 1.4l-1.1-1.4zM546.5 565.1l1.1 1.4l-1.1 1.4l-1.1-1.4zM549 569.6l1.1 1.4l-1.1 1.4l-1.1-1.4z" fill="#ffa500" fill-opacity="0.18" stroke="#ffa500" stroke-opacity="0.30" stroke-width="0.5"/><path d="M560.1 579.7l1.1 1.4l-1.1 1.4l-1.1-1.4zM559 579.7l1.1 1.4l-1.1 1.4l-1.1-1.4zM559.8 569.6l1.1 1.4l-1.1 1.4l-1.1-1.4zM560.8 566.7l1.1 1.4l-1.1 1.4l-1.1-1.4zM560.5 569l1.1 1.4l-1.1 1.4l-1.1-1.4zM559.6 577.2l1.1 1.4l-1.1 1.4l-1.1-1.4zM559.7 570.7l1.1 1.4l-1.1 1.4l-1.1-1.4zM559.9 567.6l1.1 1.4l-1.1 1.4l-1.1-1.4zM560.3 578.1l1.1 1.4l-1.1 1.4l-1.1-1.4zM584.2 569l1.1 1.4l-1.1 1.4l-1.1-1.4zM584 579.1l1.1 1.4l-1.1 1.4l-1.1-1.4zM584.9 566.9l1.1 1.4l-1.1 1.4l-1.1-1.4zM585 566.4l1.1 1.4l-1.1 1.4l-1.1-1.4zM584.8 567l1.1 1.4l-1.1 1.4l-1.1-1.4zM583.8 568.2l1.1 1.4l-1.1 1.4l-1.1-1.4zM585.1 579.8l1.1 1.4l-1.1 1.4l-1.1-1.4zM584 578.3l1.1 1.4l-1.1 1.4l-1.1-1.4zM590.8 559.8l1.1 1.4l-1.1 1.4l-1.1-1.4zM590.8 585.2l1.1 1.4l-1.1 1.4l-1.1-1.4zM592.4 560.6l1.1 1.4l-1.1 1.4l-1.1-1.4zM589.6 566l1.1 1.4l-1.1 1.4l-1.1-1.4zM589 563.7l1.1 1.4l-1.1 1.4l-1.1-1.4zM589.1 567.9l1.1 1.4l-1.1 1.4l-1.1-1.4zM591 570.5l1.1 1.4l-1.1 1.4l-1.1-1.4zM588.9 567.7l1.1 1.4l-1.1 1.4l-1.1-1.4zM589 566.4l1.1 1.4l-1.1 1.4l-1.1-1.4zM591.6 578.5l1.1 1.4l-1.1 1.4l-1.1-1.4zM606.4 568l1.1 1.4l-1.1 1.4l-1.1-1.4zM605.6 581.4l1.1 1.4l-1.1 1.4l-1.1-1.4zM606.7 569l1.1 1.4l-1.1 1.4l-1.1-1.4zM606.8 565.8l1.1 1.4l-1.1 1.4l-1.1-1.4zM605.1 566.8l1.1 1.4l-1.1 1.4l-1.1-1.4zM606.8 578.6l1.1 1.4l-1.1 1.4l-1.1-1.4zM606.3 568.1l1.1 1.4l-1.1 1.4l-1.1-1.4zM606 579.9l1.1 1.4l-1.1 1.4l-1.1-1.4zM605.8 565.8l1.1 1.4l-1.1 1.4l-1.1-1.4zM630.2 582.1l1.1 1.4l-1.1 1.4l-1.1-1.4zM629.2 570.6l1.1 1.4l-1.1 1.4l-1.1-1.4zM628.5 565.2l1.1 1.4l-1.1 1.4l-1.1-1.4zM629.3 566.3l1.1 1.4l-1.1 1.4l-1.1-1.4zM631.2 580.9l1.1 1.4l-1.1 1.4l-1.1-1.4zM629.5 568.9l1.1 1.4l-1.1 1.4l-1.1-1.4zM629.5 569.7l1.1 1.4l-1.1 1.4l-1.1-1.4zM629.4 568.4l1.1 1.4l-1.1 1.4l-1.1-1.4zM629.9 565.8l1.1 1.4l-1.1 1.4l-1.1-1.4zM628.2 569.8l1.1 1.4l-1.1 1.4l-1.1-1.4zM636.2 577.9l1.1 1.4l-1.1 1.4l-1.1-1.4zM637.1 576.8l1.1 1.4l-1.1 1.4l-1.1-1.4zM637.1 569.9l1.1 1.4l-1.1 1.4l-1.1-1.4zM637 579.1l1.1 1.4l-1.1 1.4l-1.1-1.4zM637 569.2l1.1 1.4l-1.1 1.4l-1.1-1.4zM651.4 578.8l1.1 1.4l-1.1 1.4l-1.1-1.4zM651.5 583.7l1.1 1.4l-1.1 1.4l-1.1-1.4zM651.3 565.5l1.1 1.4l-1.1 1.4l-1.1-1.4zM651.6 567.9l1.1 1.4l-1.1 1.4l-1.1-1.4zM651.9 569.5l1.1 1.4l-1.1 1.4l-1.1-1.4zM651.8 560.8l1.1 1.4l-1.1 1.4l-1.1-1.4zM651.8 582.5l1.1 1.4l-1.1 1.4l-1.1-1.4zM652.2 579.2l1.1 1.4l-1.1 1.4l-1.1-1.4zM652.4 567.1l1.1 1.4l-1.1 1.4l-1.1-1.4zM651.8 580.6l1.1 1.4l-1.1 1.4l-1.1-1.4zM649.9 586.1l1.1 1.4l-1.1 1.4l-1.1-1.4zM658.7 578.8l1.1 1.4l-1.1 1.4l-1.1-1.4zM659.1 578.4l1.1 1.4l-1.1 1.4l-1.1-1.4zM657.4 569.1l1.1 1.4l-1.1 1.4l-1.1-1.4zM658.3 570l1.1 1.4l-1.1 1.4l-1.1-1.4zM692.4 567.5l1.1 1.4l-1.1 1.4l-1.1-1.4zM691.8 569.4l1.1 1.4l-1.1 1.4l-1.1-1.4zM690.3 579.9l1.1 1.4l-1.1 1.4l-1.1-1.4zM692.4 577.4l1.1 1.4l-1.1 1.4l-1.1-1.4zM693.2 570l1.1 1.4l-1.1 1.4l-1.1-1.4zM690.9 568.6l1.1 1.4l-1.1 1.4l-1.1-1.4zM706.8 580l1.1 1.4l-1.1 1.4l-1.1-1.4zM706.3 578.1l1.1 1.4l-1.1 1.4l-1.1-1.4zM705.8 570l1.1 1.4l-1.1 1.4l-1.1-1.4zM704.7 568.4l1.1 1.4l-1.1 1.4l-1.1-1.4zM707.1 577.5l1.1 1.4l-1.1 1.4l-1.1-1.4zM705.6 567.4l1.1 1.4l-1.1 1.4l-1.1-1.4zM734.2 578.3l1.1 1.4l-1.1 1.4l-1.1-1.4zM734.1 567.2l1.1 1.4l-1.1 1.4l-1.1-1.4zM735.8 582.4l1.1 1.4l-1.1 1.4l-1.1-1.4zM736 568.9l1.1 1.4l-1.1 1.4l-1.1-1.4zM736.3 565.6l1.1 1.4l-1.1 1.4l-1.1-1.4zM736 569.5l1.1 1.4l-1.1 1.4l-1.1-1.4zM733.7 565.6l1.1 1.4l-1.1 1.4l-1.1-1.4zM734.9 578.1l1.1 1.4l-1.1 1.4l-1.1-1.4zM742.1 570.1l1.1 1.4l-1.1 1.4l-1.1-1.4zM742.1 567l1.1 1.4l-1.1 1.4l-1.1-1.4zM740.6 578.7l1.1 1.4l-1.1 1.4l-1.1-1.4zM757.2 580.2l1.1 1.4l-1.1 1.4l-1.1-1.4zM757.4 568.7l1.1 1.4l-1.1 1.4l-1.1-1.4zM758.3 579l1.1 1.4l-1.1 1.4l-1.1-1.4zM757.4 583.2l1.1 1.4l-1.1 1.4l-1.1-1.4zM758.2 564.9l1.1 1.4l-1.1 1.4l-1.1-1.4zM758.3 578.4l1.1 1.4l-1.1 1.4l-1.1-1.4zM758.6 563.8l1.1 1.4l-1.1 1.4l-1.1-1.4zM756.6 563.8l1.1 1.4l-1.1 1.4l-1.1-1.4zM757.3 564l1.1 1.4l-1.1 1.4l-1.1-1.4zM757 580.7l1.1 1.4l-1.1 1.4l-1.1-1.4zM756.6 566.1l1.1 1.4l-1.1 1.4l-1.1-1.4zM768.2 566.8l1.1 1.4l-1.1 1.4l-1.1-1.4zM768.1 569.9l1.1 1.4l-1.1 1.4l-1.1-1.4zM768.1 577.7l1.1 1.4l-1.1 1.4l-1.1-1.4zM769.7 578l1.1 1.4l-1.1 1.4l-1.1-1.4zM769 568.8l1.1 1.4l-1.1 1.4l-1.1-1.4zM769.3 582.4l1.1 1.4l-1.1 1.4l-1.1-1.4zM768.2 566.8l1.1 1.4l-1.1 1.4l-1.1-1.4zM774 566.1l1.1 1.4l-1.1 1.4l-1.1-1.4zM775.9 570.6l1.1 1.4l-1.1 1.4l-1.1-1.4zM775.2 579.3l1.1 1.4l-1.1 1.4l-1.1-1.4zM518.8 570.2l1.1 1.4l-1.1 1.4l-1.1-1.4zM520.5 570.7l1.1 1.4l-1.1 1.4l-1.1-1.4zM520.7 577.6l1.1 1.4l-1.1 1.4l-1.1-1.4zM571 570.3l1.1 1.4l-1.1 1.4l-1.1-1.4zM569.4 569.1l1.1 1.4l-1.1 1.4l-1.1-1.4zM569.5 568.8l1.1 1.4l-1.1 1.4l-1.1-1.4zM613.8 579.7l1.1 1.4l-1.1 1.4l-1.1-1.4zM614.8 568.7l1.1 1.4l-1.1 1.4l-1.1-1.4zM614.9 579l1.1 1.4l-1.1 1.4l-1.1-1.4zM620.1 579.1l1.1 1.4l-1.1 1.4l-1.1-1.4zM622.1 566.9l1.1 1.4l-1.1 1.4l-1.1-1.4zM623.3 569l1.1 1.4l-1.1 1.4l-1.1-1.4zM664.4 570.5l1.1 1.4l-1.1 1.4l-1.1-1.4zM662.6 581.4l1.1 1.4l-1.1 1.4l-1.1-1.4zM662.8 569.9l1.1 1.4l-1.1 1.4l-1.1-1.4zM671.6 566.6l1.1 1.4l-1.1 1.4l-1.1-1.4zM671.9 568.6l1.1 1.4l-1.1 1.4l-1.1-1.4zM670 568.3l1.1 1.4l-1.1 1.4l-1.1-1.4zM678.8 569.6l1.1 1.4l-1.1 1.4l-1.1-1.4zM679.8 569.6l1.1 1.4l-1.1 1.4l-1.1-1.4zM680.1 576.9l1.1 1.4l-1.1 1.4l-1.1-1.4z" fill="#ffa500" fill-opacity="0.16" stroke="#ffa500" stroke-opacity="0.27" stroke-width="0.5"/></g>
<path d="M513.5 625.5v4.86M565.5 625.5v4.86M617.5 625.5v4.86M669.5 625.5v4.86M721.5 625.5v4.86M773.5 625.5v4.86M472.5 536.5h-4.86M472.5 575.5h-4.86M472.5 614.5h-4.86" stroke="#000" stroke-width="1.11" fill="none"/>
<rect x="472.5" y="522.5" width="329.0" height="103" fill="none" stroke="#000" stroke-width="1.11"/>
<g font-size="13.889">
<text x="513.26" y="645.78" text-anchor="middle">22:00</text>
<text x="565.28" y="645.78" text-anchor="middle">00:00</text>
<text x="617.29" y="645.78" text-anchor="middle">02:00</text>
<text x="669.31" y="645.78" text-anchor="middle">04:00</text>
<text x="721.33" y="645.78" text-anchor="middle">06:00</text>
<text x="773.34" y="645.78" text-anchor="middle">08:00</text>
<text x="461.90" y="541.78" text-anchor="end">250</text>
<text x="461.90" y="580.78" text-anchor="end">0</text>
<text x="461.90" y="619.78" text-anchor="end">−250</text>
</g>
<text x="636.20" y="514.17" font-size="16.667" text-anchor="middle">NoRP 9.4GHz Stokes-V</text>
</g>
<g id="ax40">
<clipPath id="cp40"><rect x="80.5" y="684.5" width="329.0" height="103"/></clipPath>
<g clip-path="url(#cp40)"><path d="M98.3 731 98.4 700" fill="none" stroke="#0000ff" stroke-width="2.7" stroke-linejoin="round" stroke-linecap="round"/><path d="M97.3 697.4 98.3 697 99.3 697.2 100.3 697.3 101.3 697.6 102.3 697.4 103.3 697.3 104.3 697.4 105.3 697.9 106.3 698.1 107.3 697.5 108.3 697.7 109.3 697.4 110.3 697.2 111.3 697.5 112.3 696.8 113.3 697.1 114.3 697 115.3 696.7 116.3 696.4 117.3 696.7 118.3 696.6 119.3 696.6 120.3 696.2 121.3 696.1 122.3 696.4 123.3 695.7 124.3 695.9 125.3 695.8 126.3 695.9 127.3 695.4 128.3 695.1 129.3 694.9 130.3 695.5 131.3 695.9 132.3 695.4 133.3 695.4 134.3 694.7 135.3 695.4 136.3 695.5 137.3 695.1 138.3 695.2 139.3 695.3 140.3 695.1 141.3 694.9 142.3 694.7 143.3 695 144.3 694.4 145.3 694.8 146.3 695.2 147.3 695.2 148.3 694.7 149.3 694.8 150.3 695.2 151.3 694.8 152.3 695.1 153.3 694.6 154.3 694.4 155.3 694.9 156.3 695.1 157.3 695 158.3 694.7 159.3 694.1 160.3 694.7 161.3 694.6 162.3 694.8 163.3 694.7 164.3 695.1 165.3 694.8 166.3 694.5 167.3 694.8 168.3 694.8 169.3 695 170.3 694.7 171.3 694.9 172.3 694.2 173.3 694.6 174.3 694.7 175.3 694.7 176.3 694.1 177.3 694.9 178.3 694.5 179.3 694.5 180.3 694.8 181.3 694.7 182.3 694.5 183.3 694.6 184.3 694.8 185.3 695 186.3 694 187.3 694.8 188.3 695 189.3 694.8 190.3 694.7 191.3 694.1 192.3 695 193.3 695 194.3 694.6 195.3 694.5 196.3 694.4 197.3 694.4 198.3 694.6 199.3 694.7 200.3 694.9 201.3 694.4 202.3 694.9 203.3 694.6 204.3 694.6 205.3 694.6 206.3 694 207.3 694.1 208.3 694.8 209.3 694.6 210.3 694.4 211.3 694.6 212.3 694.8 213.3 694.7 214.3 694.8 215.3 694.4 216.3 694.5 217.3 694.8 218.3 694.9 219.3 694.5 220.3 694.5 221.3 693.9 222.3 694.7 223.3 694.8 224.3 694.8 225.3 694.8 226.3 694.6 227.3 694.4 228.3 694.1 229.3 694.8 230.3 694.5 231.3 694.3 232.3 694.6 233.3 694.4 234.3 694.3 235.3 694.8 236.3 694 237.3 694 238.3 694.7 239.3 694.6 240.3 694.7 241.3 694.4 242.3 694.9 243.3 694.4 244.3 694.9 245.3 694.6 246.3 694.1 247.3 694.9 248.3 694.4 249.3 693.9 250.3 694.9 251.3 694.3 252.3 694.3 253.3 694.3 254.3 694.4 255.3 694.5 256.3 694.4 257.3 694.6 258.3 694.3 259.3 694.6 260.3 694.6 261.3 694.7 262.3 694.5 263.3 694.8 264.3 694.5 265.3 694.4 266.3 694.8 267.3 694.7 268.3 694.6 269.3 694.5 270.3 694.8 271.3 694.6 272.3 694.9 273.3 694.6 274.3 694.3 275.3 694.4 276.3 694.7 277.3 694.8 278.3 694.4 279.3 694.6 280.3 694.7 281.3 694.8 282.3 694.4 283.3 694.3 284.3 694.6 285.3 694.7 286.3 694.5 287.3 694.5 288.3 694.8 289.3 694.4 290.3 694 291.3 694.7 292.3 694 293.3 694.6 294.3 694.4 295.3 694.6 296.3 694.6 297.3 694.4 298.3 694.5 299.3 694.4 300.3 694.6 301.3 694.5 302.3 694.5 303.3 694.9 304.3 694.3 305.3 694.4 306.3 694.6 307.3 694.7 308.3 694.6 309.3 694.5 310.3 694.9 311.3 694.8 312.3 694.8 313.3 694.4 314.3 694.6 315.3 694.4 316.3 694.2 317.3 694.2 318.3 694.5 319.3 693.9 320.3 694.3 321.3 694.4 322.3 694.5 323.3 693.8 324.3 694.3 325.3 694.5 326.3 694.3 327.3 694.8 328.3 694.3 329.3 694.7 330.3 694.8 331.3 694.6 332.3 694.3 333.3 694.6 334.3 694.3 335.3 694.3 336.3 694.4 337.3 694.3 338.3 694.5 339.3 694.3 340.3 694.8 341.3 694.5 342.3 694.4 343.3 694.3 344.3 694.2 345.3 694.3 346.3 694.2 347.3 694.7 348.3 694.3 349.3 694.5 350.3 694.8 351.3 694.7 352.3 694.3 353.3 694.5 354.3 694.1 355.3 694.3 356.3 694.3 357.3 694.8 358.3 694.5 359.3 694.6 360.3 694.6 361.3 694.4 362.3 694.9 363.3 694.3 364.3 694.6 365.3 695 366.3 694.5 367.3 694.8 368.3 694.5 369.3 694.8 370.3 694.5 371.3 694.9 372.3 694.5 373.3 695 374.3 694.5 375.3 694.5 376.3 694.3 377.3 694.6 378.3 694.7 379.3 695 380.3 694.6 381.3 695 382.3 694.9 383.3 694.9 384.3 694.5 385.3 694.2 386.3 695.2 387.3 694.7 388.3 694.1 389.3 695.1 390.3 695 391.3 694.7 392.3 696.2 392.5 697.2 L392.5 701.4 392.3 702.3 391.3 702.9 390.3 703.8 389.3 703.3 388.3 703.4 387.3 704 386.3 703.5 385.3 704.1 384.3 703.7 383.3 703.5 382.3 703.5 381.3 703.4 380.3 704.2 379.3 703.4 378.3 703.7 377.3 703.9 376.3 703.5 375.3 703.3 374.3 703.6 373.3 703.2 372.3 703.7 371.3 703.6 370.3 703.5 369.3 703.6 368.3 704.1 367.3 703.6 366.3 703.4 365.3 703.2 364.3 703.5 363.3 703.6 362.3 703.2 361.3 703.9 360.3 703.5 359.3 703.8 358.3 703.5 357.3 703.8 356.3 703.3 355.3 703.3 354.3 703.6 353.3 704.3 352.3 703.7 351.3 703.7 350.3 703.6 349.3 703.5 348.3 703.7 347.3 703.5 346.3 703.6 345.3 704 344.3 704.3 343.3 703.8 342.3 704.1 341.3 703.8 340.3 703.8 339.3 703.3 338.3 703.5 337.3 703.8 336.3 703.9 335.3 704.4 334.3 703.3 333.3 703.5 332.3 704.1 331.3 704.1 330.3 703.8 329.3 703.7 328.3 703.8 327.3 703.7 326.3 703.4 325.3 703.7 324.3 703.9 323.3 703.7 322.3 703.7 321.3 704.3 320.3 703.9 319.3 703.8 318.3 703.7 317.3 703.6 316.3 703.7 315.3 703.8 314.3 703.6 313.3 703.7 312.3 703.7 311.3 704.2 310.3 703.8 309.3 704 308.3 703.7 307.3 704 306.3 704 305.3 703.9 304.3 704 303.3 704.4 302.3 703.6 301.3 703.9 300.3 703.6 299.3 703.9 298.3 703.6 297.3 704.1 296.3 703.7 295.3 704.4 294.3 703.8 293.3 704.2 292.3 703.5 291.3 703.8 290.3 704.2 289.3 704.2 288.3 704 287.3 704 286.3 704 285.3 703.6 284.3 703.8 283.3 704.2 282.3 703.9 281.3 703.9 280.3 704.6 279.3 703.8 278.3 703.9 277.3 703.9 276.3 703.6 275.3 704 274.3 703.6 273.3 704.2 272.3 704.1 271.3 704 270.3 704 269.3 703.9 268.3 703.6 267.3 703.5 266.3 703.6 265.3 703.8 264.3 704.3 263.3 703.8 262.3 703.5 261.3 703.8 260.3 703.9 259.3 703.7 258.3 704.1 257.3 703.6 256.3 703.6 255.3 703.9 254.3 704.1 253.3 703.6 252.3 704 251.3 703.8 250.3 704.6 249.3 703.6 248.3 703.7 247.3 704 246.3 703.6 245.3 703.6 244.3 704 243.3 704.1 242.3 704 241.3 704.1 240.3 704 239.3 703.7 238.3 704.2 237.3 704 236.3 703.6 235.3 703.8 234.3 703.6 233.3 703.6 232.3 704.5 231.3 704.2 230.3 704.2 229.3 703.8 228.3 704.2 227.3 704 226.3 703.9 225.3 704 224.3 704 223.3 704 222.3 704.2 221.3 704.6 220.3 704.1 219.3 704 218.3 703.8 217.3 704.2 216.3 703.8 215.3 703.9 214.3 704.2 213.3 704 212.3 704.2 211.3 704 210.3 704.5 209.3 704.1 208.3 703.9 207.3 704.3 206.3 704.6 205.3 704.3 204.3 704.6 203.3 704.1 202.3 704.3 201.3 704.4 200.3 703.9 199.3 704 198.3 704.6 197.3 704.3 196.3 704.7 195.3 704 194.3 704.1 193.3 704.3 192.3 704.3 191.3 704.2 190.3 704.1 189.3 704.4 188.3 703.9 187.3 704.5 186.3 703.9 185.3 704.7 184.3 704.8 183.3 704.8 182.3 703.9 181.3 704.4 180.3 704 179.3 704.2 178.3 704.2 177.3 704 176.3 704.2 175.3 704.8 174.3 704.5 173.3 703.9 172.3 704.3 171.3 704.9 170.3 704 169.3 704.1 168.3 704.5 167.3 704.2 166.3 704.8 165.3 704.2 164.3 704.5 163.3 704.4 162.3 704.6 161.3 704.6 160.3 704.6 159.3 705.1 158.3 704.9 157.3 704.6 156.3 704.4 155.3 704.4 154.3 704.6 153.3 704.5 152.3 704.4 151.3 704.6 150.3 704.7 149.3 704.4 148.3 704.4 147.3 704.5 146.3 705.3 145.3 704.8 144.3 704.3 143.3 704.9 142.3 705.3 141.3 704.8 140.3 704.6 139.3 704.5 138.3 705 137.3 704.9 136.3 704.8 135.3 705.1 134.3 705.1 133.3 704.7 132.3 705.6 131.3 705.3 130.3 705 129.3 705.4 128.3 704.9 127.3 705.3 126.3 705.4 125.3 705.3 124.3 705.8 123.3 705.3 122.3 705.4 121.3 705.3 120.3 705.2 119.3 705.5 118.3 706 117.3 705.7 116.3 706.5 115.3 705.9 114.3 706.4 113.3 705.6 112.3 706.5 111.3 706.2 110.3 706.3 109.3 706.4 108.3 706.1 107.3 706.5 106.3 706.7 105.3 706.4 104.3 706.7 103.3 706.5 102.3 706.5 101.3 705.8 100.3 705.7 99.3 705.8 98.3 706.2 97.3 705.4z" fill="none" stroke="#0000ff" stroke-opacity="0.22" stroke-width="1.8" stroke-linejoin="round"/><path d="M97.3 697.4 98.3 697 99.3 697.2 100.3 697.3 101.3 697.6 102.3 697.4 103.3 697.3 104.3 697.4 105.3 697.9 106.3 698.1 107.3 697.5 108.3 697.7 109.3 697.4 110.3 697.2 111.3 697.5 112.3 696.8 113.3 697.1 114.3 697 115.3 696.7 116.3 696.4 117.3 696.7 118.3 696.6 119.3 696.6 120.3 696.2 121.3 696.1 122.3 696.4 123.3 695.7 124.3 695.9 125.3 695.8 126.3 695.9 127.3 695.4 128.3 695.1 129.3 694.9 130.3 695.5 131.3 695.9 132.3 695.4 133.3 695.4 134.3 694.7 135.3 695.4 136.3 695.5 137.3 695.1 138.3 695.2 139.3 695.3 140.3 695.1 141.3 694.9 142.3 694.7 143.3 695 144.3 694.4 145.3 694.8 146.3 695.2 147.3 695.2 148.3 694.7 149.3 694.8 150.3 695.2 151.3 694.8 152.3 695.1 153.3 694.6 154.3 694.4 155.3 694.9 156.3 695.1 157.3 695 158.3 694.7 159.3 694.1 160.3 694.7 161.3 694.6 162.3 694.8 163.3 694.7 164.3 695.1 165.3 694.8 166.3 694.5 167.3 694.8 168.3 694.8 169.3 695 170.3 694.7 171.3 694.9 172.3 694.2 173.3 694.6 174.3 694.7 175.3 694.7 176.3 694.1 177.3 694.9 178.3 694.5 179.3 694.5 180.3 694.8 181.3 694.7 182.3 694.5 183.3 694.6 184.3 694.8 185.3 695 186.3 694 187.3 694.8 188.3 695 189.3 694.8 190.3 694.7 191.3 694.1 192.3 695 193.3 695 194.3 694.6 195.3 694.5 196.3 694.4 197.3 694.4 198.3 694.6 199.3 694.7 200.3 694.9 201.3 694.4 202.3 694.9 203.3 694.6 204.3 694.6 205.3 694.6 206.3 694 207.3 694.1 208.3 694.8 209.3 694.6 210.3 694.4 211.3 694.6 212.3 694.8 213.3 694.7 214.3 694.8 215.3 694.4 216.3 694.5 217.3 694.8 218.3 694.9 219.3 694.5 220.3 694.5 221.3 693.9 222.3 694.7 223.3 694.8 224.3 694.8 225.3 694.8 226.3 694.6 227.3 694.4 228.3 694.1 229.3 694.8 230.3 694.5 231.3 694.3 232.3 694.6 233.3 694.4 234.3 694.3 235.3 694.8 236.3 694 237.3 694 238.3 694.7 239.3 694.6 240.3 694.7 241.3 694.4 242.3 694.9 243.3 694.4 244.3 694.9 245.3 694.6 246.3 694.1 247.3 694.9 248.3 694.4 249.3 693.9 250.3 694.9 251.3 694.3 252.3 694.3 253.3 694.3 254.3 694.4 255.3 694.5 256.3 694.4 257.3 694.6 258.3 694.3 259.3 694.6 260.3 694.6 261.3 694.7 262.3 694.5 263.3 694.8 264.3 694.5 265.3 694.4 266.3 694.8 267.3 694.7 268.3 694.6 269.3 694.5 270.3 694.8 271.3 694.6 272.3 694.9 273.3 694.6 274.3 694.3 275.3 694.4 276.3 694.7 277.3 694.8 278.3 694.4 279.3 694.6 280.3 694.7 281.3 694.8 282.3 694.4 283.3 694.3 284.3 694.6 285.3 694.7 286.3 694.5 287.3 694.5 288.3 694.8 289.3 694.4 290.3 694 291.3 694.7 292.3 694 293.3 694.6 294.3 694.4 295.3 694.6 296.3 694.6 297.3 694.4 298.3 694.5 299.3 694.4 300.3 694.6 301.3 694.5 302.3 694.5 303.3 694.9 304.3 694.3 305.3 694.4 306.3 694.6 307.3 694.7 308.3 694.6 309.3 694.5 310.3 694.9 311.3 694.8 312.3 694.8 313.3 694.4 314.3 694.6 315.3 694.4 316.3 694.2 317.3 694.2 318.3 694.5 319.3 693.9 320.3 694.3 321.3 694.4 322.3 694.5 323.3 693.8 324.3 694.3 325.3 694.5 326.3 694.3 327.3 694.8 328.3 694.3 329.3 694.7 330.3 694.8 331.3 694.6 332.3 694.3 333.3 694.6 334.3 694.3 335.3 694.3 336.3 694.4 337.3 694.3 338.3 694.5 339.3 694.3 340.3 694.8 341.3 694.5 342.3 694.4 343.3 694.3 344.3 694.2 345.3 694.3 346.3 694.2 347.3 694.7 348.3 694.3 349.3 694.5 350.3 694.8 351.3 694.7 352.3 694.3 353.3 694.5 354.3 694.1 355.3 694.3 356.3 694.3 357.3 694.8 358.3 694.5 359.3 694.6 360.3 694.6 361.3 694.4 362.3 694.9 363.3 694.3 364.3 694.6 365.3 695 366.3 694.5 367.3 694.8 368.3 694.5 369.3 694.8 370.3 694.5 371.3 694.9 372.3 694.5 373.3 695 374.3 694.5 375.3 694.5 376.3 694.3 377.3 694.6 378.3 694.7 379.3 695 380.3 694.6 381.3 695 382.3 694.9 383.3 694.9 384.3 694.5 385.3 694.2 386.3 695.2 387.3 694.7 388.3 694.1 389.3 695.1 390.3 695 391.3 694.7 392.3 696.2 392.5 697.2 L392.5 701.4 392.3 702.3 391.3 702.9 390.3 703.8 389.3 703.3 388.3 703.4 387.3 704 386.3 703.5 385.3 704.1 384.3 703.7 383.3 703.5 382.3 703.5 381.3 703.4 380.3 704.2 379.3 703.4 378.3 703.7 377.3 703.9 376.3 703.5 375.3 703.3 374.3 703.6 373.3 703.2 372.3 703.7 371.3 703.6 370.3 703.5 369.3 703.6 368.3 704.1 367.3 703.6 366.3 703.4 365.3 703.2 364.3 703.5 363.3 703.6 362.3 703.2 361.3 703.9 360.3 703.5 359.3 703.8 358.3 703.5 357.3 703.8 356.3 703.3 355.3 703.3 354.3 703.6 353.3 704.3 352.3 703.7 351.3 703.7 350.3 703.6 349.3 703.5 348.3 703.7 347.3 703.5 346.3 703.6 345.3 704 344.3 704.3 343.3 703.8 342.3 704.1 341.3 703.8 340.3 703.8 339.3 703.3 338.3 703.5 337.3 703.8 336.3 703.9 335.3 704.4 334.3 703.3 333.3 703.5 332.3 704.1 331.3 704.1 330.3 703.8 329.3 703.7 328.3 703.8 327.3 703.7 326.3 703.4 325.3 703.7 324.3 703.9 323.3 703.7 322.3 703.7 321.3 704.3 320.3 703.9 319.3 703.8 318.3 703.7 317.3 703.6 316.3 703.7 315.3 703.8 314.3 703.6 313.3 703.7 312.3 703.7 311.3 704.2 310.3 703.8 309.3 704 308.3 703.7 307.3 704 306.3 704 305.3 703.9 304.3 704 303.3 704.4 302.3 703.6 301.3 703.9 300.3 703.6 299.3 703.9 298.3 703.6 297.3 704.1 296.3 703.7 295.3 704.4 294.3 703.8 293.3 704.2 292.3 703.5 291.3 703.8 290.3 704.2 289.3 704.2 288.3 704 287.3 704 286.3 704 285.3 703.6 284.3 703.8 283.3 704.2 282.3 703.9 281.3 703.9 280.3 704.6 279.3 703.8 278.3 703.9 277.3 703.9 276.3 703.6 275.3 704 274.3 703.6 273.3 704.2 272.3 704.1 271.3 704 270.3 704 269.3 703.9 268.3 703.6 267.3 703.5 266.3 703.6 265.3 703.8 264.3 704.3 263.3 703.8 262.3 703.5 261.3 703.8 260.3 703.9 259.3 703.7 258.3 704.1 257.3 703.6 256.3 703.6 255.3 703.9 254.3 704.1 253.3 703.6 252.3 704 251.3 703.8 250.3 704.6 249.3 703.6 248.3 703.7 247.3 704 246.3 703.6 245.3 703.6 244.3 704 243.3 704.1 242.3 704 241.3 704.1 240.3 704 239.3 703.7 238.3 704.2 237.3 704 236.3 703.6 235.3 703.8 234.3 703.6 233.3 703.6 232.3 704.5 231.3 704.2 230.3 704.2 229.3 703.8 228.3 704.2 227.3 704 226.3 703.9 225.3 704 224.3 704 223.3 704 222.3 704.2 221.3 704.6 220.3 704.1 219.3 704 218.3 703.8 217.3 704.2 216.3 703.8 215.3 703.9 214.3 704.2 213.3 704 212.3 704.2 211.3 704 210.3 704.5 209.3 704.1 208.3 703.9 207.3 704.3 206.3 704.6 205.3 704.3 204.3 704.6 203.3 704.1 202.3 704.3 201.3 704.4 200.3 703.9 199.3 704 198.3 704.6 197.3 704.3 196.3 704.7 195.3 704 194.3 704.1 193.3 704.3 192.3 704.3 191.3 704.2 190.3 704.1 189.3 704.4 188.3 703.9 187.3 704.5 186.3 703.9 185.3 704.7 184.3 704.8 183.3 704.8 182.3 703.9 181.3 704.4 180.3 704 179.3 704.2 178.3 704.2 177.3 704 176.3 704.2 175.3 704.8 174.3 704.5 173.3 703.9 172.3 704.3 171.3 704.9 170.3 704 169.3 704.1 168.3 704.5 167.3 704.2 166.3 704.8 165.3 704.2 164.3 704.5 163.3 704.4 162.3 704.6 161.3 704.6 160.3 704.6 159.3 705.1 158.3 704.9 157.3 704.6 156.3 704.4 155.3 704.4 154.3 704.6 153.3 704.5 152.3 704.4 151.3 704.6 150.3 704.7 149.3 704.4 148.3 704.4 147.3 704.5 146.3 705.3 145.3 704.8 144.3 704.3 143.3 704.9 142.3 705.3 141.3 704.8 140.3 704.6 139.3 704.5 138.3 705 137.3 704.9 136.3 704.8 135.3 705.1 134.3 705.1 133.3 704.7 132.3 705.6 131.3 705.3 130.3 705 129.3 705.4 128.3 704.9 127.3 705.3 126.3 705.4 125.3 705.3 124.3 705.8 123.3 705.3 122.3 705.4 121.3 705.3 120.3 705.2 119.3 705.5 118.3 706 117.3 705.7 116.3 706.5 115.3 705.9 114.3 706.4 113.3 705.6 112.3 706.5 111.3 706.2 110.3 706.3 109.3 706.4 108.3 706.1 107.3 706.5 106.3 706.7 105.3 706.4 104.3 706.7 103.3 706.5 102.3 706.5 101.3 705.8 100.3 705.7 99.3 705.8 98.3 706.2 97.3 705.4z" fill="#0000ff" stroke="#0000ff" stroke-width="0.3" stroke-linejoin="round"/><path d="M390.9 704.2l1.4 1.9l-1.4 1.9l-1.4-1.9zM390.5 708.2l1.4 1.9l-1.4 1.9l-1.4-1.9zM390.5 709.9l1.4 1.9l-1.4 1.9l-1.4-1.9zM390.7 714.8l1.4 1.9l-1.4 1.9l-1.4-1.9zM391 718l1.4 1.9l-1.4 1.9l-1.4-1.9zM390.8 720.7l1.4 1.9l-1.4 1.9l-1.4-1.9zM390.5 723.3l1.4 1.9l-1.4 1.9l-1.4-1.9zM390.7 727.9l1.4 1.9l-1.4 1.9l-1.4-1.9z" fill="#0000ff" fill-opacity="0.17" stroke="#0000ff" stroke-opacity="0.28" stroke-width="0.5"/><rect x="94" y="786.2" width="4.6" height="2.6" fill="#0000ff"/><rect x="102.6" y="786.2" width="5.2" height="2.6" fill="#0000ff"/><rect x="145.8" y="786.2" width="2.4" height="2.6" fill="#0000ff"/><rect x="198.2" y="786.2" width="2.4" height="2.6" fill="#0000ff"/><rect x="250.2" y="786.2" width="2.4" height="2.6" fill="#0000ff"/><rect x="302.4" y="786.2" width="2.6" height="2.6" fill="#0000ff"/><rect x="354.4" y="786.2" width="2.4" height="2.6" fill="#0000ff"/><rect x="382.4" y="786.2" width="3.8" height="2.6" fill="#0000ff"/><rect x="389" y="786.2" width="7.4" height="2.6" fill="#0000ff"/></g>
<path d="M121.5 787.5v4.86M173.5 787.5v4.86M225.5 787.5v4.86M277.5 787.5v4.86M329.5 787.5v4.86M381.5 787.5v4.86M80.5 717.5h-4.86M80.5 752.5h-4.86M80.5 787.5h-4.86" stroke="#000" stroke-width="1.11" fill="none"/>
<rect x="80.5" y="684.5" width="329.0" height="103" fill="none" stroke="#000" stroke-width="1.11"/>
<g font-size="13.889">
<text x="121.26" y="807.78" text-anchor="middle">22:00</text>
<text x="173.28" y="807.78" text-anchor="middle">00:00</text>
<text x="225.29" y="807.78" text-anchor="middle">02:00</text>
<text x="277.31" y="807.78" text-anchor="middle">04:00</text>
<text x="329.33" y="807.78" text-anchor="middle">06:00</text>
<text x="381.34" y="807.78" text-anchor="middle">08:00</text>
<text x="69.90" y="722.78" text-anchor="end">500</text>
<text x="69.90" y="757.78" text-anchor="end">250</text>
<text x="69.90" y="792.78" text-anchor="end">0</text>
<text x="33.8" y="736.0" text-anchor="middle" transform="rotate(-90 33.8 736.0)">Flux [SFU]</text>
</g>
<text x="244.20" y="676.17" font-size="16.667" text-anchor="middle">NoRP 17GHz Stokes-I</text>
</g>
<g id="ax41">
<clipPath id="cp41"><rect x="472.5" y="684.5" width="329.0" height="103"/></clipPath>
<g clip-path="url(#cp41)"><defs><linearGradient id="g17" x1="0" y1="0" x2="0" y2="1"><stop offset="0" stop-color="#ffa500" stop-opacity="0"/><stop offset="0.047" stop-color="#ffa500" stop-opacity="0.07"/><stop offset="0.112" stop-color="#ffa500" stop-opacity="0.35"/><stop offset="0.17" stop-color="#ffa500" stop-opacity="0.85"/><stop offset="0.2" stop-color="#ffa500" stop-opacity="1"/><stop offset="0.812" stop-color="#ffa500" stop-opacity="1"/><stop offset="0.841" stop-color="#ffa500" stop-opacity="0.85"/><stop offset="0.894" stop-color="#ffa500" stop-opacity="0.35"/><stop offset="0.953" stop-color="#ffa500" stop-opacity="0.07"/><stop offset="1" stop-color="#ffa500" stop-opacity="0"/></linearGradient></defs><rect x="489.6" y="693" width="294.2" height="85" fill="url(#g17)"/><rect x="486" y="754" width="5" height="3" fill="#ffa500"/><rect x="782" y="754" width="6" height="3" fill="#ffa500"/><path d="M637.2 700.4l1.1 1.4l-1.1 1.4l-1.1-1.4zM493.8 699.8l1.1 1.4l-1.1 1.4l-1.1-1.4zM745.4 775.2l1.1 1.4l-1.1 1.4l-1.1-1.4zM643.3 770.6l1.1 1.4l-1.1 1.4l-1.1-1.4zM605.9 773.5l1.1 1.4l-1.1 1.4l-1.1-1.4zM586 773.4l1.1 1.4l-1.1 1.4l-1.1-1.4zM640.4 771.3l1.1 1.4l-1.1 1.4l-1.1-1.4zM676.9 770.7l1.1 1.4l-1.1 1.4l-1.1-1.4zM537.2 702.3l1.1 1.4l-1.1 1.4l-1.1-1.4zM633.4 701.5l1.1 1.4l-1.1 1.4l-1.1-1.4zM748.1 770.1l1.1 1.4l-1.1 1.4l-1.1-1.4zM721.3 696.5l1.1 1.4l-1.1 1.4l-1.1-1.4zM653 702l1.1 1.4l-1.1 1.4l-1.1-1.4zM780.6 698.7l1.1 1.4l-1.1 1.4l-1.1-1.4zM503.2 776.2l1.1 1.4l-1.1 1.4l-1.1-1.4zM744.3 768.5l1.1 1.4l-1.1 1.4l-1.1-1.4zM757.8 769.7l1.1 1.4l-1.1 1.4l-1.1-1.4zM694.4 774.4l1.1 1.4l-1.1 1.4l-1.1-1.4zM698.6 694.1l1.1 1.4l-1.1 1.4l-1.1-1.4zM547.1 699.4l1.1 1.4l-1.1 1.4l-1.1-1.4zM608 766.9l1.1 1.4l-1.1 1.4l-1.1-1.4zM688.3 767.9l1.1 1.4l-1.1 1.4l-1.1-1.4zM696.9 695.5l1.1 1.4l-1.1 1.4l-1.1-1.4zM694.4 770.7l1.1 1.4l-1.1 1.4l-1.1-1.4zM575.4 697.4l1.1 1.4l-1.1 1.4l-1.1-1.4zM749.9 771.9l1.1 1.4l-1.1 1.4l-1.1-1.4zM746.4 697.2l1.1 1.4l-1.1 1.4l-1.1-1.4zM552.8 769.7l1.1 1.4l-1.1 1.4l-1.1-1.4zM675.9 698.8l1.1 1.4l-1.1 1.4l-1.1-1.4zM659.5 774.9l1.1 1.4l-1.1 1.4l-1.1-1.4zM615.4 769.4l1.1 1.4l-1.1 1.4l-1.1-1.4zM583.3 701.5l1.1 1.4l-1.1 1.4l-1.1-1.4zM775.7 699.1l1.1 1.4l-1.1 1.4l-1.1-1.4zM606.4 772.5l1.1 1.4l-1.1 1.4l-1.1-1.4zM495.9 766.9l1.1 1.4l-1.1 1.4l-1.1-1.4zM517.1 769.4l1.1 1.4l-1.1 1.4l-1.1-1.4zM625.5 767.6l1.1 1.4l-1.1 1.4l-1.1-1.4zM579.5 775.4l1.1 1.4l-1.1 1.4l-1.1-1.4zM679.7 700.6l1.1 1.4l-1.1 1.4l-1.1-1.4zM523.4 770.3l1.1 1.4l-1.1 1.4l-1.1-1.4zM588.7 701.7l1.1 1.4l-1.1 1.4l-1.1-1.4zM704.9 768.8l1.1 1.4l-1.1 1.4l-1.1-1.4zM711.9 698.3l1.1 1.4l-1.1 1.4l-1.1-1.4zM738.6 770.9l1.1 1.4l-1.1 1.4l-1.1-1.4zM684.6 701.2l1.1 1.4l-1.1 1.4l-1.1-1.4zM639 774.2l1.1 1.4l-1.1 1.4l-1.1-1.4zM497.8 771.1l1.1 1.4l-1.1 1.4l-1.1-1.4zM667.5 696.3l1.1 1.4l-1.1 1.4l-1.1-1.4zM759.3 769.6l1.1 1.4l-1.1 1.4l-1.1-1.4zM764.4 702.4l1.1 1.4l-1.1 1.4l-1.1-1.4zM648.2 766.7l1.1 1.4l-1.1 1.4l-1.1-1.4zM512.1 768.6l1.1 1.4l-1.1 1.4l-1.1-1.4zM770.2 769.2l1.1 1.4l-1.1 1.4l-1.1-1.4zM562.6 772.3l1.1 1.4l-1.1 1.4l-1.1-1.4zM609.3 699.1l1.1 1.4l-1.1 1.4l-1.1-1.4zM679.4 770.3l1.1 1.4l-1.1 1.4l-1.1-1.4zM730.4 773.2l1.1 1.4l-1.1 1.4l-1.1-1.4zM534.5 766.6l1.1 1.4l-1.1 1.4l-1.1-1.4zM551.8 771.8l1.1 1.4l-1.1 1.4l-1.1-1.4zM501.7 693.8l1.1 1.4l-1.1 1.4l-1.1-1.4zM567.6 702.1l1.1 1.4l-1.1 1.4l-1.1-1.4zM706.1 700.7l1.1 1.4l-1.1 1.4l-1.1-1.4zM513.7 700.6l1.1 1.4l-1.1 1.4l-1.1-1.4zM669 702.1l1.1 1.4l-1.1 1.4l-1.1-1.4zM597.3 770l1.1 1.4l-1.1 1.4l-1.1-1.4zM782.5 696.3l1.1 1.4l-1.1 1.4l-1.1-1.4zM666.6 700.5l1.1 1.4l-1.1 1.4l-1.1-1.4zM732.6 701.7l1.1 1.4l-1.1 1.4l-1.1-1.4zM705.4 689.4l1.1 1.4l-1.1 1.4l-1.1-1.4zM580 695.7l1.1 1.4l-1.1 1.4l-1.1-1.4zM532.7 702.6l1.1 1.4l-1.1 1.4l-1.1-1.4zM503.5 702.6l1.1 1.4l-1.1 1.4l-1.1-1.4zM595.8 690.6l1.1 1.4l-1.1 1.4l-1.1-1.4zM712.7 770.8l1.1 1.4l-1.1 1.4l-1.1-1.4zM633.3 770.4l1.1 1.4l-1.1 1.4l-1.1-1.4zM686.1 702.5l1.1 1.4l-1.1 1.4l-1.1-1.4zM775.7 769.4l1.1 1.4l-1.1 1.4l-1.1-1.4zM564.9 770.1l1.1 1.4l-1.1 1.4l-1.1-1.4zM561.7 702.4l1.1 1.4l-1.1 1.4l-1.1-1.4zM647.5 769l1.1 1.4l-1.1 1.4l-1.1-1.4zM658.3 696.2l1.1 1.4l-1.1 1.4l-1.1-1.4zM577.6 701.8l1.1 1.4l-1.1 1.4l-1.1-1.4zM548.4 767.9l1.1 1.4l-1.1 1.4l-1.1-1.4zM779 696.9l1.1 1.4l-1.1 1.4l-1.1-1.4zM679.7 767.9l1.1 1.4l-1.1 1.4l-1.1-1.4zM505.9 699.8l1.1 1.4l-1.1 1.4l-1.1-1.4zM702.1 699l1.1 1.4l-1.1 1.4l-1.1-1.4zM674.4 702.1l1.1 1.4l-1.1 1.4l-1.1-1.4zM653.3 774.1l1.1 1.4l-1.1 1.4l-1.1-1.4zM574.7 701.3l1.1 1.4l-1.1 1.4l-1.1-1.4zM767.3 699.4l1.1 1.4l-1.1 1.4l-1.1-1.4zM711.4 698.5l1.1 1.4l-1.1 1.4l-1.1-1.4zM654.5 769.6l1.1 1.4l-1.1 1.4l-1.1-1.4zM620.3 768.4l1.1 1.4l-1.1 1.4l-1.1-1.4zM761.6 690.7l1.1 1.4l-1.1 1.4l-1.1-1.4zM709.9 700.4l1.1 1.4l-1.1 1.4l-1.1-1.4zM644 771.2l1.1 1.4l-1.1 1.4l-1.1-1.4zM687.9 769l1.1 1.4l-1.1 1.4l-1.1-1.4zM609.4 767.4l1.1 1.4l-1.1 1.4l-1.1-1.4zM506.6 701.3l1.1 1.4l-1.1 1.4l-1.1-1.4zM743.2 699.7l1.1 1.4l-1.1 1.4l-1.1-1.4zM744.6 695.4l1.1 1.4l-1.1 1.4l-1.1-1.4zM602.2 701.2l1.1 1.4l-1.1 1.4l-1.1-1.4zM553.2 767.5l1.1 1.4l-1.1 1.4l-1.1-1.4zM680 774.1l1.1 1.4l-1.1 1.4l-1.1-1.4zM601.6 769.5l1.1 1.4l-1.1 1.4l-1.1-1.4zM569.3 698.8l1.1 1.4l-1.1 1.4l-1.1-1.4zM669.7 771.5l1.1 1.4l-1.1 1.4l-1.1-1.4zM516.5 778.7l1.1 1.4l-1.1 1.4l-1.1-1.4zM576.9 701.7l1.1 1.4l-1.1 1.4l-1.1-1.4zM770.4 701.5l1.1 1.4l-1.1 1.4l-1.1-1.4zM654.4 768.7l1.1 1.4l-1.1 1.4l-1.1-1.4zM628.3 699.3l1.1 1.4l-1.1 1.4l-1.1-1.4zM675.2 767.5l1.1 1.4l-1.1 1.4l-1.1-1.4zM724.4 700.4l1.1 1.4l-1.1 1.4l-1.1-1.4zM743.9 700.1l1.1 1.4l-1.1 1.4l-1.1-1.4zM633.4 768.9l1.1 1.4l-1.1 1.4l-1.1-1.4zM576.9 696.9l1.1 1.4l-1.1 1.4l-1.1-1.4zM508.9 767.2l1.1 1.4l-1.1 1.4l-1.1-1.4zM753.5 768.7l1.1 1.4l-1.1 1.4l-1.1-1.4zM741.8 696.1l1.1 1.4l-1.1 1.4l-1.1-1.4zM565.9 767.4l1.1 1.4l-1.1 1.4l-1.1-1.4zM707.1 770.8l1.1 1.4l-1.1 1.4l-1.1-1.4zM647.9 769.2l1.1 1.4l-1.1 1.4l-1.1-1.4zM689.6 693.4l1.1 1.4l-1.1 1.4l-1.1-1.4zM536.9 702.2l1.1 1.4l-1.1 1.4l-1.1-1.4zM583.9 768.1l1.1 1.4l-1.1 1.4l-1.1-1.4zM507.7 697.5l1.1 1.4l-1.1 1.4l-1.1-1.4zM558.2 698.7l1.1 1.4l-1.1 1.4l-1.1-1.4zM710.4 774.6l1.1 1.4l-1.1 1.4l-1.1-1.4zM605.5 769.4l1.1 1.4l-1.1 1.4l-1.1-1.4zM587.4 773.5l1.1 1.4l-1.1 1.4l-1.1-1.4zM729.6 767l1.1 1.4l-1.1 1.4l-1.1-1.4zM706.9 770.5l1.1 1.4l-1.1 1.4l-1.1-1.4zM668 768.3l1.1 1.4l-1.1 1.4l-1.1-1.4zM616.4 780.4l1.1 1.4l-1.1 1.4l-1.1-1.4zM663.5 770.2l1.1 1.4l-1.1 1.4l-1.1-1.4zM585.5 771.8l1.1 1.4l-1.1 1.4l-1.1-1.4zM649.6 697.7l1.1 1.4l-1.1 1.4l-1.1-1.4zM553.4 692.2l1.1 1.4l-1.1 1.4l-1.1-1.4zM518.8 695.2l1.1 1.4l-1.1 1.4l-1.1-1.4zM585.6 698.5l1.1 1.4l-1.1 1.4l-1.1-1.4zM523.7 702.1l1.1 1.4l-1.1 1.4l-1.1-1.4zM615.5 700.5l1.1 1.4l-1.1 1.4l-1.1-1.4zM649.8 767.9l1.1 1.4l-1.1 1.4l-1.1-1.4zM744.8 769.5l1.1 1.4l-1.1 1.4l-1.1-1.4zM760.3 773.1l1.1 1.4l-1.1 1.4l-1.1-1.4zM594.9 767.5l1.1 1.4l-1.1 1.4l-1.1-1.4zM601.5 697.8l1.1 1.4l-1.1 1.4l-1.1-1.4zM643.1 769.6l1.1 1.4l-1.1 1.4l-1.1-1.4zM653.2 701.7l1.1 1.4l-1.1 1.4l-1.1-1.4zM764.2 770.3l1.1 1.4l-1.1 1.4l-1.1-1.4zM704.6 700l1.1 1.4l-1.1 1.4l-1.1-1.4zM514 773.2l1.1 1.4l-1.1 1.4l-1.1-1.4zM749.2 700.9l1.1 1.4l-1.1 1.4l-1.1-1.4zM769.8 697.4l1.1 1.4l-1.1 1.4l-1.1-1.4zM706.1 774.5l1.1 1.4l-1.1 1.4l-1.1-1.4zM728.2 770l1.1 1.4l-1.1 1.4l-1.1-1.4zM549.8 697.4l1.1 1.4l-1.1 1.4l-1.1-1.4zM690.3 701l1.1 1.4l-1.1 1.4l-1.1-1.4zM600.3 767.1l1.1 1.4l-1.1 1.4l-1.1-1.4zM592.1 700.6l1.1 1.4l-1.1 1.4l-1.1-1.4zM651 776.8l1.1 1.4l-1.1 1.4l-1.1-1.4zM728.4 702.3l1.1 1.4l-1.1 1.4l-1.1-1.4zM715.3 768.5l1.1 1.4l-1.1 1.4l-1.1-1.4zM757.9 767.2l1.1 1.4l-1.1 1.4l-1.1-1.4zM568.8 769.9l1.1 1.4l-1.1 1.4l-1.1-1.4zM724.1 702.3l1.1 1.4l-1.1 1.4l-1.1-1.4zM736.8 770.2l1.1 1.4l-1.1 1.4l-1.1-1.4zM668.7 770.4l1.1 1.4l-1.1 1.4l-1.1-1.4zM534.9 696.4l1.1 1.4l-1.1 1.4l-1.1-1.4zM716.9 701.4l1.1 1.4l-1.1 1.4l-1.1-1.4zM603.6 701.9l1.1 1.4l-1.1 1.4l-1.1-1.4zM685.7 694.2l1.1 1.4l-1.1 1.4l-1.1-1.4zM601.8 698.7l1.1 1.4l-1.1 1.4l-1.1-1.4zM774.9 695.4l1.1 1.4l-1.1 1.4l-1.1-1.4zM729.6 692.7l1.1 1.4l-1.1 1.4l-1.1-1.4zM571 767.6l1.1 1.4l-1.1 1.4l-1.1-1.4zM493.9 770.7l1.1 1.4l-1.1 1.4l-1.1-1.4zM726.3 691.5l1.1 1.4l-1.1 1.4l-1.1-1.4zM692.8 773.5l1.1 1.4l-1.1 1.4l-1.1-1.4zM641.3 768.7l1.1 1.4l-1.1 1.4l-1.1-1.4zM760.1 767.9l1.1 1.4l-1.1 1.4l-1.1-1.4zM583.7 698.8l1.1 1.4l-1.1 1.4l-1.1-1.4zM562 767.3l1.1 1.4l-1.1 1.4l-1.1-1.4zM547 770.3l1.1 1.4l-1.1 1.4l-1.1-1.4zM585.8 700.3l1.1 1.4l-1.1 1.4l-1.1-1.4zM728.8 767.6l1.1 1.4l-1.1 1.4l-1.1-1.4zM604.1 769.2l1.1 1.4l-1.1 1.4l-1.1-1.4zM591.4 700.8l1.1 1.4l-1.1 1.4l-1.1-1.4zM711.3 699.7l1.1 1.4l-1.1 1.4l-1.1-1.4zM697.7 767.3l1.1 1.4l-1.1 1.4l-1.1-1.4zM623.7 772.4l1.1 1.4l-1.1 1.4l-1.1-1.4zM495.5 769.3l1.1 1.4l-1.1 1.4l-1.1-1.4zM682.1 769.3l1.1 1.4l-1.1 1.4l-1.1-1.4zM578.1 691.4l1.1 1.4l-1.1 1.4l-1.1-1.4zM616.8 774l1.1 1.4l-1.1 1.4l-1.1-1.4zM774.9 698.5l1.1 1.4l-1.1 1.4l-1.1-1.4zM556.6 772.7l1.1 1.4l-1.1 1.4l-1.1-1.4zM592.8 698.3l1.1 1.4l-1.1 1.4l-1.1-1.4zM509.2 770.6l1.1 1.4l-1.1 1.4l-1.1-1.4zM710.9 772.4l1.1 1.4l-1.1 1.4l-1.1-1.4zM685.5 776.9l1.1 1.4l-1.1 1.4l-1.1-1.4zM610.3 772.3l1.1 1.4l-1.1 1.4l-1.1-1.4zM504.5 773.7l1.1 1.4l-1.1 1.4l-1.1-1.4zM575.5 769l1.1 1.4l-1.1 1.4l-1.1-1.4zM663.6 772.8l1.1 1.4l-1.1 1.4l-1.1-1.4zM700.4 692.2l1.1 1.4l-1.1 1.4l-1.1-1.4zM605.1 766.7l1.1 1.4l-1.1 1.4l-1.1-1.4zM723 767.5l1.1 1.4l-1.1 1.4l-1.1-1.4zM583.3 698.5l1.1 1.4l-1.1 1.4l-1.1-1.4zM680.8 699.1l1.1 1.4l-1.1 1.4l-1.1-1.4zM662.1 702.1l1.1 1.4l-1.1 1.4l-1.1-1.4zM614.7 770.7l1.1 1.4l-1.1 1.4l-1.1-1.4zM597.4 772.5l1.1 1.4l-1.1 1.4l-1.1-1.4zM628.2 768.1l1.1 1.4l-1.1 1.4l-1.1-1.4zM528.3 773.3l1.1 1.4l-1.1 1.4l-1.1-1.4zM758 770.1l1.1 1.4l-1.1 1.4l-1.1-1.4zM726.2 770.1l1.1 1.4l-1.1 1.4l-1.1-1.4zM641.7 767.4l1.1 1.4l-1.1 1.4l-1.1-1.4zM514 770.8l1.1 1.4l-1.1 1.4l-1.1-1.4zM598.4 773.1l1.1 1.4l-1.1 1.4l-1.1-1.4zM778.5 769.1l1.1 1.4l-1.1 1.4l-1.1-1.4zM555.2 767.6l1.1 1.4l-1.1 1.4l-1.1-1.4zM748.2 771.1l1.1 1.4l-1.1 1.4l-1.1-1.4zM648.8 699l1.1 1.4l-1.1 1.4l-1.1-1.4zM581.8 694.6l1.1 1.4l-1.1 1.4l-1.1-1.4zM642 772.6l1.1 1.4l-1.1 1.4l-1.1-1.4zM584.9 701.7l1.1 1.4l-1.1 1.4l-1.1-1.4zM526.7 698.7l1.1 1.4l-1.1 1.4l-1.1-1.4zM707.8 698.7l1.1 1.4l-1.1 1.4l-1.1-1.4zM720.8 699.1l1.1 1.4l-1.1 1.4l-1.1-1.4zM633.4 772.1l1.1 1.4l-1.1 1.4l-1.1-1.4zM536.9 772.9l1.1 1.4l-1.1 1.4l-1.1-1.4zM759.9 699.3l1.1 1.4l-1.1 1.4l-1.1-1.4zM653.3 766.7l1.1 1.4l-1.1 1.4l-1.1-1.4zM679.7 701.7l1.1 1.4l-1.1 1.4l-1.1-1.4zM732.9 700.4l1.1 1.4l-1.1 1.4l-1.1-1.4zM720.6 701.8l1.1 1.4l-1.1 1.4l-1.1-1.4zM708.6 772.6l1.1 1.4l-1.1 1.4l-1.1-1.4zM711.3 767.2l1.1 1.4l-1.1 1.4l-1.1-1.4zM593.9 767.3l1.1 1.4l-1.1 1.4l-1.1-1.4zM600.2 767.2l1.1 1.4l-1.1 1.4l-1.1-1.4zM519.8 699.7l1.1 1.4l-1.1 1.4l-1.1-1.4zM645.4 700.6l1.1 1.4l-1.1 1.4l-1.1-1.4zM667.2 702.1l1.1 1.4l-1.1 1.4l-1.1-1.4zM601.7 702.2l1.1 1.4l-1.1 1.4l-1.1-1.4zM730.1 693l1.1 1.4l-1.1 1.4l-1.1-1.4zM583.9 775l1.1 1.4l-1.1 1.4l-1.1-1.4zM593.1 772.2l1.1 1.4l-1.1 1.4l-1.1-1.4zM624.6 697.4l1.1 1.4l-1.1 1.4l-1.1-1.4zM538 699.2l1.1 1.4l-1.1 1.4l-1.1-1.4zM674.2 698l1.1 1.4l-1.1 1.4l-1.1-1.4zM748 688.7l1.1 1.4l-1.1 1.4l-1.1-1.4zM560 766.8l1.1 1.4l-1.1 1.4l-1.1-1.4zM522.6 700.3l1.1 1.4l-1.1 1.4l-1.1-1.4zM691.9 770.2l1.1 1.4l-1.1 1.4l-1.1-1.4zM537.1 695.9l1.1 1.4l-1.1 1.4l-1.1-1.4zM710.1 770.2l1.1 1.4l-1.1 1.4l-1.1-1.4zM553.4 702.6l1.1 1.4l-1.1 1.4l-1.1-1.4zM651.6 694.5l1.1 1.4l-1.1 1.4l-1.1-1.4zM716.5 772l1.1 1.4l-1.1 1.4l-1.1-1.4zM668.4 694.4l1.1 1.4l-1.1 1.4l-1.1-1.4zM547.5 771.3l1.1 1.4l-1.1 1.4l-1.1-1.4zM609.7 698.4l1.1 1.4l-1.1 1.4l-1.1-1.4zM565.8 699.6l1.1 1.4l-1.1 1.4l-1.1-1.4zM500.5 768.5l1.1 1.4l-1.1 1.4l-1.1-1.4zM751.2 768.6l1.1 1.4l-1.1 1.4l-1.1-1.4zM504.5 700.3l1.1 1.4l-1.1 1.4l-1.1-1.4zM727.9 769.3l1.1 1.4l-1.1 1.4l-1.1-1.4zM687.1 701.6l1.1 1.4l-1.1 1.4l-1.1-1.4zM747.8 702.3l1.1 1.4l-1.1 1.4l-1.1-1.4zM673.9 767.7l1.1 1.4l-1.1 1.4l-1.1-1.4zM732.3 697.2l1.1 1.4l-1.1 1.4l-1.1-1.4zM533.2 772.7l1.1 1.4l-1.1 1.4l-1.1-1.4zM618.6 702.5l1.1 1.4l-1.1 1.4l-1.1-1.4zM684.6 690l1.1 1.4l-1.1 1.4l-1.1-1.4zM705.7 768.1l1.1 1.4l-1.1 1.4l-1.1-1.4zM698.5 770.4l1.1 1.4l-1.1 1.4l-1.1-1.4zM560.4 770.8l1.1 1.4l-1.1 1.4l-1.1-1.4zM529.9 774.1l1.1 1.4l-1.1 1.4l-1.1-1.4zM756.4 692.5l1.1 1.4l-1.1 1.4l-1.1-1.4zM687 766.6l1.1 1.4l-1.1 1.4l-1.1-1.4zM645.3 767.5l1.1 1.4l-1.1 1.4l-1.1-1.4zM581.2 769.5l1.1 1.4l-1.1 1.4l-1.1-1.4zM560.5 768.4l1.1 1.4l-1.1 1.4l-1.1-1.4zM743 767.9l1.1 1.4l-1.1 1.4l-1.1-1.4zM773.6 695.3l1.1 1.4l-1.1 1.4l-1.1-1.4zM750.5 767.4l1.1 1.4l-1.1 1.4l-1.1-1.4zM636.9 701.4l1.1 1.4l-1.1 1.4l-1.1-1.4zM691.5 696.6l1.1 1.4l-1.1 1.4l-1.1-1.4zM737.8 698.1l1.1 1.4l-1.1 1.4l-1.1-1.4zM671.3 771.3l1.1 1.4l-1.1 1.4l-1.1-1.4zM659.3 700.3l1.1 1.4l-1.1 1.4l-1.1-1.4zM695 768.3l1.1 1.4l-1.1 1.4l-1.1-1.4zM664.6 767.3l1.1 1.4l-1.1 1.4l-1.1-1.4zM768.8 770.2l1.1 1.4l-1.1 1.4l-1.1-1.4zM748.2 699.6l1.1 1.4l-1.1 1.4l-1.1-1.4zM714.1 771.4l1.1 1.4l-1.1 1.4l-1.1-1.4zM748.1 769.8l1.1 1.4l-1.1 1.4l-1.1-1.4zM540.9 696.7l1.1 1.4l-1.1 1.4l-1.1-1.4zM760.6 775.2l1.1 1.4l-1.1 1.4l-1.1-1.4zM511.4 702.5l1.1 1.4l-1.1 1.4l-1.1-1.4zM671.7 767.6l1.1 1.4l-1.1 1.4l-1.1-1.4zM654.6 768.6l1.1 1.4l-1.1 1.4l-1.1-1.4zM701.9 766.8l1.1 1.4l-1.1 1.4l-1.1-1.4zM542.8 770.3l1.1 1.4l-1.1 1.4l-1.1-1.4zM575.8 773.6l1.1 1.4l-1.1 1.4l-1.1-1.4zM654.9 768.3l1.1 1.4l-1.1 1.4l-1.1-1.4zM613.6 699.4l1.1 1.4l-1.1 1.4l-1.1-1.4zM754.3 699.8l1.1 1.4l-1.1 1.4l-1.1-1.4zM500.2 771.1l1.1 1.4l-1.1 1.4l-1.1-1.4zM529.6 771.7l1.1 1.4l-1.1 1.4l-1.1-1.4zM500 694l1.1 1.4l-1.1 1.4l-1.1-1.4zM714.2 699.2l1.1 1.4l-1.1 1.4l-1.1-1.4zM655.8 696.3l1.1 1.4l-1.1 1.4l-1.1-1.4zM578.6 772.9l1.1 1.4l-1.1 1.4l-1.1-1.4zM539.3 767l1.1 1.4l-1.1 1.4l-1.1-1.4zM594.3 697.9l1.1 1.4l-1.1 1.4l-1.1-1.4zM585.8 767.1l1.1 1.4l-1.1 1.4l-1.1-1.4zM579.2 769.2l1.1 1.4l-1.1 1.4l-1.1-1.4zM534.9 698.8l1.1 1.4l-1.1 1.4l-1.1-1.4zM657.9 774.2l1.1 1.4l-1.1 1.4l-1.1-1.4zM595.4 767.8l1.1 1.4l-1.1 1.4l-1.1-1.4zM754.3 770.6l1.1 1.4l-1.1 1.4l-1.1-1.4zM515.4 692.1l1.1 1.4l-1.1 1.4l-1.1-1.4zM738.2 701.9l1.1 1.4l-1.1 1.4l-1.1-1.4zM765.6 768.7l1.1 1.4l-1.1 1.4l-1.1-1.4zM684.1 774.8l1.1 1.4l-1.1 1.4l-1.1-1.4zM501.9 775.8l1.1 1.4l-1.1 1.4l-1.1-1.4zM584.4 771.1l1.1 1.4l-1.1 1.4l-1.1-1.4zM567.9 770.5l1.1 1.4l-1.1 1.4l-1.1-1.4zM540.9 770.3l1.1 1.4l-1.1 1.4l-1.1-1.4zM505.7 770.2l1.1 1.4l-1.1 1.4l-1.1-1.4zM582.9 697.8l1.1 1.4l-1.1 1.4l-1.1-1.4zM706.5 700.3l1.1 1.4l-1.1 1.4l-1.1-1.4zM503.7 702l1.1 1.4l-1.1 1.4l-1.1-1.4zM680.7 701.3l1.1 1.4l-1.1 1.4l-1.1-1.4zM649.8 770l1.1 1.4l-1.1 1.4l-1.1-1.4zM624.9 769.2l1.1 1.4l-1.1 1.4l-1.1-1.4zM597.7 770.6l1.1 1.4l-1.1 1.4l-1.1-1.4zM525 769.5l1.1 1.4l-1.1 1.4l-1.1-1.4zM770.3 699l1.1 1.4l-1.1 1.4l-1.1-1.4zM608.3 776.2l1.1 1.4l-1.1 1.4l-1.1-1.4zM504.8 767.2l1.1 1.4l-1.1 1.4l-1.1-1.4zM513.6 701.1l1.1 1.4l-1.1 1.4l-1.1-1.4zM745.2 699.1l1.1 1.4l-1.1 1.4l-1.1-1.4zM683.5 697.7l1.1 1.4l-1.1 1.4l-1.1-1.4zM551.6 770.4l1.1 1.4l-1.1 1.4l-1.1-1.4zM740.8 767.7l1.1 1.4l-1.1 1.4l-1.1-1.4zM596.1 775.1l1.1 1.4l-1.1 1.4l-1.1-1.4zM639.3 692.8l1.1 1.4l-1.1 1.4l-1.1-1.4zM773.2 698.7l1.1 1.4l-1.1 1.4l-1.1-1.4zM609.4 700.7l1.1 1.4l-1.1 1.4l-1.1-1.4zM718.7 700.5l1.1 1.4l-1.1 1.4l-1.1-1.4zM647.1 773l1.1 1.4l-1.1 1.4l-1.1-1.4zM625.3 700.2l1.1 1.4l-1.1 1.4l-1.1-1.4zM757 701.9l1.1 1.4l-1.1 1.4l-1.1-1.4zM548 768.5l1.1 1.4l-1.1 1.4l-1.1-1.4zM776.5 699l1.1 1.4l-1.1 1.4l-1.1-1.4zM606 700.1l1.1 1.4l-1.1 1.4l-1.1-1.4zM668.5 702l1.1 1.4l-1.1 1.4l-1.1-1.4zM686.8 770.8l1.1 1.4l-1.1 1.4l-1.1-1.4zM621.8 702.5l1.1 1.4l-1.1 1.4l-1.1-1.4zM618.3 694.6l1.1 1.4l-1.1 1.4l-1.1-1.4zM508 695.2l1.1 1.4l-1.1 1.4l-1.1-1.4zM505.4 769.9l1.1 1.4l-1.1 1.4l-1.1-1.4zM665.7 700.6l1.1 1.4l-1.1 1.4l-1.1-1.4zM555.8 770.5l1.1 1.4l-1.1 1.4l-1.1-1.4zM576.3 699l1.1 1.4l-1.1 1.4l-1.1-1.4zM716 700.9l1.1 1.4l-1.1 1.4l-1.1-1.4zM712.3 770.2l1.1 1.4l-1.1 1.4l-1.1-1.4zM697.4 775.8l1.1 1.4l-1.1 1.4l-1.1-1.4zM539.6 769.1l1.1 1.4l-1.1 1.4l-1.1-1.4zM630.2 697.3l1.1 1.4l-1.1 1.4l-1.1-1.4zM761.6 697.3l1.1 1.4l-1.1 1.4l-1.1-1.4zM585.8 769.6l1.1 1.4l-1.1 1.4l-1.1-1.4zM504 698.5l1.1 1.4l-1.1 1.4l-1.1-1.4zM557.1 776.6l1.1 1.4l-1.1 1.4l-1.1-1.4zM692.4 696.9l1.1 1.4l-1.1 1.4l-1.1-1.4zM622.9 772.6l1.1 1.4l-1.1 1.4l-1.1-1.4zM639.6 775.4l1.1 1.4l-1.1 1.4l-1.1-1.4zM583.9 697.4l1.1 1.4l-1.1 1.4l-1.1-1.4zM736.8 699.3l1.1 1.4l-1.1 1.4l-1.1-1.4zM674.2 696l1.1 1.4l-1.1 1.4l-1.1-1.4zM720.7 689.1l1.1 1.4l-1.1 1.4l-1.1-1.4zM626.2 768.6l1.1 1.4l-1.1 1.4l-1.1-1.4zM590.3 770.8l1.1 1.4l-1.1 1.4l-1.1-1.4zM512.6 772.6l1.1 1.4l-1.1 1.4l-1.1-1.4zM738.4 700l1.1 1.4l-1.1 1.4l-1.1-1.4zM694 692.9l1.1 1.4l-1.1 1.4l-1.1-1.4zM705 771.4l1.1 1.4l-1.1 1.4l-1.1-1.4zM522.6 770.7l1.1 1.4l-1.1 1.4l-1.1-1.4zM648.6 767.5l1.1 1.4l-1.1 1.4l-1.1-1.4zM551.1 699.3l1.1 1.4l-1.1 1.4l-1.1-1.4zM750.5 701.3l1.1 1.4l-1.1 1.4l-1.1-1.4zM532.4 768.2l1.1 1.4l-1.1 1.4l-1.1-1.4zM626.5 700.9l1.1 1.4l-1.1 1.4l-1.1-1.4zM774.1 696.6l1.1 1.4l-1.1 1.4l-1.1-1.4zM747.4 695.9l1.1 1.4l-1.1 1.4l-1.1-1.4zM579.1 697.7l1.1 1.4l-1.1 1.4l-1.1-1.4zM743.7 697.7l1.1 1.4l-1.1 1.4l-1.1-1.4zM706.5 771.2l1.1 1.4l-1.1 1.4l-1.1-1.4zM783 769l1.1 1.4l-1.1 1.4l-1.1-1.4zM505.3 694.1l1.1 1.4l-1.1 1.4l-1.1-1.4zM515.5 701l1.1 1.4l-1.1 1.4l-1.1-1.4zM687.5 769.2l1.1 1.4l-1.1 1.4l-1.1-1.4zM506.3 767.3l1.1 1.4l-1.1 1.4l-1.1-1.4zM752.9 769.2l1.1 1.4l-1.1 1.4l-1.1-1.4zM593.5 771.2l1.1 1.4l-1.1 1.4l-1.1-1.4zM503.3 767.5l1.1 1.4l-1.1 1.4l-1.1-1.4zM646.3 702.5l1.1 1.4l-1.1 1.4l-1.1-1.4zM515.4 774.4l1.1 1.4l-1.1 1.4l-1.1-1.4zM629 699.1l1.1 1.4l-1.1 1.4l-1.1-1.4zM732.6 702.2l1.1 1.4l-1.1 1.4l-1.1-1.4zM727.1 768.6l1.1 1.4l-1.1 1.4l-1.1-1.4zM603 694.6l1.1 1.4l-1.1 1.4l-1.1-1.4zM768.8 767.7l1.1 1.4l-1.1 1.4l-1.1-1.4zM672.3 771.7l1.1 1.4l-1.1 1.4l-1.1-1.4zM625 769.6l1.1 1.4l-1.1 1.4l-1.1-1.4z" fill="#ffa500" fill-opacity="0.12" stroke="#ffa500" stroke-opacity="0.22" stroke-width="0.5"/><rect x="497.9" y="696" width="0.8" height="18" fill="#fff" fill-opacity="0.3"/><rect x="497.9" y="758" width="0.8" height="16" fill="#fff" fill-opacity="0.3"/><rect x="539" y="696" width="0.8" height="18" fill="#fff" fill-opacity="0.3"/><rect x="539" y="758" width="0.8" height="16" fill="#fff" fill-opacity="0.3"/><rect x="590.8" y="696" width="0.8" height="18" fill="#fff" fill-opacity="0.3"/><rect x="590.8" y="758" width="0.8" height="16" fill="#fff" fill-opacity="0.3"/><rect x="642.9" y="696" width="0.8" height="18" fill="#fff" fill-opacity="0.3"/><rect x="642.9" y="758" width="0.8" height="16" fill="#fff" fill-opacity="0.3"/><rect x="695.3" y="696" width="0.8" height="18" fill="#fff" fill-opacity="0.3"/><rect x="695.3" y="758" width="0.8" height="16" fill="#fff" fill-opacity="0.3"/><rect x="747.1" y="696" width="0.8" height="18" fill="#fff" fill-opacity="0.3"/><rect x="747.1" y="758" width="0.8" height="16" fill="#fff" fill-opacity="0.3"/></g>
<path d="M513.5 787.5v4.86M565.5 787.5v4.86M617.5 787.5v4.86M669.5 787.5v4.86M721.5 787.5v4.86M773.5 787.5v4.86M472.5 719.5h-4.86M472.5 755.5h-4.86" stroke="#000" stroke-width="1.11" fill="none"/>
<rect x="472.5" y="684.5" width="329.0" height="103" fill="none" stroke="#000" stroke-width="1.11"/>
<g font-size="13.889">
<text x="513.26" y="807.78" text-anchor="middle">22:00</text>
<text x="565.28" y="807.78" text-anchor="middle">00:00</text>
<text x="617.29" y="807.78" text-anchor="middle">02:00</text>
<text x="669.31" y="807.78" text-anchor="middle">04:00</text>
<text x="721.33" y="807.78" text-anchor="middle">06:00</text>
<text x="773.34" y="807.78" text-anchor="middle">08:00</text>
<text x="461.90" y="724.78" text-anchor="end">25</text>
<text x="461.90" y="760.78" text-anchor="end">0</text>
</g>
<text x="636.20" y="676.17" font-size="16.667" text-anchor="middle">NoRP 17GHz Stokes-V</text>
</g>
<g id="ax50">
<clipPath id="cp50"><rect x="80.5" y="846.5" width="329.0" height="103"/></clipPath>
<g clip-path="url(#cp50)"><path d="M98.3 903.5 98.4 880" fill="none" stroke="#0000ff" stroke-width="2.7" stroke-linejoin="round" stroke-linecap="round"/><path d="M97.3 876.1 98.3 876.4 99.3 876.2 100.3 875.9 101.3 876 102.3 875.9 103.3 876.1 104.3 876.5 105.3 875.9 106.3 876.5 107.3 876.1 108.3 876.5 109.3 876.3 110.3 875.8 111.3 875.8 112.3 875.9 113.3 876.1 114.3 875.1 115.3 874.9 116.3 875.2 117.3 875.5 118.3 875.5 119.3 875 120.3 874.9 121.3 874.8 122.3 875.1 123.3 874.7 124.3 874.7 125.3 874.1 126.3 874.3 127.3 874.4 128.3 873.9 129.3 874.3 130.3 873.7 131.3 873.6 132.3 873.6 133.3 873.6 134.3 873.4 135.3 873.5 136.3 873.4 137.3 873.4 138.3 873.3 139.3 872.9 140.3 873.7 141.3 873.6 142.3 873.9 143.3 873.2 144.3 873.8 145.3 873 146.3 873.8 147.3 873.9 148.3 873.9 149.3 874 150.3 873.9 151.3 873.3 152.3 873.9 153.3 874.1 154.3 874.3 155.3 873.9 156.3 873.7 157.3 874.3 158.3 874.2 159.3 874.4 160.3 874.7 161.3 874.7 162.3 874.3 163.3 874.8 164.3 874.6 165.3 874.6 166.3 875 167.3 875.3 168.3 875 169.3 874.8 170.3 875 171.3 875.1 172.3 874.9 173.3 875.1 174.3 875.3 175.3 875.4 176.3 874.9 177.3 875.5 178.3 875.3 179.3 875.3 180.3 875.6 181.3 875.3 182.3 875.6 183.3 875 184.3 875.5 185.3 875 186.3 875.6 187.3 875.8 188.3 875.8 189.3 875.5 190.3 876 191.3 875.8 192.3 876 193.3 875.9 194.3 875.5 195.3 875.8 196.3 875.9 197.3 876.1 198.3 876.1 199.3 875.6 200.3 876 201.3 876 202.3 875.2 203.3 875.9 204.3 875.5 205.3 875.9 206.3 875.3 207.3 875.5 208.3 875.4 209.3 875.7 210.3 875.4 211.3 875 212.3 875.6 213.3 875.4 214.3 875.4 215.3 875.6 216.3 875.5 217.3 875.3 218.3 875.4 219.3 875.7 220.3 874.7 221.3 875.7 222.3 875.6 223.3 875.4 224.3 875.6 225.3 875.2 226.3 875.6 227.3 875.3 228.3 875.5 229.3 875.2 230.3 875 231.3 875.2 232.3 875.1 233.3 875.2 234.3 875.4 235.3 875.3 236.3 875.3 237.3 875.3 238.3 875 239.3 874.7 240.3 875.3 241.3 874.7 242.3 875.6 243.3 875.6 244.3 875.7 245.3 875.6 246.3 875.6 247.3 874.8 248.3 875 249.3 875.6 250.3 875.5 251.3 875.6 252.3 875.3 253.3 874.9 254.3 875.9 255.3 875.8 256.3 875.7 257.3 875.4 258.3 875 259.3 875.1 260.3 875.6 261.3 875.6 262.3 875.9 263.3 875.6 264.3 875.8 265.3 875.8 266.3 876 267.3 876.1 268.3 875.9 269.3 875.7 270.3 875.8 271.3 875.6 272.3 876.2 273.3 876.4 274.3 876.1 275.3 876.2 276.3 876.4 277.3 876.5 278.3 876.4 279.3 876.6 280.3 876.2 281.3 876.2 282.3 876.3 283.3 876.7 284.3 876.5 285.3 876.2 286.3 876.1 287.3 875.9 288.3 876.1 289.3 876 290.3 875.8 291.3 876 292.3 875.5 293.3 875.9 294.3 875.7 295.3 875.5 296.3 875.5 297.3 875.4 298.3 875.8 299.3 875.5 300.3 875.4 301.3 875.2 302.3 875.2 303.3 874.4 304.3 875.2 305.3 875.2 306.3 874.8 307.3 874.5 308.3 874.8 309.3 874.6 310.3 874.5 311.3 874.5 312.3 874.2 313.3 873.9 314.3 874.2 315.3 873.6 316.3 873.6 317.3 873.5 318.3 873.6 319.3 873.4 320.3 873.6 321.3 873.2 322.3 872.7 323.3 873 324.3 873.1 325.3 872.7 326.3 872.4 327.3 872.7 328.3 872.2 329.3 872.4 330.3 872.1 331.3 872.3 332.3 872.1 333.3 871.6 334.3 871.7 335.3 871.7 336.3 871.5 337.3 871.4 338.3 871.3 339.3 870.9 340.3 870.6 341.3 870.6 342.3 870.2 343.3 870.3 344.3 870.3 345.3 870 346.3 869.7 347.3 869.6 348.3 869.4 349.3 869.3 350.3 868.7 351.3 868.7 352.3 868.8 353.3 868.1 354.3 867.8 355.3 868 356.3 867.9 357.3 867.4 358.3 867.8 359.3 866.9 360.3 866.9 361.3 867.2 362.3 866.8 363.3 866.3 364.3 866.7 365.3 866.4 366.3 866.2 367.3 866.3 368.3 865.9 369.3 865.9 370.3 865.3 371.3 865.6 372.3 865 373.3 864.5 374.3 864.8 375.3 864.4 376.3 864.4 377.3 864.6 378.3 864.3 379.3 864.3 380.3 863.6 381.3 864.1 382.3 863.9 383.3 863.4 384.3 863.2 385.3 863.2 386.3 863.6 387.3 863.5 388.3 863.4 389.3 862.5 390.3 863.2 391.3 863.3 392.3 865 392.5 865.4 L392.5 869 392.3 869.8 391.3 870.7 390.3 871.5 389.3 871.6 388.3 871.7 387.3 871.4 386.3 871.6 385.3 871.5 384.3 871.6 383.3 871.5 382.3 871.7 381.3 872.3 380.3 872.2 379.3 872.5 378.3 872.6 377.3 873.3 376.3 872.6 375.3 873.3 374.3 873.5 373.3 873.2 372.3 873.5 371.3 873.6 370.3 874.3 369.3 874.1 368.3 874.5 367.3 874.5 366.3 874.7 365.3 875.5 364.3 874.9 363.3 875.3 362.3 876.2 361.3 875.6 360.3 875.7 359.3 876.1 358.3 876.1 357.3 876.3 356.3 876.3 355.3 876.5 354.3 877.1 353.3 877.2 352.3 877.3 351.3 877.5 350.3 878.4 349.3 877.8 348.3 878 347.3 877.9 346.3 878.1 345.3 878.7 344.3 879 343.3 879.1 342.3 878.8 341.3 879.5 340.3 879.9 339.3 879.8 338.3 880.3 337.3 880 336.3 879.8 335.3 880.1 334.3 880.4 333.3 880.7 332.3 880.3 331.3 880.5 330.3 880.6 329.3 881.1 328.3 880.8 327.3 881.2 326.3 881.9 325.3 881.6 324.3 881.7 323.3 882 322.3 882.5 321.3 881.7 320.3 882.3 319.3 882 318.3 882.4 317.3 882.7 316.3 882.7 315.3 882.7 314.3 883.4 313.3 882.6 312.3 882.8 311.3 882.9 310.3 882.9 309.3 883.1 308.3 883.3 307.3 883.2 306.3 883.2 305.3 883.5 304.3 884.3 303.3 883.9 302.3 884 301.3 884.2 300.3 884.2 299.3 884.4 298.3 883.9 297.3 884.2 296.3 884.2 295.3 884 294.3 884.1 293.3 884.5 292.3 884.7 291.3 884.7 290.3 884.8 289.3 884.7 288.3 884.9 287.3 884.5 286.3 884.4 285.3 884.5 284.3 884.5 283.3 885.1 282.3 885.7 281.3 885.3 280.3 885.1 279.3 884.9 278.3 884.8 277.3 884.7 276.3 884.8 275.3 884.8 274.3 884.9 273.3 884.3 272.3 884.5 271.3 884.1 270.3 884.6 269.3 884.3 268.3 884 267.3 884 266.3 884.3 265.3 884.5 264.3 883.8 263.3 883.8 262.3 884 261.3 883.8 260.3 884.7 259.3 884 258.3 884.3 257.3 883.9 256.3 883.6 255.3 883.6 254.3 883.6 253.3 883.6 252.3 883.7 251.3 883.6 250.3 883.6 249.3 883.9 248.3 884 247.3 884 246.3 883.5 245.3 883.7 244.3 883.9 243.3 883.7 242.3 883.6 241.3 883.4 240.3 883.7 239.3 883.7 238.3 884 237.3 883.6 236.3 884.1 235.3 884.2 234.3 883.5 233.3 883.3 232.3 883.6 231.3 884.2 230.3 883.3 229.3 883.7 228.3 883.2 227.3 883.3 226.3 883.3 225.3 883.2 224.3 883.8 223.3 883.5 222.3 883.3 221.3 883.6 220.3 884.3 219.3 883.7 218.3 883.4 217.3 883.7 216.3 883.7 215.3 884.1 214.3 884 213.3 883.8 212.3 883.3 211.3 883.3 210.3 884.2 209.3 883.8 208.3 883.7 207.3 883.4 206.3 883.6 205.3 883.9 204.3 883.8 203.3 884 202.3 883.8 201.3 883.6 200.3 883.6 199.3 883.9 198.3 884 197.3 883.7 196.3 883.6 195.3 884.3 194.3 883.8 193.3 884 192.3 883.7 191.3 883.9 190.3 884 189.3 883.8 188.3 883.5 187.3 884.1 186.3 883.7 185.3 883.8 184.3 883.4 183.3 883.7 182.3 883.7 181.3 883.3 180.3 883.5 179.3 883.7 178.3 883.6 177.3 883.2 176.3 883.9 175.3 883.9 174.3 883.8 173.3 883.3 172.3 883.1 171.3 883.2 170.3 883.3 169.3 882.9 168.3 883 167.3 883 166.3 883.2 165.3 883.1 164.3 882.9 163.3 883.4 162.3 883 161.3 882.8 160.3 882.4 159.3 882.5 158.3 883.3 157.3 882.6 156.3 882.6 155.3 882.7 154.3 882.6 153.3 882.7 152.3 882.4 151.3 882.4 150.3 882.2 149.3 882.9 148.3 882.1 147.3 882.2 146.3 882.1 145.3 882.3 144.3 882.1 143.3 882.4 142.3 882.4 141.3 882 140.3 882.2 139.3 882.3 138.3 881.8 137.3 882.3 136.3 882.2 135.3 882.2 134.3 882.2 133.3 881.7 132.3 882.1 131.3 882.5 130.3 882.4 129.3 882.2 128.3 882.9 127.3 882.9 126.3 882.6 125.3 883.2 124.3 882.8 123.3 883 122.3 883.2 121.3 883.7 120.3 883.6 119.3 883.5 118.3 884 117.3 883.8 116.3 883.9 115.3 884.4 114.3 884.1 113.3 884.4 112.3 884.2 111.3 885.1 110.3 884.4 109.3 885 108.3 885 107.3 885.5 106.3 885.4 105.3 885.2 104.3 885 103.3 884.9 102.3 884.9 101.3 884.4 100.3 884.8 99.3 884.9 98.3 884.6 97.3 884.6z" fill="none" stroke="#0000ff" stroke-opacity="0.22" stroke-width="1.8" stroke-linejoin="round"/><path d="M97.3 876.1 98.3 876.4 99.3 876.2 100.3 875.9 101.3 876 102.3 875.9 103.3 876.1 104.3 876.5 105.3 875.9 106.3 876.5 107.3 876.1 108.3 876.5 109.3 876.3 110.3 875.8 111.3 875.8 112.3 875.9 113.3 876.1 114.3 875.1 115.3 874.9 116.3 875.2 117.3 875.5 118.3 875.5 119.3 875 120.3 874.9 121.3 874.8 122.3 875.1 123.3 874.7 124.3 874.7 125.3 874.1 126.3 874.3 127.3 874.4 128.3 873.9 129.3 874.3 130.3 873.7 131.3 873.6 132.3 873.6 133.3 873.6 134.3 873.4 135.3 873.5 136.3 873.4 137.3 873.4 138.3 873.3 139.3 872.9 140.3 873.7 141.3 873.6 142.3 873.9 143.3 873.2 144.3 873.8 145.3 873 146.3 873.8 147.3 873.9 148.3 873.9 149.3 874 150.3 873.9 151.3 873.3 152.3 873.9 153.3 874.1 154.3 874.3 155.3 873.9 156.3 873.7 157.3 874.3 158.3 874.2 159.3 874.4 160.3 874.7 161.3 874.7 162.3 874.3 163.3 874.8 164.3 874.6 165.3 874.6 166.3 875 167.3 875.3 168.3 875 169.3 874.8 170.3 875 171.3 875.1 172.3 874.9 173.3 875.1 174.3 875.3 175.3 875.4 176.3 874.9 177.3 875.5 178.3 875.3 179.3 875.3 180.3 875.6 181.3 875.3 182.3 875.6 183.3 875 184.3 875.5 185.3 875 186.3 875.6 187.3 875.8 188.3 875.8 189.3 875.5 190.3 876 191.3 875.8 192.3 876 193.3 875.9 194.3 875.5 195.3 875.8 196.3 875.9 197.3 876.1 198.3 876.1 199.3 875.6 200.3 876 201.3 876 202.3 875.2 203.3 875.9 204.3 875.5 205.3 875.9 206.3 875.3 207.3 875.5 208.3 875.4 209.3 875.7 210.3 875.4 211.3 875 212.3 875.6 213.3 875.4 214.3 875.4 215.3 875.6 216.3 875.5 217.3 875.3 218.3 875.4 219.3 875.7 220.3 874.7 221.3 875.7 222.3 875.6 223.3 875.4 224.3 875.6 225.3 875.2 226.3 875.6 227.3 875.3 228.3 875.5 229.3 875.2 230.3 875 231.3 875.2 232.3 875.1 233.3 875.2 234.3 875.4 235.3 875.3 236.3 875.3 237.3 875.3 238.3 875 239.3 874.7 240.3 875.3 241.3 874.7 242.3 875.6 243.3 875.6 244.3 875.7 245.3 875.6 246.3 875.6 247.3 874.8 248.3 875 249.3 875.6 250.3 875.5 251.3 875.6 252.3 875.3 253.3 874.9 254.3 875.9 255.3 875.8 256.3 875.7 257.3 875.4 258.3 875 259.3 875.1 260.3 875.6 261.3 875.6 262.3 875.9 263.3 875.6 264.3 875.8 265.3 875.8 266.3 876 267.3 876.1 268.3 875.9 269.3 875.7 270.3 875.8 271.3 875.6 272.3 876.2 273.3 876.4 274.3 876.1 275.3 876.2 276.3 876.4 277.3 876.5 278.3 876.4 279.3 876.6 280.3 876.2 281.3 876.2 282.3 876.3 283.3 876.7 284.3 876.5 285.3 876.2 286.3 876.1 287.3 875.9 288.3 876.1 289.3 876 290.3 875.8 291.3 876 292.3 875.5 293.3 875.9 294.3 875.7 295.3 875.5 296.3 875.5 297.3 875.4 298.3 875.8 299.3 875.5 300.3 875.4 301.3 875.2 302.3 875.2 303.3 874.4 304.3 875.2 305.3 875.2 306.3 874.8 307.3 874.5 308.3 874.8 309.3 874.6 310.3 874.5 311.3 874.5 312.3 874.2 313.3 873.9 314.3 874.2 315.3 873.6 316.3 873.6 317.3 873.5 318.3 873.6 319.3 873.4 320.3 873.6 321.3 873.2 322.3 872.7 323.3 873 324.3 873.1 325.3 872.7 326.3 872.4 327.3 872.7 328.3 872.2 329.3 872.4 330.3 872.1 331.3 872.3 332.3 872.1 333.3 871.6 334.3 871.7 335.3 871.7 336.3 871.5 337.3 871.4 338.3 871.3 339.3 870.9 340.3 870.6 341.3 870.6 342.3 870.2 343.3 870.3 344.3 870.3 345.3 870 346.3 869.7 347.3 869.6 348.3 869.4 349.3 869.3 350.3 868.7 351.3 868.7 352.3 868.8 353.3 868.1 354.3 867.8 355.3 868 356.3 867.9 357.3 867.4 358.3 867.8 359.3 866.9 360.3 866.9 361.3 867.2 362.3 866.8 363.3 866.3 364.3 866.7 365.3 866.4 366.3 866.2 367.3 866.3 368.3 865.9 369.3 865.9 370.3 865.3 371.3 865.6 372.3 865 373.3 864.5 374.3 864.8 375.3 864.4 376.3 864.4 377.3 864.6 378.3 864.3 379.3 864.3 380.3 863.6 381.3 864.1 382.3 863.9 383.3 863.4 384.3 863.2 385.3 863.2 386.3 863.6 387.3 863.5 388.3 863.4 389.3 862.5 390.3 863.2 391.3 863.3 392.3 865 392.5 865.4 L392.5 869 392.3 869.8 391.3 870.7 390.3 871.5 389.3 871.6 388.3 871.7 387.3 871.4 386.3 871.6 385.3 871.5 384.3 871.6 383.3 871.5 382.3 871.7 381.3 872.3 380.3 872.2 379.3 872.5 378.3 872.6 377.3 873.3 376.3 872.6 375.3 873.3 374.3 873.5 373.3 873.2 372.3 873.5 371.3 873.6 370.3 874.3 369.3 874.1 368.3 874.5 367.3 874.5 366.3 874.7 365.3 875.5 364.3 874.9 363.3 875.3 362.3 876.2 361.3 875.6 360.3 875.7 359.3 876.1 358.3 876.1 357.3 876.3 356.3 876.3 355.3 876.5 354.3 877.1 353.3 877.2 352.3 877.3 351.3 877.5 350.3 878.4 349.3 877.8 348.3 878 347.3 877.9 346.3 878.1 345.3 878.7 344.3 879 343.3 879.1 342.3 878.8 341.3 879.5 340.3 879.9 339.3 879.8 338.3 880.3 337.3 880 336.3 879.8 335.3 880.1 334.3 880.4 333.3 880.7 332.3 880.3 331.3 880.5 330.3 880.6 329.3 881.1 328.3 880.8 327.3 881.2 326.3 881.9 325.3 881.6 324.3 881.7 323.3 882 322.3 882.5 321.3 881.7 320.3 882.3 319.3 882 318.3 882.4 317.3 882.7 316.3 882.7 315.3 882.7 314.3 883.4 313.3 882.6 312.3 882.8 311.3 882.9 310.3 882.9 309.3 883.1 308.3 883.3 307.3 883.2 306.3 883.2 305.3 883.5 304.3 884.3 303.3 883.9 302.3 884 301.3 884.2 300.3 884.2 299.3 884.4 298.3 883.9 297.3 884.2 296.3 884.2 295.3 884 294.3 884.1 293.3 884.5 292.3 884.7 291.3 884.7 290.3 884.8 289.3 884.7 288.3 884.9 287.3 884.5 286.3 884.4 285.3 884.5 284.3 884.5 283.3 885.1 282.3 885.7 281.3 885.3 280.3 885.1 279.3 884.9 278.3 884.8 277.3 884.7 276.3 884.8 275.3 884.8 274.3 884.9 273.3 884.3 272.3 884.5 271.3 884.1 270.3 884.6 269.3 884.3 268.3 884 267.3 884 266.3 884.3 265.3 884.5 264.3 883.8 263.3 883.8 262.3 884 261.3 883.8 260.3 884.7 259.3 884 258.3 884.3 257.3 883.9 256.3 883.6 255.3 883.6 254.3 883.6 253.3 883.6 252.3 883.7 251.3 883.6 250.3 883.6 249.3 883.9 248.3 884 247.3 884 246.3 883.5 245.3 883.7 244.3 883.9 243.3 883.7 242.3 883.6 241.3 883.4 240.3 883.7 239.3 883.7 238.3 884 237.3 883.6 236.3 884.1 235.3 884.2 234.3 883.5 233.3 883.3 232.3 883.6 231.3 884.2 230.3 883.3 229.3 883.7 228.3 883.2 227.3 883.3 226.3 883.3 225.3 883.2 224.3 883.8 223.3 883.5 222.3 883.3 221.3 883.6 220.3 884.3 219.3 883.7 218.3 883.4 217.3 883.7 216.3 883.7 215.3 884.1 214.3 884 213.3 883.8 212.3 883.3 211.3 883.3 210.3 884.2 209.3 883.8 208.3 883.7 207.3 883.4 206.3 883.6 205.3 883.9 204.3 883.8 203.3 884 202.3 883.8 201.3 883.6 200.3 883.6 199.3 883.9 198.3 884 197.3 883.7 196.3 883.6 195.3 884.3 194.3 883.8 193.3 884 192.3 883.7 191.3 883.9 190.3 884 189.3 883.8 188.3 883.5 187.3 884.1 186.3 883.7 185.3 883.8 184.3 883.4 183.3 883.7 182.3 883.7 181.3 883.3 180.3 883.5 179.3 883.7 178.3 883.6 177.3 883.2 176.3 883.9 175.3 883.9 174.3 883.8 173.3 883.3 172.3 883.1 171.3 883.2 170.3 883.3 169.3 882.9 168.3 883 167.3 883 166.3 883.2 165.3 883.1 164.3 882.9 163.3 883.4 162.3 883 161.3 882.8 160.3 882.4 159.3 882.5 158.3 883.3 157.3 882.6 156.3 882.6 155.3 882.7 154.3 882.6 153.3 882.7 152.3 882.4 151.3 882.4 150.3 882.2 149.3 882.9 148.3 882.1 147.3 882.2 146.3 882.1 145.3 882.3 144.3 882.1 143.3 882.4 142.3 882.4 141.3 882 140.3 882.2 139.3 882.3 138.3 881.8 137.3 882.3 136.3 882.2 135.3 882.2 134.3 882.2 133.3 881.7 132.3 882.1 131.3 882.5 130.3 882.4 129.3 882.2 128.3 882.9 127.3 882.9 126.3 882.6 125.3 883.2 124.3 882.8 123.3 883 122.3 883.2 121.3 883.7 120.3 883.6 119.3 883.5 118.3 884 117.3 883.8 116.3 883.9 115.3 884.4 114.3 884.1 113.3 884.4 112.3 884.2 111.3 885.1 110.3 884.4 109.3 885 108.3 885 107.3 885.5 106.3 885.4 105.3 885.2 104.3 885 103.3 884.9 102.3 884.9 101.3 884.4 100.3 884.8 99.3 884.9 98.3 884.6 97.3 884.6z" fill="#0000ff" stroke="#0000ff" stroke-width="0.3" stroke-linejoin="round"/><path d="M391 871.3l1.4 1.9l-1.4 1.9l-1.4-1.9zM390.3 874.2l1.4 1.9l-1.4 1.9l-1.4-1.9zM390.7 877.7l1.4 1.9l-1.4 1.9l-1.4-1.9zM390.3 880.7l1.4 1.9l-1.4 1.9l-1.4-1.9zM390.9 885l1.4 1.9l-1.4 1.9l-1.4-1.9zM390.5 888l1.4 1.9l-1.4 1.9l-1.4-1.9zM390.4 891.5l1.4 1.9l-1.4 1.9l-1.4-1.9zM390.9 894.3l1.4 1.9l-1.4 1.9l-1.4-1.9zM390.7 896.6l1.4 1.9l-1.4 1.9l-1.4-1.9z" fill="#0000ff" fill-opacity="0.17" stroke="#0000ff" stroke-opacity="0.28" stroke-width="0.5"/></g>
<path d="M121.5 949.5v4.86M173.5 949.5v4.86M225.5 949.5v4.86M277.5 949.5v4.86M329.5 949.5v4.86M381.5 949.5v4.86M80.5 870.5h-4.86M80.5 903.5h-4.86M80.5 936.5h-4.86" stroke="#000" stroke-width="1.11" fill="none"/>
<rect x="80.5" y="846.5" width="329.0" height="103" fill="none" stroke="#000" stroke-width="1.11"/>
<g font-size="13.889">
<text x="121.26" y="969.78" text-anchor="middle">22:00</text>
<text x="173.28" y="969.78" text-anchor="middle">00:00</text>
<text x="225.29" y="969.78" text-anchor="middle">02:00</text>
<text x="277.31" y="969.78" text-anchor="middle">04:00</text>
<text x="329.33" y="969.78" text-anchor="middle">06:00</text>
<text x="381.34" y="969.78" text-anchor="middle">08:00</text>
<text x="69.90" y="875.78" text-anchor="end">2500</text>
<text x="69.90" y="908.78" text-anchor="end">2000</text>
<text x="69.90" y="941.78" text-anchor="end">1500</text>
<text x="25.0" y="898.0" text-anchor="middle" transform="rotate(-90 25.0 898.0)">Flux [SFU]</text>
</g>
<text x="244.20" y="838.17" font-size="16.667" text-anchor="middle">NoRP 35GHz Stokes-I</text>
</g>
<g id="ax51">
<clipPath id="cp51"><rect x="472.5" y="846.5" width="329.0" height="103"/></clipPath>
<g clip-path="url(#cp51)"><path d="M490.6 863.5H782.7M490.6 869.5H782.7M490.6 874.5H782.7M490.6 880.5H782.7M490.6 886.5H782.7M490.6 891.5H782.7M490.6 897.5H782.7M490.6 903.5H782.7M490.6 909.5H782.7M490.6 914.5H782.7M490.6 920.5H782.7M490.6 926.5H782.7M490.6 931.5H782.7" stroke="#ffa500" stroke-width="2.8" stroke-linecap="round" fill="none"/><path d="M597.6 850.1l1.1 1.4l-1.1 1.4l-1.1-1.4zM599.5 850.1l1.1 1.4l-1.1 1.4l-1.1-1.4zM601.5 850.1l1.1 1.4l-1.1 1.4l-1.1-1.4zM594 850.1l1.1 1.4l-1.1 1.4l-1.1-1.4zM595.8 850.1l1.1 1.4l-1.1 1.4l-1.1-1.4zM597.8 850.1l1.1 1.4l-1.1 1.4l-1.1-1.4zM521.3 850.1l1.1 1.4l-1.1 1.4l-1.1-1.4zM523.6 850.1l1.1 1.4l-1.1 1.4l-1.1-1.4zM744.3 850.1l1.1 1.4l-1.1 1.4l-1.1-1.4zM732.3 850.1l1.1 1.4l-1.1 1.4l-1.1-1.4zM734 850.1l1.1 1.4l-1.1 1.4l-1.1-1.4zM735.8 850.1l1.1 1.4l-1.1 1.4l-1.1-1.4zM509.4 850.1l1.1 1.4l-1.1 1.4l-1.1-1.4zM727.5 850.1l1.1 1.4l-1.1 1.4l-1.1-1.4zM729.5 850.1l1.1 1.4l-1.1 1.4l-1.1-1.4zM554.5 850.1l1.1 1.4l-1.1 1.4l-1.1-1.4zM772.5 850.1l1.1 1.4l-1.1 1.4l-1.1-1.4zM774.4 850.1l1.1 1.4l-1.1 1.4l-1.1-1.4zM776.8 850.1l1.1 1.4l-1.1 1.4l-1.1-1.4zM591.2 850.1l1.1 1.4l-1.1 1.4l-1.1-1.4zM702 850.1l1.1 1.4l-1.1 1.4l-1.1-1.4zM529.6 850.1l1.1 1.4l-1.1 1.4l-1.1-1.4zM531.6 850.1l1.1 1.4l-1.1 1.4l-1.1-1.4zM533 850.1l1.1 1.4l-1.1 1.4l-1.1-1.4zM704.3 850.1l1.1 1.4l-1.1 1.4l-1.1-1.4zM542.2 850.1l1.1 1.4l-1.1 1.4l-1.1-1.4zM544.4 850.1l1.1 1.4l-1.1 1.4l-1.1-1.4zM545.8 850.1l1.1 1.4l-1.1 1.4l-1.1-1.4zM755.7 850.1l1.1 1.4l-1.1 1.4l-1.1-1.4zM757.8 850.1l1.1 1.4l-1.1 1.4l-1.1-1.4zM759.1 850.1l1.1 1.4l-1.1 1.4l-1.1-1.4zM752 850.1l1.1 1.4l-1.1 1.4l-1.1-1.4zM753.8 850.1l1.1 1.4l-1.1 1.4l-1.1-1.4zM519.2 850.1l1.1 1.4l-1.1 1.4l-1.1-1.4zM521.2 850.1l1.1 1.4l-1.1 1.4l-1.1-1.4zM523.1 850.1l1.1 1.4l-1.1 1.4l-1.1-1.4zM721.4 850.1l1.1 1.4l-1.1 1.4l-1.1-1.4zM546.4 850.1l1.1 1.4l-1.1 1.4l-1.1-1.4zM548.3 850.1l1.1 1.4l-1.1 1.4l-1.1-1.4zM550.2 850.1l1.1 1.4l-1.1 1.4l-1.1-1.4zM602.6 850.1l1.1 1.4l-1.1 1.4l-1.1-1.4zM755.1 850.1l1.1 1.4l-1.1 1.4l-1.1-1.4zM756.9 850.1l1.1 1.4l-1.1 1.4l-1.1-1.4zM758.6 850.1l1.1 1.4l-1.1 1.4l-1.1-1.4zM595.1 850.1l1.1 1.4l-1.1 1.4l-1.1-1.4zM767.3 850.1l1.1 1.4l-1.1 1.4l-1.1-1.4zM769.1 850.1l1.1 1.4l-1.1 1.4l-1.1-1.4zM537.9 850.1l1.1 1.4l-1.1 1.4l-1.1-1.4zM659.5 850.1l1.1 1.4l-1.1 1.4l-1.1-1.4zM537.9 850.1l1.1 1.4l-1.1 1.4l-1.1-1.4zM539.7 850.1l1.1 1.4l-1.1 1.4l-1.1-1.4zM541.3 850.1l1.1 1.4l-1.1 1.4l-1.1-1.4zM607.1 850.1l1.1 1.4l-1.1 1.4l-1.1-1.4zM598.6 850.1l1.1 1.4l-1.1 1.4l-1.1-1.4zM580.7 850.1l1.1 1.4l-1.1 1.4l-1.1-1.4zM661.5 850.1l1.1 1.4l-1.1 1.4l-1.1-1.4zM663.5 850.1l1.1 1.4l-1.1 1.4l-1.1-1.4zM665.3 850.1l1.1 1.4l-1.1 1.4l-1.1-1.4zM590.1 850.1l1.1 1.4l-1.1 1.4l-1.1-1.4zM752.2 850.1l1.1 1.4l-1.1 1.4l-1.1-1.4zM516.5 850.1l1.1 1.4l-1.1 1.4l-1.1-1.4zM757.2 850.1l1.1 1.4l-1.1 1.4l-1.1-1.4zM776.9 850.1l1.1 1.4l-1.1 1.4l-1.1-1.4zM685.9 850.1l1.1 1.4l-1.1 1.4l-1.1-1.4zM688.3 850.1l1.1 1.4l-1.1 1.4l-1.1-1.4zM690.2 850.1l1.1 1.4l-1.1 1.4l-1.1-1.4zM661.8 850.1l1.1 1.4l-1.1 1.4l-1.1-1.4zM664.1 850.1l1.1 1.4l-1.1 1.4l-1.1-1.4zM650.8 850.1l1.1 1.4l-1.1 1.4l-1.1-1.4zM545.7 850.1l1.1 1.4l-1.1 1.4l-1.1-1.4zM718.6 850.1l1.1 1.4l-1.1 1.4l-1.1-1.4zM725.3 850.1l1.1 1.4l-1.1 1.4l-1.1-1.4zM635.9 850.1l1.1 1.4l-1.1 1.4l-1.1-1.4zM777.8 850.1l1.1 1.4l-1.1 1.4l-1.1-1.4zM730.7 850.1l1.1 1.4l-1.1 1.4l-1.1-1.4zM732.6 850.1l1.1 1.4l-1.1 1.4l-1.1-1.4zM734 850.1l1.1 1.4l-1.1 1.4l-1.1-1.4zM506.5 850.1l1.1 1.4l-1.1 1.4l-1.1-1.4zM711.1 850.1l1.1 1.4l-1.1 1.4l-1.1-1.4zM557.8 850.1l1.1 1.4l-1.1 1.4l-1.1-1.4zM516.2 850.1l1.1 1.4l-1.1 1.4l-1.1-1.4zM518.4 850.1l1.1 1.4l-1.1 1.4l-1.1-1.4zM520.3 850.1l1.1 1.4l-1.1 1.4l-1.1-1.4zM627.5 850.1l1.1 1.4l-1.1 1.4l-1.1-1.4zM629.4 850.1l1.1 1.4l-1.1 1.4l-1.1-1.4zM649.9 850.1l1.1 1.4l-1.1 1.4l-1.1-1.4zM741.9 850.1l1.1 1.4l-1.1 1.4l-1.1-1.4zM738.4 850.1l1.1 1.4l-1.1 1.4l-1.1-1.4zM740.8 850.1l1.1 1.4l-1.1 1.4l-1.1-1.4zM742.3 850.1l1.1 1.4l-1.1 1.4l-1.1-1.4zM758.9 850.1l1.1 1.4l-1.1 1.4l-1.1-1.4zM761.1 850.1l1.1 1.4l-1.1 1.4l-1.1-1.4zM762.3 850.1l1.1 1.4l-1.1 1.4l-1.1-1.4zM715.9 850.1l1.1 1.4l-1.1 1.4l-1.1-1.4zM588.4 850.1l1.1 1.4l-1.1 1.4l-1.1-1.4zM508.3 850.1l1.1 1.4l-1.1 1.4l-1.1-1.4zM631.1 850.1l1.1 1.4l-1.1 1.4l-1.1-1.4zM538.1 850.1l1.1 1.4l-1.1 1.4l-1.1-1.4zM540.1 850.1l1.1 1.4l-1.1 1.4l-1.1-1.4zM717.7 850.1l1.1 1.4l-1.1 1.4l-1.1-1.4zM719.8 850.1l1.1 1.4l-1.1 1.4l-1.1-1.4zM644.9 850.1l1.1 1.4l-1.1 1.4l-1.1-1.4zM591.6 850.1l1.1 1.4l-1.1 1.4l-1.1-1.4zM720.7 850.1l1.1 1.4l-1.1 1.4l-1.1-1.4zM510.8 850.1l1.1 1.4l-1.1 1.4l-1.1-1.4zM667.3 850.1l1.1 1.4l-1.1 1.4l-1.1-1.4zM669.3 850.1l1.1 1.4l-1.1 1.4l-1.1-1.4zM763.8 850.1l1.1 1.4l-1.1 1.4l-1.1-1.4zM765.8 850.1l1.1 1.4l-1.1 1.4l-1.1-1.4zM768.3 850.1l1.1 1.4l-1.1 1.4l-1.1-1.4zM735.5 850.1l1.1 1.4l-1.1 1.4l-1.1-1.4zM706 850.1l1.1 1.4l-1.1 1.4l-1.1-1.4zM708.3 850.1l1.1 1.4l-1.1 1.4l-1.1-1.4zM761.7 850.1l1.1 1.4l-1.1 1.4l-1.1-1.4zM599.4 850.1l1.1 1.4l-1.1 1.4l-1.1-1.4zM601.6 850.1l1.1 1.4l-1.1 1.4l-1.1-1.4zM606.3 850.1l1.1 1.4l-1.1 1.4l-1.1-1.4zM608.1 850.1l1.1 1.4l-1.1 1.4l-1.1-1.4zM610.4 850.1l1.1 1.4l-1.1 1.4l-1.1-1.4zM590.5 850.1l1.1 1.4l-1.1 1.4l-1.1-1.4zM592.8 850.1l1.1 1.4l-1.1 1.4l-1.1-1.4zM775.5 850.1l1.1 1.4l-1.1 1.4l-1.1-1.4zM494.2 850.1l1.1 1.4l-1.1 1.4l-1.1-1.4zM503.6 850.1l1.1 1.4l-1.1 1.4l-1.1-1.4zM595.2 850.1l1.1 1.4l-1.1 1.4l-1.1-1.4zM597.1 850.1l1.1 1.4l-1.1 1.4l-1.1-1.4zM517 850.1l1.1 1.4l-1.1 1.4l-1.1-1.4zM519.1 850.1l1.1 1.4l-1.1 1.4l-1.1-1.4zM596.8 850.1l1.1 1.4l-1.1 1.4l-1.1-1.4zM753.7 850.1l1.1 1.4l-1.1 1.4l-1.1-1.4zM755.9 850.1l1.1 1.4l-1.1 1.4l-1.1-1.4zM632.5 850.1l1.1 1.4l-1.1 1.4l-1.1-1.4zM669 850.1l1.1 1.4l-1.1 1.4l-1.1-1.4zM684 850.1l1.1 1.4l-1.1 1.4l-1.1-1.4zM624.5 850.1l1.1 1.4l-1.1 1.4l-1.1-1.4zM626.8 850.1l1.1 1.4l-1.1 1.4l-1.1-1.4zM774.4 850.1l1.1 1.4l-1.1 1.4l-1.1-1.4zM776.1 850.1l1.1 1.4l-1.1 1.4l-1.1-1.4zM778.2 850.1l1.1 1.4l-1.1 1.4l-1.1-1.4zM756.1 850.1l1.1 1.4l-1.1 1.4l-1.1-1.4zM641.9 850.1l1.1 1.4l-1.1 1.4l-1.1-1.4zM617.6 850.1l1.1 1.4l-1.1 1.4l-1.1-1.4zM726.7 850.1l1.1 1.4l-1.1 1.4l-1.1-1.4zM530.6 850.1l1.1 1.4l-1.1 1.4l-1.1-1.4zM567.2 850.1l1.1 1.4l-1.1 1.4l-1.1-1.4zM566.8 850.1l1.1 1.4l-1.1 1.4l-1.1-1.4zM568.6 850.1l1.1 1.4l-1.1 1.4l-1.1-1.4zM571.3 850.1l1.1 1.4l-1.1 1.4l-1.1-1.4zM547.1 850.1l1.1 1.4l-1.1 1.4l-1.1-1.4zM695 850.1l1.1 1.4l-1.1 1.4l-1.1-1.4zM539.6 850.1l1.1 1.4l-1.1 1.4l-1.1-1.4zM714.4 850.1l1.1 1.4l-1.1 1.4l-1.1-1.4zM716.7 850.1l1.1 1.4l-1.1 1.4l-1.1-1.4zM717.6 850.1l1.1 1.4l-1.1 1.4l-1.1-1.4zM644.6 850.1l1.1 1.4l-1.1 1.4l-1.1-1.4zM541.7 850.1l1.1 1.4l-1.1 1.4l-1.1-1.4zM498.1 850.1l1.1 1.4l-1.1 1.4l-1.1-1.4zM500 850.1l1.1 1.4l-1.1 1.4l-1.1-1.4zM537 850.1l1.1 1.4l-1.1 1.4l-1.1-1.4zM666.7 850.1l1.1 1.4l-1.1 1.4l-1.1-1.4zM562.3 850.1l1.1 1.4l-1.1 1.4l-1.1-1.4zM564.5 850.1l1.1 1.4l-1.1 1.4l-1.1-1.4zM659.2 850.1l1.1 1.4l-1.1 1.4l-1.1-1.4zM669.3 850.1l1.1 1.4l-1.1 1.4l-1.1-1.4zM671.3 850.1l1.1 1.4l-1.1 1.4l-1.1-1.4zM673 850.1l1.1 1.4l-1.1 1.4l-1.1-1.4zM654 850.1l1.1 1.4l-1.1 1.4l-1.1-1.4zM656 850.1l1.1 1.4l-1.1 1.4l-1.1-1.4zM757.1 850.1l1.1 1.4l-1.1 1.4l-1.1-1.4zM588.1 850.1l1.1 1.4l-1.1 1.4l-1.1-1.4zM590.4 850.1l1.1 1.4l-1.1 1.4l-1.1-1.4zM666.4 850.1l1.1 1.4l-1.1 1.4l-1.1-1.4zM765.3 850.1l1.1 1.4l-1.1 1.4l-1.1-1.4zM533.2 850.1l1.1 1.4l-1.1 1.4l-1.1-1.4zM521.5 850.1l1.1 1.4l-1.1 1.4l-1.1-1.4zM523.9 850.1l1.1 1.4l-1.1 1.4l-1.1-1.4z" fill="#ffa500" fill-opacity="0.16" stroke="#ffa500" stroke-opacity="0.34" stroke-width="0.5"/><path d="M490.6 857.5H782.7" stroke="#ffa500" stroke-width="2.0999999999999996" stroke-linecap="round" stroke-opacity="0.58" fill="none"/><path d="M490.6 857.5H495M497.1 857.5H500.4M505.2 857.5H507.4M508.4 857.5H525.1M532.1 857.5H535.1M536.3 857.5H539.9M541.2 857.5H545.4M548.2 857.5H552.2M554.6 857.5H558M561 857.5H564.8M566.2 857.5H570.1M572.2 857.5H578.9M593.8 857.5H597.1M599.4 857.5H601.4M605 857.5H613.9M615.9 857.5H618.4M619.4 857.5H623.2M624.5 857.5H635.8M637.7 857.5H651.9M656.2 857.5H661.2M662.2 857.5H670M671.6 857.5H713.7M716.4 857.5H723.3M725.2 857.5H726.5M727.6 857.5H731.5M732.7 857.5H733.8M738 857.5H742M745 857.5H768.5M771.7 857.5H775.3M776.9 857.5H779.8M781.4 857.5H782.7" stroke="#ffa500" stroke-width="2.3" stroke-linecap="round" stroke-opacity="0.60" fill="none"/><path d="M490.6 937.5H782.7" stroke="#ffa500" stroke-width="2.0999999999999996" stroke-linecap="round" stroke-opacity="0.71" fill="none"/><path d="M490.6 937.5H493.8M495.3 937.5H505.6M506.7 937.5H518.7M519.9 937.5H521M523.1 937.5H525.9M527.1 937.5H533.2M534.4 937.5H536.5M539.6 937.5H549.9M553.9 937.5H556.6M558.2 937.5H562.7M564 937.5H566.9M568.8 937.5H570.5M572.4 937.5H576.3M583.7 937.5H587.4M588.2 937.5H594.1M596.4 937.5H610.1M612.4 937.5H614.8M616.2 937.5H619.1M621.8 937.5H627.4M629.1 937.5H639.3M642.2 937.5H646.2M647.3 937.5H649.5M651 937.5H654.3M655.5 937.5H656.7M658.8 937.5H663.3M665.3 937.5H684.6M689.7 937.5H693.5M694.9 937.5H703.1M704.5 937.5H707M709.2 937.5H711.5M713.4 937.5H722.3M723.6 937.5H724.6M726.3 937.5H727.9M730.4 937.5H731.8M732.8 937.5H741.3M746.7 937.5H753.8M754.7 937.5H757.8M759.2 937.5H766.9M768.3 937.5H780.2M782.2 937.5H782.7" stroke="#ffa500" stroke-width="2.3" stroke-linecap="round" stroke-opacity="0.64" fill="none"/><path d="M490.6 943.5H782.7" stroke="#ffa500" stroke-width="2.0999999999999996" stroke-linecap="round" stroke-opacity="0.24" fill="none"/><path d="M490.6 943.5H492.2M497.9 943.5H499.1M503.6 943.5H505.6M513.3 943.5H514.7M515.7 943.5H520.5M521.9 943.5H523.4M529.5 943.5H537.3M543.2 943.5H550.3M555.3 943.5H558M565.6 943.5H567.5M574.6 943.5H583.2M591.8 943.5H594.4M604.1 943.5H607.9M610.1 943.5H611.8M615.4 943.5H622.7M626.8 943.5H628.2M629 943.5H640.2M644.7 943.5H646.1M651.7 943.5H657.6M658.5 943.5H660M668.2 943.5H673M681 943.5H683.1M684.4 943.5H689.9M694.6 943.5H697.3M699.6 943.5H702.3M706.5 943.5H717.2M718.1 943.5H722.5M735.9 943.5H737.9M739 943.5H740.7M746.1 943.5H752.9M753.7 943.5H755.5M759.8 943.5H762M766.2 943.5H772.9" stroke="#ffa500" stroke-width="2.3" stroke-linecap="round" stroke-opacity="0.46" fill="none"/><rect x="486" y="894.9" width="6.5" height="3" fill="#ffa500"/><rect x="782" y="894.9" width="6" height="3" fill="#ffa500"/><rect x="497" y="894.7" width="2.6" height="2" fill="#ffa500"/><rect x="538.1" y="894.7" width="2.6" height="2" fill="#ffa500"/><rect x="589.9" y="894.7" width="2.6" height="2" fill="#ffa500"/><rect x="642" y="894.7" width="2.6" height="2" fill="#ffa500"/><rect x="694.4" y="894.7" width="2.6" height="2" fill="#ffa500"/><rect x="746.2" y="894.7" width="2.6" height="2" fill="#ffa500"/><rect x="772.7" y="894.7" width="2.6" height="2" fill="#ffa500"/><rect x="778.7" y="894.7" width="2.6" height="2" fill="#ffa500"/></g>
<path d="M513.5 949.5v4.86M565.5 949.5v4.86M617.5 949.5v4.86M669.5 949.5v4.86M721.5 949.5v4.86M773.5 949.5v4.86M472.5 849.5h-4.86M472.5 896.5h-4.86M472.5 943.5h-4.86" stroke="#000" stroke-width="1.11" fill="none"/>
<rect x="472.5" y="846.5" width="329.0" height="103" fill="none" stroke="#000" stroke-width="1.11"/>
<g font-size="13.889">
<text x="513.26" y="969.78" text-anchor="middle">22:00</text>
<text x="565.28" y="969.78" text-anchor="middle">00:00</text>
<text x="617.29" y="969.78" text-anchor="middle">02:00</text>
<text x="669.31" y="969.78" text-anchor="middle">04:00</text>
<text x="721.33" y="969.78" text-anchor="middle">06:00</text>
<text x="773.34" y="969.78" text-anchor="middle">08:00</text>
<text x="461.90" y="854.78" text-anchor="end">100</text>
<text x="461.90" y="901.78" text-anchor="end">0</text>
<text x="461.90" y="948.78" text-anchor="end">−100</text>
</g>
<text x="636.20" y="838.17" font-size="16.667" text-anchor="middle">NoRP 35GHz Stokes-V</text>
</g>
<g id="ax60">
<path d="M80.5 1111.5v4.86M146.5 1111.5v4.86M211.5 1111.5v4.86M277.5 1111.5v4.86M343.5 1111.5v4.86M409.5 1111.5v4.86M80.5 1008.5h-4.86M80.5 1059.5h-4.86M80.5 1111.5h-4.86" stroke="#000" stroke-width="1.11" fill="none"/>
<rect x="80.5" y="1008.5" width="329.0" height="103" fill="none" stroke="#000" stroke-width="1.11"/>
<g font-size="13.889">
<text x="80.30" y="1131.78" text-anchor="middle">0.0</text>
<text x="146.10" y="1131.78" text-anchor="middle">0.2</text>
<text x="211.90" y="1131.78" text-anchor="middle">0.4</text>
<text x="277.70" y="1131.78" text-anchor="middle">0.6</text>
<text x="343.50" y="1131.78" text-anchor="middle">0.8</text>
<text x="409.30" y="1131.78" text-anchor="middle">1.0</text>
<text x="69.90" y="1013.78" text-anchor="end">1.0</text>
<text x="69.90" y="1064.78" text-anchor="end">0.5</text>
<text x="69.90" y="1116.78" text-anchor="end">0.0</text>
<text x="39.0" y="1060.0" text-anchor="middle" transform="rotate(-90 39.0 1060.0)">Flux [SFU]</text>
<text x="244.30" y="1150.77" text-anchor="middle">Time[UT]</text>
</g>
<text x="244.20" y="1000.17" font-size="16.667" text-anchor="middle">NoRP 80GHz Stokes-I</text>
<text x="194.85" y="1070.30" font-size="27.778">No Data</text>
</g>
<g id="ax61">
<path d="M472.5 1111.5v4.86M538.5 1111.5v4.86M603.5 1111.5v4.86M669.5 1111.5v4.86M735.5 1111.5v4.86M801.5 1111.5v4.86M472.5 1008.5h-4.86M472.5 1059.5h-4.86M472.5 1111.5h-4.86" stroke="#000" stroke-width="1.11" fill="none"/>
<rect x="472.5" y="1008.5" width="329.0" height="103" fill="none" stroke="#000" stroke-width="1.11"/>
<g font-size="13.889">
<text x="472.30" y="1131.78" text-anchor="middle">0.0</text>
<text x="538.10" y="1131.78" text-anchor="middle">0.2</text>
<text x="603.90" y="1131.78" text-anchor="middle">0.4</text>
<text x="669.70" y="1131.78" text-anchor="middle">0.6</text>
<text x="735.50" y="1131.78" text-anchor="middle">0.8</text>
<text x="801.30" y="1131.78" text-anchor="middle">1.0</text>
<text x="461.90" y="1013.78" text-anchor="end">1.0</text>
<text x="461.90" y="1064.78" text-anchor="end">0.5</text>
<text x="461.90" y="1116.78" text-anchor="end">0.0</text>
<text x="636.30" y="1150.77" text-anchor="middle">Time[UT]</text>
</g>
<text x="636.20" y="1000.17" font-size="16.667" text-anchor="middle">NoRP 80GHz Stokes-V</text>
<text x="586.85" y="1070.30" font-size="27.778">No Data</text>
</g>
</svg>
</body></html>
